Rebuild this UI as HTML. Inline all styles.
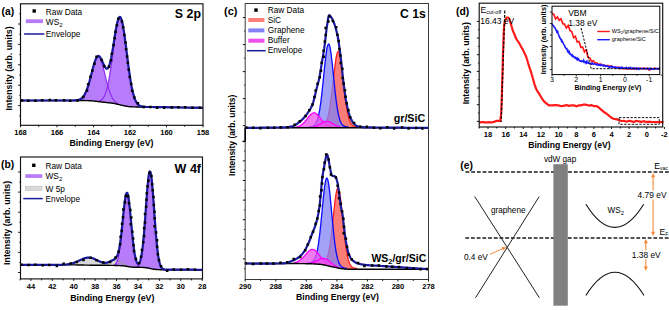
<!DOCTYPE html>
<html><head><meta charset="utf-8"><style>
html,body{margin:0;padding:0;background:#fff;}
svg{display:block;font-family:"Liberation Sans", sans-serif;}
</style></head><body>
<svg width="669" height="310" viewBox="0 0 669 310">
<rect x="0" y="0" width="669" height="310" fill="#fff"/>
<path d="M98.7,101.0 L99.2,100.9 L99.6,100.8 L100.1,100.6 L100.5,100.4 L101.0,100.2 L101.5,99.9 L101.9,99.5 L102.4,99.1 L102.8,98.6 L103.3,98.0 L103.7,97.2 L104.2,96.4 L104.7,95.5 L105.1,94.4 L105.6,93.3 L106.0,91.9 L106.5,90.4 L106.9,88.8 L107.4,86.9 L107.9,84.9 L108.3,82.7 L108.8,80.4 L109.2,77.9 L109.7,75.2 L110.1,72.3 L110.6,69.3 L111.1,66.2 L111.5,62.9 L112.0,59.5 L112.4,56.1 L112.9,52.6 L113.4,49.1 L113.8,45.7 L114.3,42.2 L114.7,38.9 L115.2,35.6 L115.6,32.6 L116.1,29.7 L116.6,27.0 L117.0,24.6 L117.5,22.5 L117.9,20.8 L118.4,19.3 L118.8,18.3 L119.3,17.6 L119.8,17.3 L120.2,17.4 L120.7,17.9 L121.1,18.8 L121.6,20.0 L122.0,21.7 L122.5,23.6 L123.0,25.9 L123.4,28.5 L123.9,31.3 L124.3,34.4 L124.8,37.6 L125.2,41.0 L125.7,44.6 L126.2,48.1 L126.6,51.8 L127.1,55.4 L127.5,59.0 L128.0,62.6 L128.4,66.1 L128.9,69.5 L129.4,72.7 L129.8,75.8 L130.3,78.8 L130.7,81.6 L131.2,84.2 L131.6,86.7 L132.1,88.9 L132.6,91.0 L133.0,92.9 L133.5,94.6 L133.9,96.2 L134.4,97.6 L134.8,98.9 L135.3,100.0 L135.8,101.0 L136.2,101.9 L136.7,102.7 L137.1,103.3 L137.6,103.9 L138.1,104.4 L138.5,104.8 L139.0,105.2 L139.4,105.5 L139.9,105.8 L140.3,106.0 L140.8,106.2 L141.3,106.3 L141.3,107.0 L138.5,107.0 L135.8,107.0 L133.0,106.9 L130.3,106.7 L127.5,106.4 L124.8,105.9 L122.0,105.3 L119.3,104.6 L116.6,104.0 L113.8,103.4 L111.1,103.0 L108.3,102.7 L105.6,102.4 L102.8,102.1 L100.1,101.8Z" fill="#b67cfa" stroke="none" fill-opacity="1"/>
<path d="M78.6,99.8 L79.0,99.7 L79.5,99.5 L80.0,99.3 L80.4,99.1 L80.9,98.8 L81.3,98.5 L81.8,98.2 L82.2,97.8 L82.7,97.3 L83.2,96.8 L83.6,96.2 L84.1,95.5 L84.5,94.8 L85.0,93.9 L85.4,93.0 L85.9,92.0 L86.4,91.0 L86.8,89.8 L87.3,88.5 L87.7,87.2 L88.2,85.8 L88.7,84.2 L89.1,82.7 L89.6,81.0 L90.0,79.3 L90.5,77.6 L90.9,75.8 L91.4,74.0 L91.9,72.2 L92.3,70.4 L92.8,68.6 L93.2,66.9 L93.7,65.3 L94.1,63.8 L94.6,62.3 L95.1,61.0 L95.5,59.9 L96.0,58.9 L96.4,58.0 L96.9,57.4 L97.3,56.9 L97.8,56.6 L98.3,56.6 L98.7,56.7 L99.2,57.1 L99.6,57.6 L100.1,58.3 L100.5,59.3 L101.0,60.3 L101.5,61.6 L101.9,63.0 L102.4,64.5 L102.8,66.1 L103.3,67.8 L103.7,69.6 L104.2,71.4 L104.7,73.3 L105.1,75.2 L105.6,77.1 L106.0,78.9 L106.5,80.8 L106.9,82.6 L107.4,84.3 L107.9,86.0 L108.3,87.5 L108.8,89.1 L109.2,90.5 L109.7,91.8 L110.1,93.1 L110.6,94.2 L111.1,95.3 L111.5,96.3 L112.0,97.2 L112.4,98.0 L112.9,98.8 L113.4,99.5 L113.8,100.1 L114.3,100.7 L114.7,101.2 L115.2,101.6 L115.6,102.0 L116.1,102.4 L116.6,102.7 L117.0,103.0 L117.5,103.3 L117.9,103.6 L117.9,104.3 L115.2,103.7 L112.4,103.2 L109.7,102.9 L106.9,102.6 L104.2,102.3 L101.5,102.0 L98.7,101.6 L96.0,101.3 L93.2,101.0 L90.5,100.8 L87.7,100.6 L85.0,100.6 L82.2,100.5 L79.5,100.5Z" fill="#b67cfa" stroke="none" fill-opacity="1"/>
<path d="M98.7,101.0 L99.2,100.9 L99.6,100.8 L100.1,100.6 L100.5,100.4 L101.0,100.2 L101.5,99.9 L101.9,99.5 L102.4,99.1 L102.8,98.6 L103.3,98.0 L103.7,97.2 L104.2,96.4 L104.7,95.5 L105.1,94.4 L105.6,93.3 L106.0,91.9 L106.5,90.4 L106.9,88.8 L107.4,86.9 L107.9,84.9 L108.3,82.7 L108.8,80.4 L109.2,77.9 L109.7,75.2 L110.1,72.3 L110.6,69.3 L111.1,66.2 L111.5,62.9 L112.0,59.5 L112.4,56.1 L112.9,52.6 L113.4,49.1 L113.8,45.7 L114.3,42.2 L114.7,38.9 L115.2,35.6 L115.6,32.6 L116.1,29.7 L116.6,27.0 L117.0,24.6 L117.5,22.5 L117.9,20.8 L118.4,19.3 L118.8,18.3 L119.3,17.6 L119.8,17.3 L120.2,17.4 L120.7,17.9 L121.1,18.8 L121.6,20.0 L122.0,21.7 L122.5,23.6 L123.0,25.9 L123.4,28.5 L123.9,31.3 L124.3,34.4 L124.8,37.6 L125.2,41.0 L125.7,44.6 L126.2,48.1 L126.6,51.8 L127.1,55.4 L127.5,59.0 L128.0,62.6 L128.4,66.1 L128.9,69.5 L129.4,72.7 L129.8,75.8 L130.3,78.8 L130.7,81.6 L131.2,84.2 L131.6,86.7 L132.1,88.9 L132.6,91.0 L133.0,92.9 L133.5,94.6 L133.9,96.2 L134.4,97.6 L134.8,98.9 L135.3,100.0 L135.8,101.0 L136.2,101.9 L136.7,102.7 L137.1,103.3 L137.6,103.9 L138.1,104.4 L138.5,104.8 L139.0,105.2 L139.4,105.5 L139.9,105.8 L140.3,106.0 L140.8,106.2 L141.3,106.3" stroke="#9028f0" stroke-width="1.2" fill="none" />
<path d="M78.6,99.8 L79.0,99.7 L79.5,99.5 L80.0,99.3 L80.4,99.1 L80.9,98.8 L81.3,98.5 L81.8,98.2 L82.2,97.8 L82.7,97.3 L83.2,96.8 L83.6,96.2 L84.1,95.5 L84.5,94.8 L85.0,93.9 L85.4,93.0 L85.9,92.0 L86.4,91.0 L86.8,89.8 L87.3,88.5 L87.7,87.2 L88.2,85.8 L88.7,84.2 L89.1,82.7 L89.6,81.0 L90.0,79.3 L90.5,77.6 L90.9,75.8 L91.4,74.0 L91.9,72.2 L92.3,70.4 L92.8,68.6 L93.2,66.9 L93.7,65.3 L94.1,63.8 L94.6,62.3 L95.1,61.0 L95.5,59.9 L96.0,58.9 L96.4,58.0 L96.9,57.4 L97.3,56.9 L97.8,56.6 L98.3,56.6 L98.7,56.7 L99.2,57.1 L99.6,57.6 L100.1,58.3 L100.5,59.3 L101.0,60.3 L101.5,61.6 L101.9,63.0 L102.4,64.5 L102.8,66.1 L103.3,67.8 L103.7,69.6 L104.2,71.4 L104.7,73.3 L105.1,75.2 L105.6,77.1 L106.0,78.9 L106.5,80.8 L106.9,82.6 L107.4,84.3 L107.9,86.0 L108.3,87.5 L108.8,89.1 L109.2,90.5 L109.7,91.8 L110.1,93.1 L110.6,94.2 L111.1,95.3 L111.5,96.3 L112.0,97.2 L112.4,98.0 L112.9,98.8 L113.4,99.5 L113.8,100.1 L114.3,100.7 L114.7,101.2 L115.2,101.6 L115.6,102.0 L116.1,102.4 L116.6,102.7 L117.0,103.0 L117.5,103.3 L117.9,103.6" stroke="#9028f0" stroke-width="1.2" fill="none" />
<path d="M20.5,100.5 L21.0,100.5 L21.4,100.5 L21.9,100.5 L22.3,100.5 L22.8,100.5 L23.2,100.5 L23.7,100.5 L24.2,100.5 L24.6,100.5 L25.1,100.5 L25.5,100.5 L26.0,100.5 L26.4,100.5 L26.9,100.5 L27.4,100.5 L27.8,100.5 L28.3,100.5 L28.7,100.5 L29.2,100.5 L29.6,100.5 L30.1,100.5 L30.6,100.5 L31.0,100.5 L31.5,100.5 L31.9,100.5 L32.4,100.5 L32.8,100.5 L33.3,100.5 L33.8,100.5 L34.2,100.5 L34.7,100.5 L35.1,100.5 L35.6,100.5 L36.1,100.5 L36.5,100.5 L37.0,100.5 L37.4,100.5 L37.9,100.5 L38.3,100.5 L38.8,100.5 L39.3,100.5 L39.7,100.5 L40.2,100.5 L40.6,100.5 L41.1,100.5 L41.5,100.5 L42.0,100.5 L42.5,100.5 L42.9,100.5 L43.4,100.5 L43.8,100.5 L44.3,100.5 L44.7,100.5 L45.2,100.5 L45.7,100.5 L46.1,100.5 L46.6,100.5 L47.0,100.5 L47.5,100.5 L47.9,100.5 L48.4,100.5 L48.9,100.5 L49.3,100.5 L49.8,100.5 L50.2,100.5 L50.7,100.5 L51.1,100.5 L51.6,100.5 L52.1,100.5 L52.5,100.5 L53.0,100.5 L53.4,100.5 L53.9,100.5 L54.3,100.5 L54.8,100.5 L55.3,100.5 L55.7,100.5 L56.2,100.5 L56.6,100.5 L57.1,100.5 L57.5,100.5 L58.0,100.5 L58.5,100.5 L58.9,100.5 L59.4,100.5 L59.8,100.5 L60.3,100.5 L60.8,100.5 L61.2,100.5 L61.7,100.5 L62.1,100.5 L62.6,100.5 L63.0,100.5 L63.5,100.5 L64.0,100.5 L64.4,100.5 L64.9,100.5 L65.3,100.5 L65.8,100.5 L66.2,100.5 L66.7,100.5 L67.2,100.5 L67.6,100.5 L68.1,100.5 L68.5,100.5 L69.0,100.5 L69.4,100.5 L69.9,100.5 L70.4,100.5 L70.8,100.5 L71.3,100.5 L71.7,100.5 L72.2,100.5 L72.6,100.5 L73.1,100.5 L73.6,100.5 L74.0,100.5 L74.5,100.5 L74.9,100.5 L75.4,100.5 L75.8,100.5 L76.3,100.5 L76.8,100.5 L77.2,100.5 L77.7,100.5 L78.1,100.5 L78.6,100.5 L79.0,100.5 L79.5,100.5 L80.0,100.5 L80.4,100.5 L80.9,100.5 L81.3,100.5 L81.8,100.5 L82.2,100.5 L82.7,100.5 L83.2,100.5 L83.6,100.5 L84.1,100.5 L84.5,100.5 L85.0,100.6 L85.4,100.6 L85.9,100.6 L86.4,100.6 L86.8,100.6 L87.3,100.6 L87.7,100.6 L88.2,100.6 L88.7,100.7 L89.1,100.7 L89.6,100.7 L90.0,100.7 L90.5,100.8 L90.9,100.8 L91.4,100.8 L91.9,100.9 L92.3,100.9 L92.8,100.9 L93.2,101.0 L93.7,101.0 L94.1,101.1 L94.6,101.1 L95.1,101.2 L95.5,101.2 L96.0,101.3 L96.4,101.3 L96.9,101.4 L97.3,101.5 L97.8,101.5 L98.3,101.6 L98.7,101.6 L99.2,101.7 L99.6,101.8 L100.1,101.8 L100.5,101.9 L101.0,101.9 L101.5,102.0 L101.9,102.0 L102.4,102.1 L102.8,102.1 L103.3,102.2 L103.7,102.3 L104.2,102.3 L104.7,102.3 L105.1,102.4 L105.6,102.4 L106.0,102.5 L106.5,102.5 L106.9,102.6 L107.4,102.6 L107.9,102.7 L108.3,102.7 L108.8,102.8 L109.2,102.8 L109.7,102.9 L110.1,102.9 L110.6,103.0 L111.1,103.0 L111.5,103.1 L112.0,103.1 L112.4,103.2 L112.9,103.3 L113.4,103.3 L113.8,103.4 L114.3,103.5 L114.7,103.6 L115.2,103.7 L115.6,103.8 L116.1,103.9 L116.6,104.0 L117.0,104.1 L117.5,104.2 L117.9,104.3 L118.4,104.4 L118.8,104.5 L119.3,104.6 L119.8,104.7 L120.2,104.8 L120.7,105.0 L121.1,105.1 L121.6,105.2 L122.0,105.3 L122.5,105.4 L123.0,105.5 L123.4,105.6 L123.9,105.7 L124.3,105.8 L124.8,105.9 L125.2,106.0 L125.7,106.1 L126.2,106.2 L126.6,106.3 L127.1,106.3 L127.5,106.4 L128.0,106.5 L128.4,106.5 L128.9,106.6 L129.4,106.6 L129.8,106.7 L130.3,106.7 L130.7,106.7 L131.2,106.8 L131.6,106.8 L132.1,106.8 L132.6,106.9 L133.0,106.9 L133.5,106.9 L133.9,106.9 L134.4,106.9 L134.8,106.9 L135.3,106.9 L135.8,107.0 L136.2,107.0 L136.7,107.0 L137.1,107.0 L137.6,107.0 L138.1,107.0 L138.5,107.0 L139.0,107.0 L139.4,107.0 L139.9,107.0 L140.3,107.0 L140.8,107.0 L141.3,107.0 L141.7,107.0 L142.2,107.0 L142.6,107.0 L143.1,107.0 L143.5,107.0 L144.0,107.0 L144.5,107.0 L144.9,107.0 L145.4,107.0 L145.8,107.0 L146.3,107.0 L146.7,107.0 L147.2,107.0 L147.7,107.0 L148.1,107.0 L148.6,107.0 L149.0,107.0 L149.5,107.0 L149.9,107.0 L150.4,107.0 L150.9,107.0 L151.3,107.0 L151.8,107.0 L152.2,107.0 L152.7,107.0 L153.1,107.0 L153.6,107.1 L154.1,107.1 L154.5,107.1 L155.0,107.1 L155.4,107.1 L155.9,107.1 L156.3,107.1 L156.8,107.1 L157.3,107.1 L157.7,107.1 L158.2,107.1 L158.6,107.1 L159.1,107.1 L159.5,107.1 L160.0,107.2 L160.5,107.2 L160.9,107.2 L161.4,107.2 L161.8,107.2 L162.3,107.2 L162.7,107.2 L163.2,107.2 L163.7,107.2 L164.1,107.2 L164.6,107.2 L165.0,107.2 L165.5,107.2 L166.0,107.2 L166.4,107.2 L166.9,107.3 L167.3,107.3 L167.8,107.3 L168.2,107.3 L168.7,107.3 L169.2,107.3 L169.6,107.3 L170.1,107.3 L170.5,107.3 L171.0,107.3 L171.4,107.3 L171.9,107.3 L172.4,107.3 L172.8,107.3 L173.3,107.3 L173.7,107.4 L174.2,107.4 L174.6,107.4 L175.1,107.4 L175.6,107.4 L176.0,107.4 L176.5,107.4 L176.9,107.4 L177.4,107.4 L177.8,107.4 L178.3,107.4 L178.8,107.4 L179.2,107.4 L179.7,107.4 L180.1,107.5 L180.6,107.5 L181.0,107.5 L181.5,107.5 L182.0,107.5 L182.4,107.5 L182.9,107.5 L183.3,107.5 L183.8,107.5 L184.2,107.5 L184.7,107.5 L185.2,107.5 L185.6,107.5 L186.1,107.5 L186.5,107.5 L187.0,107.6 L187.4,107.6 L187.9,107.6 L188.4,107.6 L188.8,107.6 L189.3,107.6 L189.7,107.6 L190.2,107.6 L190.7,107.6 L191.1,107.6 L191.6,107.6 L192.0,107.6 L192.5,107.6 L192.9,107.6 L193.4,107.7 L193.9,107.7 L194.3,107.7 L194.8,107.7 L195.2,107.7 L195.7,107.7 L196.1,107.7 L196.6,107.7 L197.1,107.7 L197.5,107.7 L198.0,107.7 L198.4,107.7 L198.9,107.7 L199.3,107.7 L199.8,107.7 L200.3,107.8 L200.7,107.8 L201.2,107.8 L201.6,107.8 L202.1,107.8 L202.5,107.8 L203.0,107.8" stroke="#000" stroke-width="1.4" fill="none" />
<path d="M20.5,100.5 L21.0,100.5 L21.4,100.5 L21.9,100.5 L22.3,100.5 L22.8,100.5 L23.2,100.5 L23.7,100.5 L24.2,100.5 L24.6,100.5 L25.1,100.5 L25.5,100.5 L26.0,100.5 L26.4,100.5 L26.9,100.5 L27.4,100.5 L27.8,100.5 L28.3,100.5 L28.7,100.5 L29.2,100.5 L29.6,100.5 L30.1,100.5 L30.6,100.5 L31.0,100.5 L31.5,100.5 L31.9,100.5 L32.4,100.5 L32.8,100.5 L33.3,100.5 L33.8,100.5 L34.2,100.5 L34.7,100.5 L35.1,100.5 L35.6,100.5 L36.1,100.5 L36.5,100.5 L37.0,100.5 L37.4,100.5 L37.9,100.5 L38.3,100.5 L38.8,100.5 L39.3,100.5 L39.7,100.5 L40.2,100.5 L40.6,100.5 L41.1,100.5 L41.5,100.5 L42.0,100.5 L42.5,100.5 L42.9,100.5 L43.4,100.5 L43.8,100.5 L44.3,100.5 L44.7,100.5 L45.2,100.5 L45.7,100.5 L46.1,100.5 L46.6,100.5 L47.0,100.5 L47.5,100.5 L47.9,100.5 L48.4,100.5 L48.9,100.5 L49.3,100.5 L49.8,100.5 L50.2,100.5 L50.7,100.5 L51.1,100.5 L51.6,100.5 L52.1,100.5 L52.5,100.5 L53.0,100.5 L53.4,100.5 L53.9,100.5 L54.3,100.5 L54.8,100.5 L55.3,100.5 L55.7,100.5 L56.2,100.5 L56.6,100.5 L57.1,100.5 L57.5,100.5 L58.0,100.5 L58.5,100.5 L58.9,100.5 L59.4,100.5 L59.8,100.5 L60.3,100.5 L60.8,100.5 L61.2,100.5 L61.7,100.5 L62.1,100.5 L62.6,100.5 L63.0,100.5 L63.5,100.5 L64.0,100.5 L64.4,100.5 L64.9,100.5 L65.3,100.5 L65.8,100.5 L66.2,100.5 L66.7,100.5 L67.2,100.5 L67.6,100.5 L68.1,100.5 L68.5,100.5 L69.0,100.5 L69.4,100.5 L69.9,100.5 L70.4,100.5 L70.8,100.5 L71.3,100.5 L71.7,100.5 L72.2,100.5 L72.6,100.5 L73.1,100.5 L73.6,100.4 L74.0,100.4 L74.5,100.4 L74.9,100.4 L75.4,100.3 L75.8,100.3 L76.3,100.3 L76.8,100.2 L77.2,100.1 L77.7,100.1 L78.1,100.0 L78.6,99.8 L79.0,99.7 L79.5,99.5 L80.0,99.3 L80.4,99.1 L80.9,98.8 L81.3,98.5 L81.8,98.2 L82.2,97.8 L82.7,97.3 L83.2,96.8 L83.6,96.2 L84.1,95.5 L84.5,94.8 L85.0,93.9 L85.4,93.0 L85.9,92.0 L86.4,91.0 L86.8,89.8 L87.3,88.5 L87.7,87.2 L88.2,85.8 L88.7,84.2 L89.1,82.7 L89.6,81.0 L90.0,79.3 L90.5,77.5 L90.9,75.8 L91.4,74.0 L91.9,72.2 L92.3,70.4 L92.8,68.6 L93.2,66.9 L93.7,65.3 L94.1,63.7 L94.6,62.2 L95.1,60.9 L95.5,59.7 L96.0,58.7 L96.4,57.8 L96.9,57.1 L97.3,56.6 L97.8,56.2 L98.3,56.0 L98.7,56.1 L99.2,56.3 L99.6,56.6 L100.1,57.1 L100.5,57.8 L101.0,58.6 L101.5,59.5 L101.9,60.4 L102.4,61.5 L102.8,62.5 L103.3,63.6 L103.7,64.6 L104.2,65.6 L104.7,66.5 L105.1,67.2 L105.6,67.9 L106.0,68.4 L106.5,68.7 L106.9,68.7 L107.4,68.6 L107.9,68.2 L108.3,67.6 L108.8,66.7 L109.2,65.5 L109.7,64.1 L110.1,62.5 L110.6,60.6 L111.1,58.5 L111.5,56.1 L112.0,53.6 L112.4,50.9 L112.9,48.2 L113.4,45.3 L113.8,42.3 L114.3,39.4 L114.7,36.4 L115.2,33.6 L115.6,30.8 L116.1,28.2 L116.6,25.8 L117.0,23.6 L117.5,21.7 L117.9,20.1 L118.4,18.8 L118.8,17.8 L119.3,17.2 L119.8,17.0 L120.2,17.1 L120.7,17.7 L121.1,18.6 L121.6,19.9 L122.0,21.6 L122.5,23.6 L123.0,25.9 L123.4,28.5 L123.9,31.3 L124.3,34.4 L124.8,37.6 L125.2,41.0 L125.7,44.5 L126.2,48.1 L126.6,51.8 L127.1,55.4 L127.5,59.0 L128.0,62.6 L128.4,66.1 L128.9,69.5 L129.4,72.7 L129.8,75.8 L130.3,78.8 L130.7,81.6 L131.2,84.2 L131.6,86.7 L132.1,88.9 L132.6,91.0 L133.0,92.9 L133.5,94.6 L133.9,96.2 L134.4,97.6 L134.8,98.9 L135.3,100.0 L135.8,101.0 L136.2,101.9 L136.7,102.7 L137.1,103.3 L137.6,103.9 L138.1,104.4 L138.5,104.8 L139.0,105.2 L139.4,105.5 L139.9,105.8 L140.3,106.0 L140.8,106.2 L141.3,106.3 L141.7,106.5 L142.2,106.6 L142.6,106.7 L143.1,106.7 L143.5,106.8 L144.0,106.8 L144.5,106.9 L144.9,106.9 L145.4,106.9 L145.8,106.9 L146.3,107.0 L146.7,107.0 L147.2,107.0 L147.7,107.0 L148.1,107.0 L148.6,107.0 L149.0,107.0 L149.5,107.0 L149.9,107.0 L150.4,107.0 L150.9,107.0 L151.3,107.0 L151.8,107.0 L152.2,107.0 L152.7,107.0 L153.1,107.0 L153.6,107.1 L154.1,107.1 L154.5,107.1 L155.0,107.1 L155.4,107.1 L155.9,107.1 L156.3,107.1 L156.8,107.1 L157.3,107.1 L157.7,107.1 L158.2,107.1 L158.6,107.1 L159.1,107.1 L159.5,107.1 L160.0,107.2 L160.5,107.2 L160.9,107.2 L161.4,107.2 L161.8,107.2 L162.3,107.2 L162.7,107.2 L163.2,107.2 L163.7,107.2 L164.1,107.2 L164.6,107.2 L165.0,107.2 L165.5,107.2 L166.0,107.2 L166.4,107.2 L166.9,107.3 L167.3,107.3 L167.8,107.3 L168.2,107.3 L168.7,107.3 L169.2,107.3 L169.6,107.3 L170.1,107.3 L170.5,107.3 L171.0,107.3 L171.4,107.3 L171.9,107.3 L172.4,107.3 L172.8,107.3 L173.3,107.3 L173.7,107.4 L174.2,107.4 L174.6,107.4 L175.1,107.4 L175.6,107.4 L176.0,107.4 L176.5,107.4 L176.9,107.4 L177.4,107.4 L177.8,107.4 L178.3,107.4 L178.8,107.4 L179.2,107.4 L179.7,107.4 L180.1,107.5 L180.6,107.5 L181.0,107.5 L181.5,107.5 L182.0,107.5 L182.4,107.5 L182.9,107.5 L183.3,107.5 L183.8,107.5 L184.2,107.5 L184.7,107.5 L185.2,107.5 L185.6,107.5 L186.1,107.5 L186.5,107.5 L187.0,107.6 L187.4,107.6 L187.9,107.6 L188.4,107.6 L188.8,107.6 L189.3,107.6 L189.7,107.6 L190.2,107.6 L190.7,107.6 L191.1,107.6 L191.6,107.6 L192.0,107.6 L192.5,107.6 L192.9,107.6 L193.4,107.7 L193.9,107.7 L194.3,107.7 L194.8,107.7 L195.2,107.7 L195.7,107.7 L196.1,107.7 L196.6,107.7 L197.1,107.7 L197.5,107.7 L198.0,107.7 L198.4,107.7 L198.9,107.7 L199.3,107.7 L199.8,107.7 L200.3,107.8 L200.7,107.8 L201.2,107.8 L201.6,107.8 L202.1,107.8 L202.5,107.8 L203.0,107.8" stroke="#1a1a9c" stroke-width="2.2" fill="none" />
<path d="M20.7,99.3h2.5v2.5h-2.5zM27.1,99.6h2.5v2.5h-2.5zM34.1,99.4h2.5v2.5h-2.5zM40.9,99.1h2.5v2.5h-2.5zM48.5,98.7h2.5v2.5h-2.5zM54.6,99.1h2.5v2.5h-2.5zM62.8,99.1h2.5v2.5h-2.5zM69.0,99.5h2.5v2.5h-2.5zM76.3,99.3h2.5v2.5h-2.5zM82.0,95.8h2.5v2.5h-2.5zM85.8,89.3h2.5v2.5h-2.5zM86.9,82.9h2.5v2.5h-2.5zM89.3,75.4h2.5v2.5h-2.5zM91.0,69.6h2.5v2.5h-2.5zM93.3,62.5h2.5v2.5h-2.5zM95.3,55.6h2.5v2.5h-2.5zM100.3,58.8h2.5v2.5h-2.5zM103.0,64.9h2.5v2.5h-2.5zM107.7,65.6h2.5v2.5h-2.5zM109.8,59.0h2.5v2.5h-2.5zM110.6,52.5h2.5v2.5h-2.5zM112.4,43.8h2.5v2.5h-2.5zM113.4,36.9h2.5v2.5h-2.5zM114.4,30.4h2.5v2.5h-2.5zM115.7,23.9h2.5v2.5h-2.5zM117.1,17.5h2.5v2.5h-2.5zM120.7,20.3h2.5v2.5h-2.5zM121.9,26.0h2.5v2.5h-2.5zM123.1,33.8h2.5v2.5h-2.5zM124.3,41.3h2.5v2.5h-2.5zM124.8,48.0h2.5v2.5h-2.5zM125.8,55.2h2.5v2.5h-2.5zM126.6,61.6h2.5v2.5h-2.5zM127.5,68.6h2.5v2.5h-2.5zM128.5,75.7h2.5v2.5h-2.5zM129.9,82.7h2.5v2.5h-2.5zM130.9,89.5h2.5v2.5h-2.5zM133.1,96.2h2.5v2.5h-2.5zM136.6,102.0h2.5v2.5h-2.5zM142.4,105.7h2.5v2.5h-2.5zM149.1,105.8h2.5v2.5h-2.5zM155.9,106.4h2.5v2.5h-2.5zM162.9,106.6h2.5v2.5h-2.5zM170.6,106.2h2.5v2.5h-2.5zM177.1,106.0h2.5v2.5h-2.5zM183.9,106.0h2.5v2.5h-2.5zM191.2,106.6h2.5v2.5h-2.5zM198.8,106.5h2.5v2.5h-2.5z" fill="#000"/>
<rect x="20.50" y="3.80" width="182.50" height="121.50" fill="none" stroke="#111" stroke-width="1.15" />
<line x1="19.20" y1="13.80" x2="20.50" y2="13.80" stroke="#000" stroke-width="0.7" />
<line x1="18.10" y1="24.00" x2="20.50" y2="24.00" stroke="#000" stroke-width="0.9" />
<line x1="19.20" y1="34.20" x2="20.50" y2="34.20" stroke="#000" stroke-width="0.7" />
<line x1="18.10" y1="44.40" x2="20.50" y2="44.40" stroke="#000" stroke-width="0.9" />
<line x1="19.20" y1="54.60" x2="20.50" y2="54.60" stroke="#000" stroke-width="0.7" />
<line x1="18.10" y1="64.80" x2="20.50" y2="64.80" stroke="#000" stroke-width="0.9" />
<line x1="19.20" y1="75.00" x2="20.50" y2="75.00" stroke="#000" stroke-width="0.7" />
<line x1="18.10" y1="85.20" x2="20.50" y2="85.20" stroke="#000" stroke-width="0.9" />
<line x1="19.20" y1="95.40" x2="20.50" y2="95.40" stroke="#000" stroke-width="0.7" />
<line x1="18.10" y1="105.60" x2="20.50" y2="105.60" stroke="#000" stroke-width="0.9" />
<line x1="19.20" y1="115.80" x2="20.50" y2="115.80" stroke="#000" stroke-width="0.7" />
<line x1="20.50" y1="125.30" x2="20.50" y2="127.30" stroke="#000" stroke-width="0.9" />
<line x1="38.75" y1="125.30" x2="38.75" y2="126.80" stroke="#000" stroke-width="0.9" />
<line x1="57.00" y1="125.30" x2="57.00" y2="127.30" stroke="#000" stroke-width="0.9" />
<line x1="75.25" y1="125.30" x2="75.25" y2="126.80" stroke="#000" stroke-width="0.9" />
<line x1="93.50" y1="125.30" x2="93.50" y2="127.30" stroke="#000" stroke-width="0.9" />
<line x1="111.75" y1="125.30" x2="111.75" y2="126.80" stroke="#000" stroke-width="0.9" />
<line x1="130.00" y1="125.30" x2="130.00" y2="127.30" stroke="#000" stroke-width="0.9" />
<line x1="148.25" y1="125.30" x2="148.25" y2="126.80" stroke="#000" stroke-width="0.9" />
<line x1="166.50" y1="125.30" x2="166.50" y2="127.30" stroke="#000" stroke-width="0.9" />
<line x1="184.75" y1="125.30" x2="184.75" y2="126.80" stroke="#000" stroke-width="0.9" />
<line x1="203.00" y1="125.30" x2="203.00" y2="127.30" stroke="#000" stroke-width="0.9" />
<text x="20.50" y="135.00" font-size="7.5" font-weight="bold" text-anchor="middle" fill="#000" >168</text>
<text x="57.00" y="135.00" font-size="7.5" font-weight="bold" text-anchor="middle" fill="#000" >166</text>
<text x="93.50" y="135.00" font-size="7.5" font-weight="bold" text-anchor="middle" fill="#000" >164</text>
<text x="130.00" y="135.00" font-size="7.5" font-weight="bold" text-anchor="middle" fill="#000" >162</text>
<text x="166.50" y="135.00" font-size="7.5" font-weight="bold" text-anchor="middle" fill="#000" >160</text>
<text x="203.00" y="135.00" font-size="7.5" font-weight="bold" text-anchor="middle" fill="#000" >158</text>
<text x="111.50" y="145.80" font-size="8.8" font-weight="bold" text-anchor="middle" fill="#000" >Binding Energy (eV)</text>
<text transform="translate(12.1,68.4) rotate(-90)" font-size="8.8" font-weight="bold" text-anchor="middle">Intensity (arb. units)</text>
<text x="1.50" y="15.30" font-size="10.3" font-weight="bold" text-anchor="start" fill="#000" >(a)</text>
<text x="201.00" y="18.00" font-size="12.4" font-weight="bold" text-anchor="end" fill="#000" >S 2p</text>
<rect x="32.50" y="9.30" width="3.40" height="3.40" fill="#000" stroke="none" stroke-width="1" />
<text x="45.80" y="14.50" font-size="8.3" text-anchor="start" fill="#000" >Raw Data</text>
<rect x="25.80" y="19.30" width="17.20" height="3.80" fill="#b67cfa" stroke="none" stroke-width="1" />
<text x="45.80" y="24.90" font-size="8.3" text-anchor="start" fill="#000" >WS<tspan font-size="6" dy="2.4">2</tspan></text>
<line x1="24.10" y1="34.00" x2="44.30" y2="34.00" stroke="#1a1a9c" stroke-width="1.5" />
<text x="45.80" y="36.80" font-size="8.3" text-anchor="start" fill="#000" >Envelope</text>
<path d="M68.3,264.2 L68.7,264.2 L69.1,264.1 L69.6,264.0 L70.0,263.9 L70.5,263.8 L70.9,263.7 L71.3,263.6 L71.8,263.5 L72.2,263.4 L72.6,263.2 L73.1,263.1 L73.5,263.0 L73.9,262.8 L74.4,262.7 L74.8,262.5 L75.2,262.3 L75.7,262.1 L76.1,262.0 L76.5,261.8 L77.0,261.6 L77.4,261.4 L77.8,261.2 L78.3,261.0 L78.7,260.8 L79.1,260.6 L79.6,260.4 L80.0,260.2 L80.4,260.0 L80.9,259.8 L81.3,259.6 L81.7,259.4 L82.2,259.2 L82.6,259.0 L83.0,258.8 L83.5,258.7 L83.9,258.5 L84.4,258.4 L84.8,258.2 L85.2,258.1 L85.7,258.0 L86.1,257.9 L86.5,257.8 L87.0,257.7 L87.4,257.7 L87.8,257.7 L88.3,257.6 L88.7,257.6 L89.1,257.6 L89.6,257.7 L90.0,257.7 L90.4,257.8 L90.9,257.9 L91.3,257.9 L91.7,258.0 L92.2,258.2 L92.6,258.3 L93.0,258.4 L93.5,258.6 L93.9,258.8 L94.3,258.9 L94.8,259.1 L95.2,259.3 L95.6,259.5 L96.1,259.7 L96.5,259.9 L96.9,260.1 L97.4,260.4 L97.8,260.6 L98.3,260.8 L98.7,261.0 L99.1,261.2 L99.6,261.4 L100.0,261.6 L100.4,261.9 L100.9,262.1 L101.3,262.3 L101.7,262.4 L102.2,262.6 L102.6,262.8 L103.0,263.0 L103.5,263.2 L103.9,263.3 L104.3,263.5 L104.8,263.6 L105.2,263.8 L105.6,263.9 L106.1,264.0 L106.5,264.1 L106.9,264.2 L107.4,264.3 L107.8,264.4 L108.2,264.5 L108.7,264.6 L109.1,264.7 L109.5,264.8 L109.5,265.4 L106.9,265.4 L104.3,265.3 L101.7,265.3 L99.1,265.3 L96.5,265.3 L93.9,265.2 L91.3,265.2 L88.7,265.1 L86.1,265.1 L83.5,265.0 L80.9,265.0 L78.3,265.0 L75.7,264.9 L73.1,264.9 L70.5,264.9Z" fill="#d9d9d9" stroke="none" fill-opacity="1"/>
<path d="M103.9,264.7 L104.3,264.6 L104.8,264.5 L105.2,264.4 L105.6,264.2 L106.1,264.1 L106.5,263.9 L106.9,263.7 L107.4,263.5 L107.8,263.3 L108.2,263.1 L108.7,262.8 L109.1,262.6 L109.5,262.3 L110.0,262.1 L110.4,261.8 L110.8,261.6 L111.3,261.3 L111.7,261.1 L112.2,260.8 L112.6,260.6 L113.0,260.5 L113.5,260.3 L113.9,260.2 L114.3,260.1 L114.8,260.0 L115.2,260.0 L115.6,260.0 L116.1,260.0 L116.5,260.1 L116.9,260.2 L117.4,260.3 L117.8,260.5 L118.2,260.7 L118.7,260.9 L119.1,261.1 L119.5,261.4 L120.0,261.6 L120.4,261.9 L120.8,262.2 L121.3,262.5 L121.7,262.8 L122.1,263.1 L122.6,263.4 L123.0,263.7 L123.4,263.9 L123.9,264.2 L124.3,264.5 L124.7,264.7 L125.2,264.9 L125.6,265.2 L126.1,265.4 L126.5,265.6 L126.9,265.7 L126.9,266.4 L124.3,266.0 L121.7,265.7 L119.1,265.6 L116.5,265.5 L113.9,265.4 L111.3,265.4 L108.7,265.4 L106.1,265.4Z" fill="#d9d9d9" stroke="none" fill-opacity="1"/>
<path d="M113.9,264.9 L114.3,264.8 L114.8,264.5 L115.2,264.2 L115.6,263.7 L116.1,263.2 L116.5,262.5 L116.9,261.6 L117.4,260.5 L117.8,259.2 L118.2,257.6 L118.7,255.7 L119.1,253.5 L119.5,251.0 L120.0,248.1 L120.4,244.8 L120.8,241.2 L121.3,237.4 L121.7,233.2 L122.1,228.8 L122.6,224.3 L123.0,219.7 L123.4,215.2 L123.9,210.8 L124.3,206.7 L124.7,203.0 L125.2,199.8 L125.6,197.1 L126.1,195.1 L126.5,193.9 L126.9,193.4 L127.4,193.7 L127.8,194.8 L128.2,196.7 L128.7,199.3 L129.1,202.4 L129.5,206.1 L130.0,210.2 L130.4,214.6 L130.8,219.2 L131.3,223.8 L131.7,228.5 L132.1,233.0 L132.6,237.3 L133.0,241.4 L133.4,245.1 L133.9,248.5 L134.3,251.6 L134.7,254.3 L135.2,256.7 L135.6,258.7 L136.0,260.4 L136.5,261.8 L136.9,263.0 L137.3,264.0 L137.8,264.8 L138.2,265.4 L138.6,265.9 L139.1,266.3 L139.5,266.6 L140.0,266.8 L140.0,267.4 L137.3,267.3 L134.7,267.3 L132.1,267.1 L129.5,266.8 L126.9,266.4 L124.3,266.0 L121.7,265.7 L119.1,265.6 L116.5,265.5 L113.9,265.4Z" fill="#b67cfa" stroke="none" fill-opacity="1"/>
<path d="M136.9,266.6 L137.3,266.4 L137.8,266.0 L138.2,265.6 L138.6,265.0 L139.1,264.2 L139.5,263.3 L140.0,262.1 L140.4,260.6 L140.8,258.9 L141.3,256.7 L141.7,254.2 L142.1,251.2 L142.6,247.8 L143.0,243.9 L143.4,239.6 L143.9,234.8 L144.3,229.6 L144.7,224.1 L145.2,218.2 L145.6,212.2 L146.0,206.1 L146.5,200.1 L146.9,194.3 L147.3,188.9 L147.8,184.0 L148.2,179.7 L148.6,176.2 L149.1,173.6 L149.5,172.0 L149.9,171.5 L150.4,171.9 L150.8,173.5 L151.2,176.0 L151.7,179.4 L152.1,183.7 L152.5,188.6 L153.0,194.0 L153.4,199.9 L153.9,206.0 L154.3,212.2 L154.7,218.4 L155.2,224.3 L155.6,230.1 L156.0,235.4 L156.5,240.4 L156.9,244.9 L157.3,249.0 L157.8,252.5 L158.2,255.7 L158.6,258.3 L159.1,260.6 L159.5,262.5 L159.9,264.0 L160.4,265.3 L160.8,266.3 L161.2,267.1 L161.7,267.8 L162.1,268.3 L162.5,268.6 L163.0,268.9 L163.4,269.1 L163.4,269.7 L160.8,269.7 L158.2,269.6 L155.6,269.4 L153.0,269.1 L150.4,268.5 L147.8,268.0 L145.2,267.6 L142.6,267.4 L140.0,267.4 L137.3,267.3Z" fill="#b67cfa" stroke="none" fill-opacity="1"/>
<path d="M68.3,264.2 L68.7,264.2 L69.1,264.1 L69.6,264.0 L70.0,263.9 L70.5,263.8 L70.9,263.7 L71.3,263.6 L71.8,263.5 L72.2,263.4 L72.6,263.2 L73.1,263.1 L73.5,263.0 L73.9,262.8 L74.4,262.7 L74.8,262.5 L75.2,262.3 L75.7,262.1 L76.1,262.0 L76.5,261.8 L77.0,261.6 L77.4,261.4 L77.8,261.2 L78.3,261.0 L78.7,260.8 L79.1,260.6 L79.6,260.4 L80.0,260.2 L80.4,260.0 L80.9,259.8 L81.3,259.6 L81.7,259.4 L82.2,259.2 L82.6,259.0 L83.0,258.8 L83.5,258.7 L83.9,258.5 L84.4,258.4 L84.8,258.2 L85.2,258.1 L85.7,258.0 L86.1,257.9 L86.5,257.8 L87.0,257.7 L87.4,257.7 L87.8,257.7 L88.3,257.6 L88.7,257.6 L89.1,257.6 L89.6,257.7 L90.0,257.7 L90.4,257.8 L90.9,257.9 L91.3,257.9 L91.7,258.0 L92.2,258.2 L92.6,258.3 L93.0,258.4 L93.5,258.6 L93.9,258.8 L94.3,258.9 L94.8,259.1 L95.2,259.3 L95.6,259.5 L96.1,259.7 L96.5,259.9 L96.9,260.1 L97.4,260.4 L97.8,260.6 L98.3,260.8 L98.7,261.0 L99.1,261.2 L99.6,261.4 L100.0,261.6 L100.4,261.9 L100.9,262.1 L101.3,262.3 L101.7,262.4 L102.2,262.6 L102.6,262.8 L103.0,263.0 L103.5,263.2 L103.9,263.3 L104.3,263.5 L104.8,263.6 L105.2,263.8 L105.6,263.9 L106.1,264.0 L106.5,264.1 L106.9,264.2 L107.4,264.3 L107.8,264.4 L108.2,264.5 L108.7,264.6 L109.1,264.7 L109.5,264.8" stroke="#999999" stroke-width="1.2" fill="none" />
<path d="M103.9,264.7 L104.3,264.6 L104.8,264.5 L105.2,264.4 L105.6,264.2 L106.1,264.1 L106.5,263.9 L106.9,263.7 L107.4,263.5 L107.8,263.3 L108.2,263.1 L108.7,262.8 L109.1,262.6 L109.5,262.3 L110.0,262.1 L110.4,261.8 L110.8,261.6 L111.3,261.3 L111.7,261.1 L112.2,260.8 L112.6,260.6 L113.0,260.5 L113.5,260.3 L113.9,260.2 L114.3,260.1 L114.8,260.0 L115.2,260.0 L115.6,260.0 L116.1,260.0 L116.5,260.1 L116.9,260.2 L117.4,260.3 L117.8,260.5 L118.2,260.7 L118.7,260.9 L119.1,261.1 L119.5,261.4 L120.0,261.6 L120.4,261.9 L120.8,262.2 L121.3,262.5 L121.7,262.8 L122.1,263.1 L122.6,263.4 L123.0,263.7 L123.4,263.9 L123.9,264.2 L124.3,264.5 L124.7,264.7 L125.2,264.9 L125.6,265.2 L126.1,265.4 L126.5,265.6 L126.9,265.7" stroke="#999999" stroke-width="1.2" fill="none" />
<path d="M113.9,264.9 L114.3,264.8 L114.8,264.5 L115.2,264.2 L115.6,263.7 L116.1,263.2 L116.5,262.5 L116.9,261.6 L117.4,260.5 L117.8,259.2 L118.2,257.6 L118.7,255.7 L119.1,253.5 L119.5,251.0 L120.0,248.1 L120.4,244.8 L120.8,241.2 L121.3,237.4 L121.7,233.2 L122.1,228.8 L122.6,224.3 L123.0,219.7 L123.4,215.2 L123.9,210.8 L124.3,206.7 L124.7,203.0 L125.2,199.8 L125.6,197.1 L126.1,195.1 L126.5,193.9 L126.9,193.4 L127.4,193.7 L127.8,194.8 L128.2,196.7 L128.7,199.3 L129.1,202.4 L129.5,206.1 L130.0,210.2 L130.4,214.6 L130.8,219.2 L131.3,223.8 L131.7,228.5 L132.1,233.0 L132.6,237.3 L133.0,241.4 L133.4,245.1 L133.9,248.5 L134.3,251.6 L134.7,254.3 L135.2,256.7 L135.6,258.7 L136.0,260.4 L136.5,261.8 L136.9,263.0 L137.3,264.0 L137.8,264.8 L138.2,265.4 L138.6,265.9 L139.1,266.3 L139.5,266.6 L140.0,266.8" stroke="#9028f0" stroke-width="1.2" fill="none" />
<path d="M136.9,266.6 L137.3,266.4 L137.8,266.0 L138.2,265.6 L138.6,265.0 L139.1,264.2 L139.5,263.3 L140.0,262.1 L140.4,260.6 L140.8,258.9 L141.3,256.7 L141.7,254.2 L142.1,251.2 L142.6,247.8 L143.0,243.9 L143.4,239.6 L143.9,234.8 L144.3,229.6 L144.7,224.1 L145.2,218.2 L145.6,212.2 L146.0,206.1 L146.5,200.1 L146.9,194.3 L147.3,188.9 L147.8,184.0 L148.2,179.7 L148.6,176.2 L149.1,173.6 L149.5,172.0 L149.9,171.5 L150.4,171.9 L150.8,173.5 L151.2,176.0 L151.7,179.4 L152.1,183.7 L152.5,188.6 L153.0,194.0 L153.4,199.9 L153.9,206.0 L154.3,212.2 L154.7,218.4 L155.2,224.3 L155.6,230.1 L156.0,235.4 L156.5,240.4 L156.9,244.9 L157.3,249.0 L157.8,252.5 L158.2,255.7 L158.6,258.3 L159.1,260.6 L159.5,262.5 L159.9,264.0 L160.4,265.3 L160.8,266.3 L161.2,267.1 L161.7,267.8 L162.1,268.3 L162.5,268.6 L163.0,268.9 L163.4,269.1" stroke="#9028f0" stroke-width="1.2" fill="none" />
<path d="M20.5,264.8 L20.9,264.8 L21.4,264.8 L21.8,264.8 L22.2,264.8 L22.7,264.8 L23.1,264.8 L23.5,264.8 L24.0,264.8 L24.4,264.8 L24.8,264.8 L25.3,264.8 L25.7,264.8 L26.1,264.8 L26.6,264.8 L27.0,264.8 L27.4,264.8 L27.9,264.8 L28.3,264.8 L28.8,264.8 L29.2,264.8 L29.6,264.8 L30.1,264.8 L30.5,264.8 L30.9,264.8 L31.4,264.8 L31.8,264.8 L32.2,264.8 L32.7,264.8 L33.1,264.8 L33.5,264.8 L34.0,264.8 L34.4,264.8 L34.8,264.8 L35.3,264.8 L35.7,264.8 L36.1,264.8 L36.6,264.8 L37.0,264.8 L37.4,264.8 L37.9,264.8 L38.3,264.8 L38.7,264.8 L39.2,264.8 L39.6,264.8 L40.0,264.8 L40.5,264.8 L40.9,264.8 L41.3,264.8 L41.8,264.8 L42.2,264.8 L42.7,264.8 L43.1,264.8 L43.5,264.8 L44.0,264.8 L44.4,264.8 L44.8,264.8 L45.3,264.8 L45.7,264.9 L46.1,264.9 L46.6,264.9 L47.0,264.9 L47.4,264.9 L47.9,264.9 L48.3,264.9 L48.7,264.9 L49.2,264.9 L49.6,264.9 L50.0,264.9 L50.5,264.9 L50.9,264.9 L51.3,264.9 L51.8,264.9 L52.2,264.9 L52.6,264.9 L53.1,264.9 L53.5,264.9 L53.9,264.9 L54.4,264.9 L54.8,264.9 L55.2,264.9 L55.7,264.9 L56.1,264.9 L56.6,264.9 L57.0,264.9 L57.4,264.9 L57.9,264.9 L58.3,264.9 L58.7,264.9 L59.2,264.9 L59.6,264.9 L60.0,264.9 L60.5,264.9 L60.9,264.9 L61.3,264.9 L61.8,264.9 L62.2,264.9 L62.6,264.9 L63.1,264.9 L63.5,264.9 L63.9,264.9 L64.4,264.9 L64.8,264.9 L65.2,264.9 L65.7,264.9 L66.1,264.9 L66.5,264.9 L67.0,264.9 L67.4,264.9 L67.8,264.9 L68.3,264.9 L68.7,264.9 L69.1,264.9 L69.6,264.9 L70.0,264.9 L70.5,264.9 L70.9,264.9 L71.3,264.9 L71.8,264.9 L72.2,264.9 L72.6,264.9 L73.1,264.9 L73.5,264.9 L73.9,264.9 L74.4,264.9 L74.8,264.9 L75.2,264.9 L75.7,264.9 L76.1,264.9 L76.5,264.9 L77.0,265.0 L77.4,265.0 L77.8,265.0 L78.3,265.0 L78.7,265.0 L79.1,265.0 L79.6,265.0 L80.0,265.0 L80.4,265.0 L80.9,265.0 L81.3,265.0 L81.7,265.0 L82.2,265.0 L82.6,265.0 L83.0,265.0 L83.5,265.0 L83.9,265.0 L84.4,265.1 L84.8,265.1 L85.2,265.1 L85.7,265.1 L86.1,265.1 L86.5,265.1 L87.0,265.1 L87.4,265.1 L87.8,265.1 L88.3,265.1 L88.7,265.1 L89.1,265.1 L89.6,265.1 L90.0,265.2 L90.4,265.2 L90.9,265.2 L91.3,265.2 L91.7,265.2 L92.2,265.2 L92.6,265.2 L93.0,265.2 L93.5,265.2 L93.9,265.2 L94.3,265.2 L94.8,265.2 L95.2,265.2 L95.6,265.3 L96.1,265.3 L96.5,265.3 L96.9,265.3 L97.4,265.3 L97.8,265.3 L98.3,265.3 L98.7,265.3 L99.1,265.3 L99.6,265.3 L100.0,265.3 L100.4,265.3 L100.9,265.3 L101.3,265.3 L101.7,265.3 L102.2,265.3 L102.6,265.3 L103.0,265.3 L103.5,265.3 L103.9,265.3 L104.3,265.3 L104.8,265.4 L105.2,265.4 L105.6,265.4 L106.1,265.4 L106.5,265.4 L106.9,265.4 L107.4,265.4 L107.8,265.4 L108.2,265.4 L108.7,265.4 L109.1,265.4 L109.5,265.4 L110.0,265.4 L110.4,265.4 L110.8,265.4 L111.3,265.4 L111.7,265.4 L112.2,265.4 L112.6,265.4 L113.0,265.4 L113.5,265.4 L113.9,265.4 L114.3,265.5 L114.8,265.5 L115.2,265.5 L115.6,265.5 L116.1,265.5 L116.5,265.5 L116.9,265.5 L117.4,265.5 L117.8,265.5 L118.2,265.5 L118.7,265.6 L119.1,265.6 L119.5,265.6 L120.0,265.6 L120.4,265.6 L120.8,265.7 L121.3,265.7 L121.7,265.7 L122.1,265.7 L122.6,265.8 L123.0,265.8 L123.4,265.9 L123.9,265.9 L124.3,266.0 L124.7,266.0 L125.2,266.1 L125.6,266.2 L126.1,266.3 L126.5,266.3 L126.9,266.4 L127.4,266.5 L127.8,266.5 L128.2,266.6 L128.7,266.7 L129.1,266.8 L129.5,266.8 L130.0,266.9 L130.4,266.9 L130.8,267.0 L131.3,267.0 L131.7,267.1 L132.1,267.1 L132.6,267.2 L133.0,267.2 L133.4,267.2 L133.9,267.2 L134.3,267.3 L134.7,267.3 L135.2,267.3 L135.6,267.3 L136.0,267.3 L136.5,267.3 L136.9,267.3 L137.3,267.3 L137.8,267.3 L138.2,267.3 L138.6,267.3 L139.1,267.3 L139.5,267.3 L140.0,267.4 L140.4,267.4 L140.8,267.4 L141.3,267.4 L141.7,267.4 L142.1,267.4 L142.6,267.4 L143.0,267.4 L143.4,267.5 L143.9,267.5 L144.3,267.5 L144.7,267.6 L145.2,267.6 L145.6,267.7 L146.0,267.7 L146.5,267.8 L146.9,267.8 L147.3,267.9 L147.8,268.0 L148.2,268.1 L148.6,268.2 L149.1,268.3 L149.5,268.4 L149.9,268.4 L150.4,268.5 L150.8,268.6 L151.2,268.7 L151.7,268.8 L152.1,268.9 L152.5,269.0 L153.0,269.1 L153.4,269.2 L153.9,269.2 L154.3,269.3 L154.7,269.3 L155.2,269.4 L155.6,269.4 L156.0,269.5 L156.5,269.5 L156.9,269.5 L157.3,269.6 L157.8,269.6 L158.2,269.6 L158.6,269.6 L159.1,269.6 L159.5,269.6 L159.9,269.7 L160.4,269.7 L160.8,269.7 L161.2,269.7 L161.7,269.7 L162.1,269.7 L162.5,269.7 L163.0,269.7 L163.4,269.7 L163.8,269.7 L164.3,269.7 L164.7,269.7 L165.1,269.7 L165.6,269.7 L166.0,269.7 L166.4,269.7 L166.9,269.7 L167.3,269.7 L167.8,269.7 L168.2,269.7 L168.6,269.7 L169.1,269.7 L169.5,269.7 L169.9,269.7 L170.4,269.7 L170.8,269.7 L171.2,269.7 L171.7,269.7 L172.1,269.7 L172.5,269.7 L173.0,269.7 L173.4,269.7 L173.8,269.7 L174.3,269.7 L174.7,269.7 L175.1,269.7 L175.6,269.7 L176.0,269.7 L176.4,269.7 L176.9,269.7 L177.3,269.7 L177.7,269.7 L178.2,269.7 L178.6,269.7 L179.0,269.7 L179.5,269.7 L179.9,269.7 L180.3,269.7 L180.8,269.7 L181.2,269.7 L181.7,269.7 L182.1,269.7 L182.5,269.7 L183.0,269.7 L183.4,269.7 L183.8,269.7 L184.3,269.7 L184.7,269.7 L185.1,269.7 L185.6,269.7 L186.0,269.7 L186.4,269.7 L186.9,269.7 L187.3,269.7 L187.7,269.7 L188.2,269.7 L188.6,269.7 L189.0,269.7 L189.5,269.7 L189.9,269.7 L190.3,269.7 L190.8,269.7 L191.2,269.7 L191.6,269.7 L192.1,269.7 L192.5,269.7 L192.9,269.7 L193.4,269.7 L193.8,269.7 L194.2,269.7 L194.7,269.7 L195.1,269.7 L195.6,269.8 L196.0,269.8 L196.4,269.8 L196.9,269.8 L197.3,269.8 L197.7,269.8 L198.2,269.8 L198.6,269.8 L199.0,269.8 L199.5,269.8 L199.9,269.8 L200.3,269.8 L200.8,269.8 L201.2,269.8 L201.6,269.8 L202.1,269.8 L202.5,269.8" stroke="#000" stroke-width="1.4" fill="none" />
<path d="M20.5,264.8 L20.9,264.8 L21.4,264.8 L21.8,264.8 L22.2,264.8 L22.7,264.8 L23.1,264.8 L23.5,264.8 L24.0,264.8 L24.4,264.8 L24.8,264.8 L25.3,264.8 L25.7,264.8 L26.1,264.8 L26.6,264.8 L27.0,264.8 L27.4,264.8 L27.9,264.8 L28.3,264.8 L28.8,264.8 L29.2,264.8 L29.6,264.8 L30.1,264.8 L30.5,264.8 L30.9,264.8 L31.4,264.8 L31.8,264.8 L32.2,264.8 L32.7,264.8 L33.1,264.8 L33.5,264.8 L34.0,264.8 L34.4,264.8 L34.8,264.8 L35.3,264.8 L35.7,264.8 L36.1,264.8 L36.6,264.8 L37.0,264.8 L37.4,264.8 L37.9,264.8 L38.3,264.8 L38.7,264.8 L39.2,264.8 L39.6,264.8 L40.0,264.8 L40.5,264.8 L40.9,264.8 L41.3,264.8 L41.8,264.8 L42.2,264.8 L42.7,264.8 L43.1,264.8 L43.5,264.8 L44.0,264.8 L44.4,264.8 L44.8,264.8 L45.3,264.8 L45.7,264.9 L46.1,264.9 L46.6,264.9 L47.0,264.9 L47.4,264.9 L47.9,264.9 L48.3,264.9 L48.7,264.9 L49.2,264.9 L49.6,264.9 L50.0,264.9 L50.5,264.9 L50.9,264.9 L51.3,264.9 L51.8,264.9 L52.2,264.9 L52.6,264.9 L53.1,264.9 L53.5,264.9 L53.9,264.9 L54.4,264.9 L54.8,264.9 L55.2,264.9 L55.7,264.9 L56.1,264.9 L56.6,264.9 L57.0,264.9 L57.4,264.8 L57.9,264.8 L58.3,264.8 L58.7,264.8 L59.2,264.8 L59.6,264.8 L60.0,264.8 L60.5,264.8 L60.9,264.8 L61.3,264.8 L61.8,264.8 L62.2,264.8 L62.6,264.7 L63.1,264.7 L63.5,264.7 L63.9,264.7 L64.4,264.6 L64.8,264.6 L65.2,264.6 L65.7,264.5 L66.1,264.5 L66.5,264.5 L67.0,264.4 L67.4,264.4 L67.8,264.3 L68.3,264.2 L68.7,264.2 L69.1,264.1 L69.6,264.0 L70.0,263.9 L70.5,263.8 L70.9,263.7 L71.3,263.6 L71.8,263.5 L72.2,263.4 L72.6,263.2 L73.1,263.1 L73.5,263.0 L73.9,262.8 L74.4,262.7 L74.8,262.5 L75.2,262.3 L75.7,262.1 L76.1,262.0 L76.5,261.8 L77.0,261.6 L77.4,261.4 L77.8,261.2 L78.3,261.0 L78.7,260.8 L79.1,260.6 L79.6,260.4 L80.0,260.2 L80.4,260.0 L80.9,259.8 L81.3,259.6 L81.7,259.4 L82.2,259.2 L82.6,259.0 L83.0,258.8 L83.5,258.7 L83.9,258.5 L84.4,258.4 L84.8,258.2 L85.2,258.1 L85.7,258.0 L86.1,257.9 L86.5,257.8 L87.0,257.7 L87.4,257.7 L87.8,257.7 L88.3,257.6 L88.7,257.6 L89.1,257.6 L89.6,257.7 L90.0,257.7 L90.4,257.8 L90.9,257.9 L91.3,257.9 L91.7,258.0 L92.2,258.2 L92.6,258.3 L93.0,258.4 L93.5,258.6 L93.9,258.8 L94.3,258.9 L94.8,259.1 L95.2,259.3 L95.6,259.5 L96.1,259.7 L96.5,259.9 L96.9,260.1 L97.4,260.3 L97.8,260.5 L98.3,260.8 L98.7,261.0 L99.1,261.2 L99.6,261.4 L100.0,261.5 L100.4,261.7 L100.9,261.9 L101.3,262.1 L101.7,262.2 L102.2,262.3 L102.6,262.5 L103.0,262.6 L103.5,262.6 L103.9,262.7 L104.3,262.8 L104.8,262.8 L105.2,262.8 L105.6,262.8 L106.1,262.7 L106.5,262.7 L106.9,262.6 L107.4,262.5 L107.8,262.3 L108.2,262.2 L108.7,262.0 L109.1,261.9 L109.5,261.7 L110.0,261.5 L110.4,261.3 L110.8,261.0 L111.3,260.8 L111.7,260.6 L112.2,260.4 L112.6,260.2 L113.0,259.9 L113.5,259.7 L113.9,259.5 L114.3,259.2 L114.8,258.9 L115.2,258.5 L115.6,258.1 L116.1,257.6 L116.5,257.0 L116.9,256.2 L117.4,255.2 L117.8,254.1 L118.2,252.7 L118.7,251.0 L119.1,249.0 L119.5,246.7 L120.0,244.1 L120.4,241.1 L120.8,237.8 L121.3,234.2 L121.7,230.3 L122.1,226.1 L122.6,221.9 L123.0,217.5 L123.4,213.2 L123.9,209.1 L124.3,205.2 L124.7,201.6 L125.2,198.6 L125.6,196.1 L126.1,194.2 L126.5,193.1 L126.9,192.8 L127.4,193.2 L127.8,194.4 L128.2,196.3 L128.7,198.9 L129.1,202.2 L129.5,205.9 L130.0,210.0 L130.4,214.5 L130.8,219.1 L131.3,223.7 L131.7,228.4 L132.1,232.9 L132.6,237.3 L133.0,241.3 L133.4,245.1 L133.9,248.5 L134.3,251.5 L134.7,254.2 L135.2,256.5 L135.6,258.4 L136.0,260.1 L136.5,261.4 L136.9,262.3 L137.3,263.0 L137.8,263.5 L138.2,263.6 L138.6,263.5 L139.1,263.2 L139.5,262.5 L140.0,261.5 L140.4,260.2 L140.8,258.6 L141.3,256.5 L141.7,254.0 L142.1,251.1 L142.6,247.8 L143.0,243.9 L143.4,239.6 L143.9,234.8 L144.3,229.6 L144.7,224.1 L145.2,218.2 L145.6,212.2 L146.0,206.1 L146.5,200.1 L146.9,194.3 L147.3,188.9 L147.8,184.0 L148.2,179.7 L148.6,176.2 L149.1,173.6 L149.5,172.0 L149.9,171.5 L150.4,171.9 L150.8,173.5 L151.2,176.0 L151.7,179.4 L152.1,183.7 L152.5,188.6 L153.0,194.0 L153.4,199.9 L153.9,206.0 L154.3,212.2 L154.7,218.4 L155.2,224.3 L155.6,230.1 L156.0,235.4 L156.5,240.4 L156.9,244.9 L157.3,249.0 L157.8,252.5 L158.2,255.7 L158.6,258.3 L159.1,260.6 L159.5,262.5 L159.9,264.0 L160.4,265.3 L160.8,266.3 L161.2,267.1 L161.7,267.8 L162.1,268.3 L162.5,268.6 L163.0,268.9 L163.4,269.1 L163.8,269.3 L164.3,269.4 L164.7,269.5 L165.1,269.6 L165.6,269.6 L166.0,269.6 L166.4,269.7 L166.9,269.7 L167.3,269.7 L167.8,269.7 L168.2,269.7 L168.6,269.7 L169.1,269.7 L169.5,269.7 L169.9,269.7 L170.4,269.7 L170.8,269.7 L171.2,269.7 L171.7,269.7 L172.1,269.7 L172.5,269.7 L173.0,269.7 L173.4,269.7 L173.8,269.7 L174.3,269.7 L174.7,269.7 L175.1,269.7 L175.6,269.7 L176.0,269.7 L176.4,269.7 L176.9,269.7 L177.3,269.7 L177.7,269.7 L178.2,269.7 L178.6,269.7 L179.0,269.7 L179.5,269.7 L179.9,269.7 L180.3,269.7 L180.8,269.7 L181.2,269.7 L181.7,269.7 L182.1,269.7 L182.5,269.7 L183.0,269.7 L183.4,269.7 L183.8,269.7 L184.3,269.7 L184.7,269.7 L185.1,269.7 L185.6,269.7 L186.0,269.7 L186.4,269.7 L186.9,269.7 L187.3,269.7 L187.7,269.7 L188.2,269.7 L188.6,269.7 L189.0,269.7 L189.5,269.7 L189.9,269.7 L190.3,269.7 L190.8,269.7 L191.2,269.7 L191.6,269.7 L192.1,269.7 L192.5,269.7 L192.9,269.7 L193.4,269.7 L193.8,269.7 L194.2,269.7 L194.7,269.7 L195.1,269.7 L195.6,269.8 L196.0,269.8 L196.4,269.8 L196.9,269.8 L197.3,269.8 L197.7,269.8 L198.2,269.8 L198.6,269.8 L199.0,269.8 L199.5,269.8 L199.9,269.8 L200.3,269.8 L200.8,269.8 L201.2,269.8 L201.6,269.8 L202.1,269.8 L202.5,269.8" stroke="#1a1a9c" stroke-width="2.2" fill="none" />
<path d="M20.1,263.4h2.5v2.5h-2.5zM27.3,263.8h2.5v2.5h-2.5zM34.1,263.5h2.5v2.5h-2.5zM41.5,264.1h2.5v2.5h-2.5zM48.1,263.7h2.5v2.5h-2.5zM55.6,264.7h2.5v2.5h-2.5zM62.4,262.5h2.5v2.5h-2.5zM69.4,262.2h2.5v2.5h-2.5zM75.5,260.8h2.5v2.5h-2.5zM82.2,258.7h2.5v2.5h-2.5zM89.3,256.4h2.5v2.5h-2.5zM95.3,258.9h2.5v2.5h-2.5zM102.0,261.3h2.5v2.5h-2.5zM108.9,260.8h2.5v2.5h-2.5zM114.3,256.3h2.5v2.5h-2.5zM117.4,250.4h2.5v2.5h-2.5zM118.9,243.0h2.5v2.5h-2.5zM119.4,235.6h2.5v2.5h-2.5zM120.5,229.4h2.5v2.5h-2.5zM120.8,222.5h2.5v2.5h-2.5zM121.8,216.0h2.5v2.5h-2.5zM122.1,208.3h2.5v2.5h-2.5zM123.7,201.1h2.5v2.5h-2.5zM124.6,194.8h2.5v2.5h-2.5zM126.9,195.0h2.5v2.5h-2.5zM127.7,202.0h2.5v2.5h-2.5zM129.1,208.7h2.5v2.5h-2.5zM130.0,216.3h2.5v2.5h-2.5zM129.5,222.9h2.5v2.5h-2.5zM131.1,230.6h2.5v2.5h-2.5zM131.9,237.2h2.5v2.5h-2.5zM132.3,243.9h2.5v2.5h-2.5zM132.7,249.7h2.5v2.5h-2.5zM134.7,257.7h2.5v2.5h-2.5zM137.9,262.0h2.5v2.5h-2.5zM139.8,255.5h2.5v2.5h-2.5zM140.7,248.7h2.5v2.5h-2.5zM142.0,241.0h2.5v2.5h-2.5zM142.8,234.7h2.5v2.5h-2.5zM142.9,227.0h2.5v2.5h-2.5zM143.8,221.3h2.5v2.5h-2.5zM143.8,212.7h2.5v2.5h-2.5zM144.9,205.5h2.5v2.5h-2.5zM145.2,198.5h2.5v2.5h-2.5zM145.6,191.9h2.5v2.5h-2.5zM146.3,184.9h2.5v2.5h-2.5zM147.2,179.4h2.5v2.5h-2.5zM148.3,171.4h2.5v2.5h-2.5zM150.2,174.8h2.5v2.5h-2.5zM150.9,182.9h2.5v2.5h-2.5zM151.5,189.1h2.5v2.5h-2.5zM152.2,195.7h2.5v2.5h-2.5zM152.6,203.8h2.5v2.5h-2.5zM153.2,210.6h2.5v2.5h-2.5zM153.4,217.1h2.5v2.5h-2.5zM153.3,225.0h2.5v2.5h-2.5zM154.8,231.3h2.5v2.5h-2.5zM155.8,239.0h2.5v2.5h-2.5zM155.9,245.4h2.5v2.5h-2.5zM156.6,252.9h2.5v2.5h-2.5zM157.7,259.1h2.5v2.5h-2.5zM159.8,265.1h2.5v2.5h-2.5zM165.9,269.6h2.5v2.5h-2.5zM172.5,268.2h2.5v2.5h-2.5zM179.7,268.4h2.5v2.5h-2.5zM186.6,268.1h2.5v2.5h-2.5zM193.9,268.4h2.5v2.5h-2.5z" fill="#000"/>
<rect x="20.50" y="157.00" width="182.00" height="121.90" fill="none" stroke="#111" stroke-width="1.15" />
<line x1="18.10" y1="172.00" x2="20.50" y2="172.00" stroke="#000" stroke-width="0.9" />
<line x1="19.20" y1="182.05" x2="20.50" y2="182.05" stroke="#000" stroke-width="0.7" />
<line x1="18.10" y1="192.10" x2="20.50" y2="192.10" stroke="#000" stroke-width="0.9" />
<line x1="19.20" y1="202.15" x2="20.50" y2="202.15" stroke="#000" stroke-width="0.7" />
<line x1="18.10" y1="212.20" x2="20.50" y2="212.20" stroke="#000" stroke-width="0.9" />
<line x1="19.20" y1="222.25" x2="20.50" y2="222.25" stroke="#000" stroke-width="0.7" />
<line x1="18.10" y1="232.30" x2="20.50" y2="232.30" stroke="#000" stroke-width="0.9" />
<line x1="19.20" y1="242.35" x2="20.50" y2="242.35" stroke="#000" stroke-width="0.7" />
<line x1="18.10" y1="252.40" x2="20.50" y2="252.40" stroke="#000" stroke-width="0.9" />
<line x1="19.20" y1="262.45" x2="20.50" y2="262.45" stroke="#000" stroke-width="0.7" />
<line x1="18.10" y1="272.50" x2="20.50" y2="272.50" stroke="#000" stroke-width="0.9" />
<line x1="20.20" y1="278.90" x2="20.20" y2="280.40" stroke="#000" stroke-width="0.9" />
<line x1="30.91" y1="278.90" x2="30.91" y2="280.90" stroke="#000" stroke-width="0.9" />
<line x1="41.61" y1="278.90" x2="41.61" y2="280.40" stroke="#000" stroke-width="0.9" />
<line x1="52.32" y1="278.90" x2="52.32" y2="280.90" stroke="#000" stroke-width="0.9" />
<line x1="63.02" y1="278.90" x2="63.02" y2="280.40" stroke="#000" stroke-width="0.9" />
<line x1="73.73" y1="278.90" x2="73.73" y2="280.90" stroke="#000" stroke-width="0.9" />
<line x1="84.44" y1="278.90" x2="84.44" y2="280.40" stroke="#000" stroke-width="0.9" />
<line x1="95.14" y1="278.90" x2="95.14" y2="280.90" stroke="#000" stroke-width="0.9" />
<line x1="105.85" y1="278.90" x2="105.85" y2="280.40" stroke="#000" stroke-width="0.9" />
<line x1="116.55" y1="278.90" x2="116.55" y2="280.90" stroke="#000" stroke-width="0.9" />
<line x1="127.26" y1="278.90" x2="127.26" y2="280.40" stroke="#000" stroke-width="0.9" />
<line x1="137.97" y1="278.90" x2="137.97" y2="280.90" stroke="#000" stroke-width="0.9" />
<line x1="148.67" y1="278.90" x2="148.67" y2="280.40" stroke="#000" stroke-width="0.9" />
<line x1="159.38" y1="278.90" x2="159.38" y2="280.90" stroke="#000" stroke-width="0.9" />
<line x1="170.08" y1="278.90" x2="170.08" y2="280.40" stroke="#000" stroke-width="0.9" />
<line x1="180.79" y1="278.90" x2="180.79" y2="280.90" stroke="#000" stroke-width="0.9" />
<line x1="191.50" y1="278.90" x2="191.50" y2="280.40" stroke="#000" stroke-width="0.9" />
<line x1="202.20" y1="278.90" x2="202.20" y2="280.90" stroke="#000" stroke-width="0.9" />
<text x="30.91" y="289.30" font-size="7.5" font-weight="bold" text-anchor="middle" fill="#000" >44</text>
<text x="52.32" y="289.30" font-size="7.5" font-weight="bold" text-anchor="middle" fill="#000" >42</text>
<text x="73.73" y="289.30" font-size="7.5" font-weight="bold" text-anchor="middle" fill="#000" >40</text>
<text x="95.14" y="289.30" font-size="7.5" font-weight="bold" text-anchor="middle" fill="#000" >38</text>
<text x="116.55" y="289.30" font-size="7.5" font-weight="bold" text-anchor="middle" fill="#000" >36</text>
<text x="137.97" y="289.30" font-size="7.5" font-weight="bold" text-anchor="middle" fill="#000" >34</text>
<text x="159.38" y="289.30" font-size="7.5" font-weight="bold" text-anchor="middle" fill="#000" >32</text>
<text x="180.79" y="289.30" font-size="7.5" font-weight="bold" text-anchor="middle" fill="#000" >30</text>
<text x="202.20" y="289.30" font-size="7.5" font-weight="bold" text-anchor="middle" fill="#000" >28</text>
<text x="112.30" y="301.00" font-size="8.8" font-weight="bold" text-anchor="middle" fill="#000" >Binding Energy (eV)</text>
<text transform="translate(9.8,222.9) rotate(-90)" font-size="8.8" font-weight="bold" text-anchor="middle">Intensity (arb. units)</text>
<text x="1.00" y="168.20" font-size="10.3" font-weight="bold" text-anchor="start" fill="#000" >(b)</text>
<text x="201.00" y="172.60" font-size="12.5" font-weight="bold" text-anchor="end" fill="#000" >W 4f</text>
<rect x="32.10" y="163.60" width="3.40" height="3.40" fill="#000" stroke="none" stroke-width="1" />
<text x="45.50" y="168.60" font-size="8.3" text-anchor="start" fill="#000" >Raw Data</text>
<rect x="25.30" y="174.20" width="17.00" height="3.70" fill="#b67cfa" stroke="none" stroke-width="1" />
<text x="45.50" y="178.80" font-size="8.3" text-anchor="start" fill="#000" >WS<tspan font-size="6" dy="2.4">2</tspan></text>
<rect x="25.60" y="186.20" width="16.40" height="4.20" fill="#d9d9d9" stroke="#bbb" stroke-width="0.6" />
<text x="45.50" y="191.90" font-size="8.3" text-anchor="start" fill="#000" >W 5p</text>
<line x1="23.30" y1="198.60" x2="42.70" y2="198.60" stroke="#1a1a9c" stroke-width="1.5" />
<text x="45.50" y="201.80" font-size="8.3" text-anchor="start" fill="#000" >Envelope</text>
<path d="M318.3,127.1 L318.7,127.1 L319.0,127.1 L319.4,127.0 L319.8,127.0 L320.1,126.9 L320.5,126.8 L320.9,126.8 L321.2,126.7 L321.6,126.6 L322.0,126.5 L322.3,126.3 L322.7,126.1 L323.1,125.9 L323.4,125.7 L323.8,125.4 L324.2,125.1 L324.5,124.7 L324.9,124.2 L325.3,123.7 L325.6,123.1 L326.0,122.4 L326.4,121.6 L326.7,120.7 L327.1,119.6 L327.5,118.5 L327.9,117.1 L328.2,115.7 L328.6,114.1 L329.0,112.3 L329.3,110.4 L329.7,108.3 L330.1,106.0 L330.4,103.5 L330.8,100.9 L331.2,98.2 L331.5,95.3 L331.9,92.3 L332.3,89.1 L332.6,86.0 L333.0,82.7 L333.4,79.4 L333.7,76.2 L334.1,73.0 L334.5,69.8 L334.8,66.8 L335.2,64.0 L335.6,61.3 L335.9,58.9 L336.3,56.8 L336.7,55.0 L337.0,53.6 L337.4,52.5 L337.8,51.8 L338.1,51.5 L338.5,51.6 L338.9,52.2 L339.2,53.1 L339.6,54.5 L340.0,56.1 L340.3,58.2 L340.7,60.5 L341.1,63.0 L341.4,65.8 L341.8,68.8 L342.2,71.9 L342.5,75.0 L342.9,78.3 L343.3,81.6 L343.6,84.8 L344.0,88.0 L344.4,91.2 L344.7,94.2 L345.1,97.2 L345.5,100.0 L345.8,102.6 L346.2,105.1 L346.6,107.5 L347.0,109.6 L347.3,111.6 L347.7,113.5 L348.1,115.1 L348.4,116.7 L348.8,118.0 L349.2,119.2 L349.5,120.3 L349.9,121.3 L350.3,122.1 L350.6,122.8 L351.0,123.5 L351.4,124.0 L351.7,124.5 L352.1,124.9 L352.5,125.3 L352.8,125.6 L353.2,125.8 L353.6,126.1 L353.9,126.2 L354.3,126.4 L354.7,126.5 L355.0,126.6 L355.4,126.7 L355.8,126.8 L356.1,126.9 L356.5,127.0 L356.9,127.0 L357.2,127.0 L357.6,127.1 L358.0,127.1 L358.0,127.8 L355.8,127.8 L353.6,127.8 L351.4,127.8 L349.2,127.8 L347.0,127.8 L344.7,127.8 L342.5,127.8 L340.3,127.8 L338.1,127.8 L335.9,127.8 L333.7,127.8 L331.5,127.8 L329.3,127.8 L327.1,127.8 L324.9,127.8 L322.7,127.8 L320.5,127.8 L318.3,127.8Z" fill="#fa7d78" stroke="none" fill-opacity="1.0"/>
<path d="M318.3,127.1 L318.7,127.1 L319.0,127.1 L319.4,127.0 L319.8,127.0 L320.1,126.9 L320.5,126.8 L320.9,126.8 L321.2,126.7 L321.6,126.6 L322.0,126.5 L322.3,126.3 L322.7,126.1 L323.1,125.9 L323.4,125.7 L323.8,125.4 L324.2,125.1 L324.5,124.7 L324.9,124.2 L325.3,123.7 L325.6,123.1 L326.0,122.4 L326.4,121.6 L326.7,120.7 L327.1,119.6 L327.5,118.5 L327.9,117.1 L328.2,115.7 L328.6,114.1 L329.0,112.3 L329.3,110.4 L329.7,108.3 L330.1,106.0 L330.4,103.5 L330.8,100.9 L331.2,98.2 L331.5,95.3 L331.9,92.3 L332.3,89.1 L332.6,86.0 L333.0,82.7 L333.4,79.4 L333.7,76.2 L334.1,73.0 L334.5,69.8 L334.8,66.8 L335.2,64.0 L335.6,61.3 L335.9,58.9 L336.3,56.8 L336.7,55.0 L337.0,53.6 L337.4,52.5 L337.8,51.8 L338.1,51.5 L338.5,51.6 L338.9,52.2 L339.2,53.1 L339.6,54.5 L340.0,56.1 L340.3,58.2 L340.7,60.5 L341.1,63.0 L341.4,65.8 L341.8,68.8 L342.2,71.9 L342.5,75.0 L342.9,78.3 L343.3,81.6 L343.6,84.8 L344.0,88.0 L344.4,91.2 L344.7,94.2 L345.1,97.2 L345.5,100.0 L345.8,102.6 L346.2,105.1 L346.6,107.5 L347.0,109.6 L347.3,111.6 L347.7,113.5 L348.1,115.1 L348.4,116.7 L348.8,118.0 L349.2,119.2 L349.5,120.3 L349.9,121.3 L350.3,122.1 L350.6,122.8 L351.0,123.5 L351.4,124.0 L351.7,124.5 L352.1,124.9 L352.5,125.3 L352.8,125.6 L353.2,125.8 L353.6,126.1 L353.9,126.2 L354.3,126.4 L354.7,126.5 L355.0,126.6 L355.4,126.7 L355.8,126.8 L356.1,126.9 L356.5,127.0 L356.9,127.0 L357.2,127.0 L357.6,127.1 L358.0,127.1" stroke="#ff2020" stroke-width="1.3" fill="none" />
<path d="M308.4,127.1 L308.7,127.1 L309.1,127.1 L309.5,127.0 L309.9,127.0 L310.2,126.9 L310.6,126.9 L311.0,126.8 L311.3,126.7 L311.7,126.6 L312.1,126.5 L312.4,126.4 L312.8,126.3 L313.2,126.1 L313.5,125.9 L313.9,125.6 L314.3,125.3 L314.6,125.0 L315.0,124.6 L315.4,124.1 L315.7,123.6 L316.1,122.9 L316.5,122.2 L316.8,121.3 L317.2,120.4 L317.6,119.3 L317.9,118.0 L318.3,116.6 L318.7,115.0 L319.0,113.3 L319.4,111.4 L319.8,109.3 L320.1,106.9 L320.5,104.4 L320.9,101.8 L321.2,98.9 L321.6,95.8 L322.0,92.6 L322.3,89.3 L322.7,85.8 L323.1,82.3 L323.4,78.6 L323.8,75.0 L324.2,71.3 L324.5,67.8 L324.9,64.3 L325.3,60.9 L325.6,57.7 L326.0,54.8 L326.4,52.1 L326.7,49.7 L327.1,47.7 L327.5,46.1 L327.9,45.0 L328.2,44.3 L328.6,44.0 L329.0,44.2 L329.3,44.9 L329.7,46.0 L330.1,47.6 L330.4,49.6 L330.8,51.9 L331.2,54.5 L331.5,57.5 L331.9,60.6 L332.3,64.0 L332.6,67.5 L333.0,71.1 L333.4,74.7 L333.7,78.3 L334.1,82.0 L334.5,85.5 L334.8,89.0 L335.2,92.4 L335.6,95.6 L335.9,98.6 L336.3,101.5 L336.7,104.2 L337.0,106.7 L337.4,109.1 L337.8,111.2 L338.1,113.1 L338.5,114.9 L338.9,116.5 L339.2,117.9 L339.6,119.2 L340.0,120.3 L340.3,121.3 L340.7,122.1 L341.1,122.9 L341.4,123.5 L341.8,124.1 L342.2,124.5 L342.5,125.0 L342.9,125.3 L343.3,125.6 L343.6,125.9 L344.0,126.1 L344.4,126.2 L344.7,126.4 L345.1,126.5 L345.5,126.6 L345.8,126.7 L346.2,126.8 L346.6,126.9 L347.0,126.9 L347.3,127.0 L347.7,127.0 L348.1,127.1 L348.4,127.1 L348.8,127.1 L348.8,127.8 L346.6,127.8 L344.4,127.8 L342.2,127.8 L340.0,127.8 L337.8,127.8 L335.6,127.8 L333.4,127.8 L331.2,127.8 L329.0,127.8 L326.7,127.8 L324.5,127.8 L322.3,127.8 L320.1,127.8 L317.9,127.8 L315.7,127.8 L313.5,127.8 L311.3,127.8 L309.1,127.8Z" fill="#8282f5" stroke="none" fill-opacity="0.75"/>
<path d="M308.4,127.1 L308.7,127.1 L309.1,127.1 L309.5,127.0 L309.9,127.0 L310.2,126.9 L310.6,126.9 L311.0,126.8 L311.3,126.7 L311.7,126.6 L312.1,126.5 L312.4,126.4 L312.8,126.3 L313.2,126.1 L313.5,125.9 L313.9,125.6 L314.3,125.3 L314.6,125.0 L315.0,124.6 L315.4,124.1 L315.7,123.6 L316.1,122.9 L316.5,122.2 L316.8,121.3 L317.2,120.4 L317.6,119.3 L317.9,118.0 L318.3,116.6 L318.7,115.0 L319.0,113.3 L319.4,111.4 L319.8,109.3 L320.1,106.9 L320.5,104.4 L320.9,101.8 L321.2,98.9 L321.6,95.8 L322.0,92.6 L322.3,89.3 L322.7,85.8 L323.1,82.3 L323.4,78.6 L323.8,75.0 L324.2,71.3 L324.5,67.8 L324.9,64.3 L325.3,60.9 L325.6,57.7 L326.0,54.8 L326.4,52.1 L326.7,49.7 L327.1,47.7 L327.5,46.1 L327.9,45.0 L328.2,44.3 L328.6,44.0 L329.0,44.2 L329.3,44.9 L329.7,46.0 L330.1,47.6 L330.4,49.6 L330.8,51.9 L331.2,54.5 L331.5,57.5 L331.9,60.6 L332.3,64.0 L332.6,67.5 L333.0,71.1 L333.4,74.7 L333.7,78.3 L334.1,82.0 L334.5,85.5 L334.8,89.0 L335.2,92.4 L335.6,95.6 L335.9,98.6 L336.3,101.5 L336.7,104.2 L337.0,106.7 L337.4,109.1 L337.8,111.2 L338.1,113.1 L338.5,114.9 L338.9,116.5 L339.2,117.9 L339.6,119.2 L340.0,120.3 L340.3,121.3 L340.7,122.1 L341.1,122.9 L341.4,123.5 L341.8,124.1 L342.2,124.5 L342.5,125.0 L342.9,125.3 L343.3,125.6 L343.6,125.9 L344.0,126.1 L344.4,126.2 L344.7,126.4 L345.1,126.5 L345.5,126.6 L345.8,126.7 L346.2,126.8 L346.6,126.9 L347.0,126.9 L347.3,127.0 L347.7,127.0 L348.1,127.1 L348.4,127.1 L348.8,127.1" stroke="#0a0aff" stroke-width="1.3" fill="none" />
<path d="M295.9,127.2 L296.3,127.1 L296.6,127.0 L297.0,126.9 L297.4,126.8 L297.7,126.7 L298.1,126.6 L298.5,126.5 L298.8,126.4 L299.2,126.2 L299.6,126.0 L299.9,125.9 L300.3,125.7 L300.7,125.4 L301.0,125.2 L301.4,124.9 L301.8,124.7 L302.1,124.4 L302.5,124.1 L302.9,123.8 L303.2,123.4 L303.6,123.1 L304.0,122.7 L304.3,122.3 L304.7,121.9 L305.1,121.4 L305.4,121.0 L305.8,120.5 L306.2,120.1 L306.5,119.6 L306.9,119.1 L307.3,118.6 L307.6,118.2 L308.0,117.7 L308.4,117.2 L308.7,116.7 L309.1,116.3 L309.5,115.8 L309.9,115.4 L310.2,115.0 L310.6,114.6 L311.0,114.3 L311.3,114.0 L311.7,113.7 L312.1,113.4 L312.4,113.2 L312.8,113.0 L313.2,112.9 L313.5,112.8 L313.9,112.8 L314.3,112.8 L314.6,112.9 L315.0,113.0 L315.4,113.1 L315.7,113.3 L316.1,113.5 L316.5,113.8 L316.8,114.1 L317.2,114.4 L317.6,114.8 L317.9,115.2 L318.3,115.6 L318.7,116.0 L319.0,116.5 L319.4,116.9 L319.8,117.4 L320.1,117.9 L320.5,118.4 L320.9,118.8 L321.2,119.3 L321.6,119.8 L322.0,120.3 L322.3,120.7 L322.7,121.2 L323.1,121.6 L323.4,122.0 L323.8,122.4 L324.2,122.8 L324.5,123.2 L324.9,123.6 L325.3,123.9 L325.6,124.2 L326.0,124.5 L326.4,124.8 L326.7,125.1 L327.1,125.3 L327.5,125.5 L327.9,125.7 L328.2,125.9 L328.6,126.1 L329.0,126.3 L329.3,126.4 L329.7,126.6 L330.1,126.7 L330.4,126.8 L330.8,126.9 L331.2,127.0 L331.5,127.1 L331.9,127.1 L331.9,127.8 L329.7,127.8 L327.5,127.8 L325.3,127.8 L323.1,127.8 L320.9,127.8 L318.7,127.8 L316.5,127.8 L314.3,127.8 L312.1,127.8 L309.9,127.8 L307.6,127.8 L305.4,127.8 L303.2,127.8 L301.0,127.8 L298.8,127.8 L296.6,127.8Z" fill="#ec50ec" stroke="none" fill-opacity="0.75"/>
<path d="M295.9,127.2 L296.3,127.1 L296.6,127.0 L297.0,126.9 L297.4,126.8 L297.7,126.7 L298.1,126.6 L298.5,126.5 L298.8,126.4 L299.2,126.2 L299.6,126.0 L299.9,125.9 L300.3,125.7 L300.7,125.4 L301.0,125.2 L301.4,124.9 L301.8,124.7 L302.1,124.4 L302.5,124.1 L302.9,123.8 L303.2,123.4 L303.6,123.1 L304.0,122.7 L304.3,122.3 L304.7,121.9 L305.1,121.4 L305.4,121.0 L305.8,120.5 L306.2,120.1 L306.5,119.6 L306.9,119.1 L307.3,118.6 L307.6,118.2 L308.0,117.7 L308.4,117.2 L308.7,116.7 L309.1,116.3 L309.5,115.8 L309.9,115.4 L310.2,115.0 L310.6,114.6 L311.0,114.3 L311.3,114.0 L311.7,113.7 L312.1,113.4 L312.4,113.2 L312.8,113.0 L313.2,112.9 L313.5,112.8 L313.9,112.8 L314.3,112.8 L314.6,112.9 L315.0,113.0 L315.4,113.1 L315.7,113.3 L316.1,113.5 L316.5,113.8 L316.8,114.1 L317.2,114.4 L317.6,114.8 L317.9,115.2 L318.3,115.6 L318.7,116.0 L319.0,116.5 L319.4,116.9 L319.8,117.4 L320.1,117.9 L320.5,118.4 L320.9,118.8 L321.2,119.3 L321.6,119.8 L322.0,120.3 L322.3,120.7 L322.7,121.2 L323.1,121.6 L323.4,122.0 L323.8,122.4 L324.2,122.8 L324.5,123.2 L324.9,123.6 L325.3,123.9 L325.6,124.2 L326.0,124.5 L326.4,124.8 L326.7,125.1 L327.1,125.3 L327.5,125.5 L327.9,125.7 L328.2,125.9 L328.6,126.1 L329.0,126.3 L329.3,126.4 L329.7,126.6 L330.1,126.7 L330.4,126.8 L330.8,126.9 L331.2,127.0 L331.5,127.1 L331.9,127.1" stroke="#ff00ff" stroke-width="1.3" fill="none" />
<path d="M312.8,127.1 L313.2,127.1 L313.5,127.0 L313.9,126.9 L314.3,126.8 L314.6,126.7 L315.0,126.6 L315.4,126.4 L315.7,126.3 L316.1,126.2 L316.5,126.0 L316.8,125.8 L317.2,125.7 L317.6,125.5 L317.9,125.3 L318.3,125.1 L318.7,124.9 L319.0,124.7 L319.4,124.5 L319.8,124.3 L320.1,124.1 L320.5,123.8 L320.9,123.6 L321.2,123.4 L321.6,123.2 L322.0,123.0 L322.3,122.7 L322.7,122.5 L323.1,122.3 L323.4,122.2 L323.8,122.0 L324.2,121.8 L324.5,121.7 L324.9,121.6 L325.3,121.5 L325.6,121.4 L326.0,121.4 L326.4,121.3 L326.7,121.3 L327.1,121.3 L327.5,121.3 L327.9,121.4 L328.2,121.5 L328.6,121.6 L329.0,121.7 L329.3,121.8 L329.7,122.0 L330.1,122.1 L330.4,122.3 L330.8,122.5 L331.2,122.7 L331.5,122.9 L331.9,123.1 L332.3,123.3 L332.6,123.5 L333.0,123.8 L333.4,124.0 L333.7,124.2 L334.1,124.4 L334.5,124.6 L334.8,124.9 L335.2,125.1 L335.6,125.3 L335.9,125.4 L336.3,125.6 L336.7,125.8 L337.0,126.0 L337.4,126.1 L337.8,126.3 L338.1,126.4 L338.5,126.5 L338.9,126.6 L339.2,126.8 L339.6,126.9 L340.0,127.0 L340.3,127.0 L340.7,127.1 L340.7,127.8 L338.5,127.8 L336.3,127.8 L334.1,127.8 L331.9,127.8 L329.7,127.8 L327.5,127.8 L325.3,127.8 L323.1,127.8 L320.9,127.8 L318.7,127.8 L316.5,127.8 L314.3,127.8Z" fill="#ec50ec" stroke="none" fill-opacity="0.75"/>
<path d="M312.8,127.1 L313.2,127.1 L313.5,127.0 L313.9,126.9 L314.3,126.8 L314.6,126.7 L315.0,126.6 L315.4,126.4 L315.7,126.3 L316.1,126.2 L316.5,126.0 L316.8,125.8 L317.2,125.7 L317.6,125.5 L317.9,125.3 L318.3,125.1 L318.7,124.9 L319.0,124.7 L319.4,124.5 L319.8,124.3 L320.1,124.1 L320.5,123.8 L320.9,123.6 L321.2,123.4 L321.6,123.2 L322.0,123.0 L322.3,122.7 L322.7,122.5 L323.1,122.3 L323.4,122.2 L323.8,122.0 L324.2,121.8 L324.5,121.7 L324.9,121.6 L325.3,121.5 L325.6,121.4 L326.0,121.4 L326.4,121.3 L326.7,121.3 L327.1,121.3 L327.5,121.3 L327.9,121.4 L328.2,121.5 L328.6,121.6 L329.0,121.7 L329.3,121.8 L329.7,122.0 L330.1,122.1 L330.4,122.3 L330.8,122.5 L331.2,122.7 L331.5,122.9 L331.9,123.1 L332.3,123.3 L332.6,123.5 L333.0,123.8 L333.4,124.0 L333.7,124.2 L334.1,124.4 L334.5,124.6 L334.8,124.9 L335.2,125.1 L335.6,125.3 L335.9,125.4 L336.3,125.6 L336.7,125.8 L337.0,126.0 L337.4,126.1 L337.8,126.3 L338.1,126.4 L338.5,126.5 L338.9,126.6 L339.2,126.8 L339.6,126.9 L340.0,127.0 L340.3,127.0 L340.7,127.1" stroke="#ff00ff" stroke-width="1.3" fill="none" />
<path d="M245.2,127.8 L245.6,127.8 L245.9,127.8 L246.3,127.8 L246.7,127.8 L247.0,127.8 L247.4,127.8 L247.8,127.8 L248.1,127.8 L248.5,127.8 L248.9,127.8 L249.2,127.8 L249.6,127.8 L250.0,127.8 L250.3,127.8 L250.7,127.8 L251.1,127.8 L251.4,127.8 L251.8,127.8 L252.2,127.8 L252.5,127.8 L252.9,127.8 L253.3,127.8 L253.6,127.8 L254.0,127.8 L254.4,127.8 L254.8,127.8 L255.1,127.8 L255.5,127.8 L255.9,127.8 L256.2,127.8 L256.6,127.8 L257.0,127.8 L257.3,127.8 L257.7,127.8 L258.1,127.8 L258.4,127.8 L258.8,127.8 L259.2,127.8 L259.5,127.8 L259.9,127.8 L260.3,127.8 L260.6,127.8 L261.0,127.8 L261.4,127.8 L261.7,127.8 L262.1,127.8 L262.5,127.8 L262.8,127.8 L263.2,127.8 L263.6,127.8 L263.9,127.8 L264.3,127.8 L264.7,127.8 L265.0,127.8 L265.4,127.8 L265.8,127.8 L266.1,127.8 L266.5,127.8 L266.9,127.8 L267.2,127.8 L267.6,127.8 L268.0,127.8 L268.3,127.8 L268.7,127.8 L269.1,127.8 L269.4,127.8 L269.8,127.8 L270.2,127.8 L270.5,127.8 L270.9,127.8 L271.3,127.8 L271.6,127.8 L272.0,127.8 L272.4,127.8 L272.8,127.8 L273.1,127.8 L273.5,127.8 L273.9,127.8 L274.2,127.8 L274.6,127.8 L275.0,127.8 L275.3,127.8 L275.7,127.8 L276.1,127.8 L276.4,127.8 L276.8,127.8 L277.2,127.8 L277.5,127.8 L277.9,127.8 L278.3,127.8 L278.6,127.8 L279.0,127.8 L279.4,127.8 L279.7,127.8 L280.1,127.8 L280.5,127.8 L280.8,127.8 L281.2,127.8 L281.6,127.8 L281.9,127.8 L282.3,127.8 L282.7,127.8 L283.0,127.8 L283.4,127.8 L283.8,127.8 L284.1,127.8 L284.5,127.8 L284.9,127.8 L285.2,127.8 L285.6,127.8 L286.0,127.8 L286.3,127.8 L286.7,127.8 L287.1,127.8 L287.4,127.8 L287.8,127.8 L288.2,127.8 L288.5,127.8 L288.9,127.8 L289.3,127.8 L289.6,127.8 L290.0,127.8 L290.4,127.8 L290.7,127.8 L291.1,127.8 L291.5,127.8 L291.9,127.8 L292.2,127.8 L292.6,127.8 L293.0,127.8 L293.3,127.8 L293.7,127.8 L294.1,127.8 L294.4,127.8 L294.8,127.8 L295.2,127.8 L295.5,127.8 L295.9,127.8 L296.3,127.8 L296.6,127.8 L297.0,127.8 L297.4,127.8 L297.7,127.8 L298.1,127.8 L298.5,127.8 L298.8,127.8 L299.2,127.8 L299.6,127.8 L299.9,127.8 L300.3,127.8 L300.7,127.8 L301.0,127.8 L301.4,127.8 L301.8,127.8 L302.1,127.8 L302.5,127.8 L302.9,127.8 L303.2,127.8 L303.6,127.8 L304.0,127.8 L304.3,127.8 L304.7,127.8 L305.1,127.8 L305.4,127.8 L305.8,127.8 L306.2,127.8 L306.5,127.8 L306.9,127.8 L307.3,127.8 L307.6,127.8 L308.0,127.8 L308.4,127.8 L308.7,127.8 L309.1,127.8 L309.5,127.8 L309.9,127.8 L310.2,127.8 L310.6,127.8 L311.0,127.8 L311.3,127.8 L311.7,127.8 L312.1,127.8 L312.4,127.8 L312.8,127.8 L313.2,127.8 L313.5,127.8 L313.9,127.8 L314.3,127.8 L314.6,127.8 L315.0,127.8 L315.4,127.8 L315.7,127.8 L316.1,127.8 L316.5,127.8 L316.8,127.8 L317.2,127.8 L317.6,127.8 L317.9,127.8 L318.3,127.8 L318.7,127.8 L319.0,127.8 L319.4,127.8 L319.8,127.8 L320.1,127.8 L320.5,127.8 L320.9,127.8 L321.2,127.8 L321.6,127.8 L322.0,127.8 L322.3,127.8 L322.7,127.8 L323.1,127.8 L323.4,127.8 L323.8,127.8 L324.2,127.8 L324.5,127.8 L324.9,127.8 L325.3,127.8 L325.6,127.8 L326.0,127.8 L326.4,127.8 L326.7,127.8 L327.1,127.8 L327.5,127.8 L327.9,127.8 L328.2,127.8 L328.6,127.8 L329.0,127.8 L329.3,127.8 L329.7,127.8 L330.1,127.8 L330.4,127.8 L330.8,127.8 L331.2,127.8 L331.5,127.8 L331.9,127.8 L332.3,127.8 L332.6,127.8 L333.0,127.8 L333.4,127.8 L333.7,127.8 L334.1,127.8 L334.5,127.8 L334.8,127.8 L335.2,127.8 L335.6,127.8 L335.9,127.8 L336.3,127.8 L336.7,127.8 L337.0,127.8 L337.4,127.8 L337.8,127.8 L338.1,127.8 L338.5,127.8 L338.9,127.8 L339.2,127.8 L339.6,127.8 L340.0,127.8 L340.3,127.8 L340.7,127.8 L341.1,127.8 L341.4,127.8 L341.8,127.8 L342.2,127.8 L342.5,127.8 L342.9,127.8 L343.3,127.8 L343.6,127.8 L344.0,127.8 L344.4,127.8 L344.7,127.8 L345.1,127.8 L345.5,127.8 L345.8,127.8 L346.2,127.8 L346.6,127.8 L347.0,127.8 L347.3,127.8 L347.7,127.8 L348.1,127.8 L348.4,127.8 L348.8,127.8 L349.2,127.8 L349.5,127.8 L349.9,127.8 L350.3,127.8 L350.6,127.8 L351.0,127.8 L351.4,127.8 L351.7,127.8 L352.1,127.8 L352.5,127.8 L352.8,127.8 L353.2,127.8 L353.6,127.8 L353.9,127.8 L354.3,127.8 L354.7,127.8 L355.0,127.8 L355.4,127.8 L355.8,127.8 L356.1,127.8 L356.5,127.8 L356.9,127.8 L357.2,127.8 L357.6,127.8 L358.0,127.8 L358.3,127.8 L358.7,127.8 L359.1,127.8 L359.4,127.8 L359.8,127.8 L360.2,127.8 L360.5,127.8 L360.9,127.8 L361.3,127.8 L361.6,127.8 L362.0,127.8 L362.4,127.8 L362.7,127.8 L363.1,127.8 L363.5,127.8 L363.8,127.8 L364.2,127.8 L364.6,127.8 L365.0,127.8 L365.3,127.8 L365.7,127.8 L366.1,127.8 L366.4,127.8 L366.8,127.8 L367.2,127.8 L367.5,127.8 L367.9,127.8 L368.3,127.8 L368.6,127.8 L369.0,127.8 L369.4,127.8 L369.7,127.8 L370.1,127.8 L370.5,127.8 L370.8,127.8 L371.2,127.8 L371.6,127.8 L371.9,127.8 L372.3,127.8 L372.7,127.8 L373.0,127.8 L373.4,127.8 L373.8,127.8 L374.1,127.8 L374.5,127.8 L374.9,127.8 L375.2,127.8 L375.6,127.8 L376.0,127.8 L376.3,127.8 L376.7,127.8 L377.1,127.8 L377.4,127.8 L377.8,127.8 L378.2,127.8 L378.5,127.8 L378.9,127.8 L379.3,127.8 L379.6,127.8 L380.0,127.8 L380.4,127.8 L380.7,127.8 L381.1,127.8 L381.5,127.8 L381.8,127.8 L382.2,127.8 L382.6,127.8 L383.0,127.8 L383.3,127.8 L383.7,127.8 L384.1,127.8 L384.4,127.8 L384.8,127.8 L385.2,127.8 L385.5,127.8 L385.9,127.8 L386.3,127.8 L386.6,127.8 L387.0,127.8 L387.4,127.8 L387.7,127.8 L388.1,127.8 L388.5,127.8 L388.8,127.8 L389.2,127.8 L389.6,127.8 L389.9,127.8 L390.3,127.8 L390.7,127.8 L391.0,127.8 L391.4,127.8 L391.8,127.8 L392.1,127.8 L392.5,127.8 L392.9,127.8 L393.2,127.8 L393.6,127.8 L394.0,127.8 L394.3,127.8 L394.7,127.8 L395.1,127.8 L395.4,127.8 L395.8,127.8 L396.2,127.8 L396.5,127.8 L396.9,127.8 L397.3,127.8 L397.6,127.8 L398.0,127.8 L398.4,127.8 L398.7,127.8 L399.1,127.8 L399.5,127.8 L399.8,127.8 L400.2,127.8 L400.6,127.8 L400.9,127.8 L401.3,127.8 L401.7,127.8 L402.1,127.8 L402.4,127.8 L402.8,127.8 L403.2,127.8 L403.5,127.8 L403.9,127.8 L404.3,127.8 L404.6,127.8 L405.0,127.8 L405.4,127.8 L405.7,127.8 L406.1,127.8 L406.5,127.8 L406.8,127.8 L407.2,127.8 L407.6,127.8 L407.9,127.8 L408.3,127.8 L408.7,127.8 L409.0,127.8 L409.4,127.8 L409.8,127.8 L410.1,127.8 L410.5,127.8 L410.9,127.8 L411.2,127.8 L411.6,127.8 L412.0,127.8 L412.3,127.8 L412.7,127.8 L413.1,127.8 L413.4,127.8 L413.8,127.8 L414.2,127.8 L414.5,127.8 L414.9,127.8 L415.3,127.8 L415.6,127.8 L416.0,127.8 L416.4,127.8 L416.7,127.8 L417.1,127.8 L417.5,127.8 L417.8,127.8 L418.2,127.8 L418.6,127.8 L418.9,127.8 L419.3,127.8 L419.7,127.8 L420.1,127.8 L420.4,127.8 L420.8,127.8 L421.2,127.8 L421.5,127.8 L421.9,127.8 L422.3,127.8 L422.6,127.8 L423.0,127.8 L423.4,127.8 L423.7,127.8 L424.1,127.8 L424.5,127.8 L424.8,127.8 L425.2,127.8 L425.6,127.8 L425.9,127.8 L426.3,127.8 L426.7,127.8 L427.0,127.8 L427.4,127.8 L427.8,127.8 L428.1,127.8 L428.5,127.8" stroke="#000" stroke-width="1.4" fill="none" />
<path d="M245.2,127.8 L245.6,127.8 L245.9,127.8 L246.3,127.8 L246.7,127.8 L247.0,127.8 L247.4,127.8 L247.8,127.8 L248.1,127.8 L248.5,127.8 L248.9,127.8 L249.2,127.8 L249.6,127.8 L250.0,127.8 L250.3,127.8 L250.7,127.8 L251.1,127.8 L251.4,127.8 L251.8,127.8 L252.2,127.8 L252.5,127.8 L252.9,127.8 L253.3,127.8 L253.6,127.8 L254.0,127.8 L254.4,127.8 L254.8,127.8 L255.1,127.8 L255.5,127.8 L255.9,127.8 L256.2,127.8 L256.6,127.8 L257.0,127.8 L257.3,127.8 L257.7,127.8 L258.1,127.8 L258.4,127.8 L258.8,127.8 L259.2,127.7 L259.5,127.7 L259.9,127.7 L260.3,127.7 L260.6,127.7 L261.0,127.7 L261.4,127.7 L261.7,127.7 L262.1,127.7 L262.5,127.7 L262.8,127.7 L263.2,127.7 L263.6,127.7 L263.9,127.7 L264.3,127.7 L264.7,127.7 L265.0,127.7 L265.4,127.7 L265.8,127.7 L266.1,127.7 L266.5,127.7 L266.9,127.7 L267.2,127.7 L267.6,127.7 L268.0,127.7 L268.3,127.6 L268.7,127.6 L269.1,127.6 L269.4,127.6 L269.8,127.6 L270.2,127.6 L270.5,127.6 L270.9,127.6 L271.3,127.6 L271.6,127.6 L272.0,127.6 L272.4,127.6 L272.8,127.6 L273.1,127.6 L273.5,127.6 L273.9,127.6 L274.2,127.6 L274.6,127.5 L275.0,127.5 L275.3,127.5 L275.7,127.5 L276.1,127.5 L276.4,127.5 L276.8,127.5 L277.2,127.5 L277.5,127.5 L277.9,127.5 L278.3,127.5 L278.6,127.5 L279.0,127.5 L279.4,127.4 L279.7,127.4 L280.1,127.4 L280.5,127.4 L280.8,127.4 L281.2,127.4 L281.6,127.4 L281.9,127.4 L282.3,127.4 L282.7,127.4 L283.0,127.4 L283.4,127.3 L283.8,127.3 L284.1,127.3 L284.5,127.3 L284.9,127.3 L285.2,127.3 L285.6,127.3 L286.0,127.3 L286.3,127.2 L286.7,127.2 L287.1,127.2 L287.4,127.1 L287.8,127.1 L288.2,127.1 L288.5,127.0 L288.9,127.0 L289.3,126.9 L289.6,126.8 L290.0,126.8 L290.4,126.7 L290.7,126.7 L291.1,126.6 L291.5,126.5 L291.9,126.4 L292.2,126.4 L292.6,126.3 L293.0,126.2 L293.3,126.1 L293.7,125.9 L294.1,125.8 L294.4,125.6 L294.8,125.4 L295.2,125.2 L295.5,124.9 L295.9,124.7 L296.3,124.4 L296.6,124.2 L297.0,123.9 L297.4,123.6 L297.7,123.3 L298.1,123.0 L298.5,122.7 L298.8,122.4 L299.2,122.1 L299.6,121.8 L299.9,121.6 L300.3,121.3 L300.7,120.9 L301.0,120.6 L301.4,120.3 L301.8,120.0 L302.1,119.6 L302.5,119.2 L302.9,118.9 L303.2,118.5 L303.6,118.1 L304.0,117.7 L304.3,117.3 L304.7,116.8 L305.1,116.4 L305.4,116.0 L305.8,115.5 L306.2,115.1 L306.5,114.6 L306.9,114.1 L307.3,113.6 L307.6,113.0 L308.0,112.5 L308.4,112.0 L308.7,111.4 L309.1,110.8 L309.5,110.2 L309.9,109.7 L310.2,109.1 L310.6,108.5 L311.0,107.8 L311.3,107.1 L311.7,106.4 L312.1,105.6 L312.4,104.7 L312.8,103.7 L313.2,102.5 L313.5,101.2 L313.9,99.8 L314.3,98.4 L314.6,96.9 L315.0,95.3 L315.4,93.8 L315.7,92.2 L316.1,90.7 L316.5,89.3 L316.8,87.8 L317.2,86.5 L317.6,85.1 L317.9,83.7 L318.3,82.2 L318.7,80.7 L319.0,79.1 L319.4,77.4 L319.8,75.5 L320.1,73.5 L320.5,71.3 L320.9,69.0 L321.2,66.7 L321.6,64.4 L322.0,62.2 L322.3,60.0 L322.7,57.8 L323.1,55.6 L323.4,53.4 L323.8,51.1 L324.2,48.7 L324.5,46.2 L324.9,43.3 L325.3,40.1 L325.6,36.8 L326.0,33.5 L326.4,30.3 L326.7,27.5 L327.1,25.1 L327.5,22.6 L327.9,20.1 L328.2,17.9 L328.6,16.2 L329.0,15.3 L329.3,15.2 L329.7,15.5 L330.1,15.8 L330.4,16.3 L330.8,16.7 L331.2,17.2 L331.5,17.7 L331.9,18.3 L332.3,19.0 L332.6,19.7 L333.0,20.5 L333.4,21.4 L333.7,22.3 L334.1,23.2 L334.5,24.2 L334.8,25.3 L335.2,26.5 L335.6,27.7 L335.9,29.0 L336.3,30.4 L336.7,31.9 L337.0,33.4 L337.4,35.0 L337.8,36.8 L338.1,38.8 L338.5,41.1 L338.9,43.5 L339.2,46.1 L339.6,48.8 L340.0,51.6 L340.3,54.4 L340.7,57.3 L341.1,60.2 L341.4,63.4 L341.8,66.8 L342.2,70.3 L342.5,73.8 L342.9,77.3 L343.3,80.5 L343.6,83.6 L344.0,86.4 L344.4,89.2 L344.7,91.9 L345.1,94.5 L345.5,97.0 L345.8,99.4 L346.2,101.5 L346.6,103.4 L347.0,105.2 L347.3,106.9 L347.7,108.5 L348.1,110.1 L348.4,111.5 L348.8,112.8 L349.2,114.0 L349.5,115.1 L349.9,116.1 L350.3,117.0 L350.6,118.0 L351.0,118.9 L351.4,119.7 L351.7,120.4 L352.1,121.1 L352.5,121.7 L352.8,122.3 L353.2,122.7 L353.6,123.2 L353.9,123.6 L354.3,124.0 L354.7,124.4 L355.0,124.8 L355.4,125.1 L355.8,125.4 L356.1,125.6 L356.5,125.8 L356.9,126.0 L357.2,126.1 L357.6,126.2 L358.0,126.3 L358.3,126.4 L358.7,126.5 L359.1,126.5 L359.4,126.6 L359.8,126.7 L360.2,126.8 L360.5,126.8 L360.9,126.9 L361.3,127.0 L361.6,127.0 L362.0,127.1 L362.4,127.1 L362.7,127.2 L363.1,127.2 L363.5,127.2 L363.8,127.3 L364.2,127.3 L364.6,127.3 L365.0,127.3 L365.3,127.3 L365.7,127.3 L366.1,127.3 L366.4,127.3 L366.8,127.3 L367.2,127.3 L367.5,127.3 L367.9,127.4 L368.3,127.4 L368.6,127.4 L369.0,127.4 L369.4,127.4 L369.7,127.4 L370.1,127.4 L370.5,127.4 L370.8,127.4 L371.2,127.4 L371.6,127.4 L371.9,127.4 L372.3,127.4 L372.7,127.4 L373.0,127.4 L373.4,127.4 L373.8,127.5 L374.1,127.5 L374.5,127.5 L374.9,127.5 L375.2,127.5 L375.6,127.5 L376.0,127.5 L376.3,127.5 L376.7,127.5 L377.1,127.5 L377.4,127.5 L377.8,127.5 L378.2,127.5 L378.5,127.5 L378.9,127.5 L379.3,127.5 L379.6,127.5 L380.0,127.5 L380.4,127.5 L380.7,127.6 L381.1,127.6 L381.5,127.6 L381.8,127.6 L382.2,127.6 L382.6,127.6 L383.0,127.6 L383.3,127.6 L383.7,127.6 L384.1,127.6 L384.4,127.6 L384.8,127.6 L385.2,127.6 L385.5,127.6 L385.9,127.6 L386.3,127.6 L386.6,127.6 L387.0,127.6 L387.4,127.6 L387.7,127.6 L388.1,127.6 L388.5,127.6 L388.8,127.6 L389.2,127.6 L389.6,127.6 L389.9,127.7 L390.3,127.7 L390.7,127.7 L391.0,127.7 L391.4,127.7 L391.8,127.7 L392.1,127.7 L392.5,127.7 L392.9,127.7 L393.2,127.7 L393.6,127.7 L394.0,127.7 L394.3,127.7 L394.7,127.7 L395.1,127.7 L395.4,127.7 L395.8,127.7 L396.2,127.7 L396.5,127.7 L396.9,127.7 L397.3,127.7 L397.6,127.7 L398.0,127.7 L398.4,127.7 L398.7,127.7 L399.1,127.7 L399.5,127.7 L399.8,127.7 L400.2,127.7 L400.6,127.7 L400.9,127.7 L401.3,127.7 L401.7,127.7 L402.1,127.7 L402.4,127.7 L402.8,127.7 L403.2,127.7 L403.5,127.7 L403.9,127.7 L404.3,127.7 L404.6,127.8 L405.0,127.8 L405.4,127.8 L405.7,127.8 L406.1,127.8 L406.5,127.8 L406.8,127.8 L407.2,127.8 L407.6,127.8 L407.9,127.8 L408.3,127.8 L408.7,127.8 L409.0,127.8 L409.4,127.8 L409.8,127.8 L410.1,127.8 L410.5,127.8 L410.9,127.8 L411.2,127.8 L411.6,127.8 L412.0,127.8 L412.3,127.8 L412.7,127.8 L413.1,127.8 L413.4,127.8 L413.8,127.8 L414.2,127.8 L414.5,127.8 L414.9,127.8 L415.3,127.8 L415.6,127.8 L416.0,127.8 L416.4,127.8 L416.7,127.8 L417.1,127.8 L417.5,127.8 L417.8,127.8 L418.2,127.8 L418.6,127.8 L418.9,127.8 L419.3,127.8 L419.7,127.8 L420.1,127.8 L420.4,127.8 L420.8,127.8 L421.2,127.8 L421.5,127.8 L421.9,127.8 L422.3,127.8 L422.6,127.8 L423.0,127.8 L423.4,127.8 L423.7,127.8 L424.1,127.8 L424.5,127.8 L424.8,127.8 L425.2,127.8 L425.6,127.8 L425.9,127.8 L426.3,127.8 L426.7,127.8 L427.0,127.8 L427.4,127.8 L427.8,127.8 L428.1,127.8 L428.5,127.8" stroke="#1a1a9c" stroke-width="2.2" fill="none" />
<path d="M245.0,126.3h2.5v2.5h-2.5zM252.0,126.6h2.5v2.5h-2.5zM259.2,127.0h2.5v2.5h-2.5zM266.6,126.5h2.5v2.5h-2.5zM272.9,126.4h2.5v2.5h-2.5zM279.5,126.2h2.5v2.5h-2.5zM286.5,125.9h2.5v2.5h-2.5zM293.4,123.4h2.5v2.5h-2.5zM298.6,119.9h2.5v2.5h-2.5zM304.4,114.7h2.5v2.5h-2.5zM308.0,109.1h2.5v2.5h-2.5zM311.3,103.2h2.5v2.5h-2.5zM313.2,95.8h2.5v2.5h-2.5zM314.4,89.3h2.5v2.5h-2.5zM316.3,82.4h2.5v2.5h-2.5zM318.5,76.0h2.5v2.5h-2.5zM319.7,69.4h2.5v2.5h-2.5zM320.4,61.4h2.5v2.5h-2.5zM322.4,55.4h2.5v2.5h-2.5zM322.4,49.4h2.5v2.5h-2.5zM323.6,40.3h2.5v2.5h-2.5zM324.5,33.8h2.5v2.5h-2.5zM324.4,26.8h2.5v2.5h-2.5zM327.1,20.2h2.5v2.5h-2.5zM328.3,15.0h2.5v2.5h-2.5zM331.6,19.8h2.5v2.5h-2.5zM335.0,26.0h2.5v2.5h-2.5zM336.2,33.6h2.5v2.5h-2.5zM337.4,39.7h2.5v2.5h-2.5zM338.1,47.7h2.5v2.5h-2.5zM339.2,54.2h2.5v2.5h-2.5zM339.5,61.8h2.5v2.5h-2.5zM341.1,67.5h2.5v2.5h-2.5zM341.4,76.7h2.5v2.5h-2.5zM342.4,82.3h2.5v2.5h-2.5zM343.7,89.1h2.5v2.5h-2.5zM344.3,95.6h2.5v2.5h-2.5zM345.5,102.1h2.5v2.5h-2.5zM347.1,108.9h2.5v2.5h-2.5zM348.8,116.0h2.5v2.5h-2.5zM352.8,121.7h2.5v2.5h-2.5zM359.0,125.6h2.5v2.5h-2.5zM365.6,125.6h2.5v2.5h-2.5zM372.7,126.6h2.5v2.5h-2.5zM379.1,126.9h2.5v2.5h-2.5zM386.1,126.0h2.5v2.5h-2.5zM392.9,127.2h2.5v2.5h-2.5zM400.8,126.3h2.5v2.5h-2.5zM407.3,127.2h2.5v2.5h-2.5zM414.9,126.8h2.5v2.5h-2.5zM421.1,127.2h2.5v2.5h-2.5z" fill="#000"/>
<path d="M318.7,263.5 L319.0,263.5 L319.4,263.5 L319.8,263.5 L320.1,263.5 L320.5,263.5 L320.9,263.5 L321.2,263.4 L321.6,263.4 L322.0,263.3 L322.3,263.3 L322.7,263.2 L323.1,263.1 L323.4,262.9 L323.8,262.7 L324.2,262.5 L324.5,262.2 L324.9,261.8 L325.3,261.4 L325.6,260.9 L326.0,260.3 L326.4,259.6 L326.7,258.8 L327.1,257.9 L327.5,256.8 L327.9,255.5 L328.2,254.1 L328.6,252.6 L329.0,250.8 L329.3,248.9 L329.7,246.7 L330.1,244.4 L330.4,241.9 L330.8,239.2 L331.2,236.3 L331.5,233.2 L331.9,230.0 L332.3,226.7 L332.6,223.3 L333.0,219.8 L333.4,216.3 L333.7,212.8 L334.1,209.4 L334.5,206.1 L334.8,202.9 L335.2,199.9 L335.6,197.1 L335.9,194.7 L336.3,192.5 L336.7,190.8 L337.0,189.4 L337.4,188.5 L337.8,188.0 L338.1,188.1 L338.5,188.5 L338.9,189.5 L339.2,190.9 L339.6,192.7 L340.0,194.9 L340.3,197.4 L340.7,200.2 L341.1,203.3 L341.4,206.6 L341.8,210.0 L342.2,213.5 L342.5,217.2 L342.9,220.8 L343.3,224.4 L343.6,227.9 L344.0,231.4 L344.4,234.7 L344.7,237.9 L345.1,241.0 L345.5,243.8 L345.8,246.5 L346.2,249.0 L346.6,251.3 L347.0,253.4 L347.3,255.3 L347.7,257.0 L348.1,258.6 L348.4,259.9 L348.8,261.1 L349.2,262.2 L349.5,263.2 L349.9,264.0 L350.3,264.7 L350.6,265.3 L351.0,265.8 L351.4,266.3 L351.7,266.7 L352.1,267.0 L352.5,267.2 L352.8,267.5 L353.2,267.7 L353.6,267.8 L353.9,268.0 L354.3,268.1 L354.7,268.2 L355.0,268.3 L355.4,268.3 L355.8,268.4 L356.1,268.4 L356.5,268.5 L356.9,268.5 L357.2,268.6 L357.2,269.3 L355.0,269.2 L352.8,269.2 L350.6,269.2 L348.4,269.2 L346.2,269.1 L344.0,268.9 L341.8,268.7 L339.6,268.3 L337.4,267.9 L335.2,267.4 L333.0,267.0 L330.8,266.5 L328.6,266.0 L326.4,265.4 L324.2,265.0 L322.0,264.6 L319.8,264.3Z" fill="#fa7d78" stroke="none" fill-opacity="1.0"/>
<path d="M318.7,263.5 L319.0,263.5 L319.4,263.5 L319.8,263.5 L320.1,263.5 L320.5,263.5 L320.9,263.5 L321.2,263.4 L321.6,263.4 L322.0,263.3 L322.3,263.3 L322.7,263.2 L323.1,263.1 L323.4,262.9 L323.8,262.7 L324.2,262.5 L324.5,262.2 L324.9,261.8 L325.3,261.4 L325.6,260.9 L326.0,260.3 L326.4,259.6 L326.7,258.8 L327.1,257.9 L327.5,256.8 L327.9,255.5 L328.2,254.1 L328.6,252.6 L329.0,250.8 L329.3,248.9 L329.7,246.7 L330.1,244.4 L330.4,241.9 L330.8,239.2 L331.2,236.3 L331.5,233.2 L331.9,230.0 L332.3,226.7 L332.6,223.3 L333.0,219.8 L333.4,216.3 L333.7,212.8 L334.1,209.4 L334.5,206.1 L334.8,202.9 L335.2,199.9 L335.6,197.1 L335.9,194.7 L336.3,192.5 L336.7,190.8 L337.0,189.4 L337.4,188.5 L337.8,188.0 L338.1,188.1 L338.5,188.5 L338.9,189.5 L339.2,190.9 L339.6,192.7 L340.0,194.9 L340.3,197.4 L340.7,200.2 L341.1,203.3 L341.4,206.6 L341.8,210.0 L342.2,213.5 L342.5,217.2 L342.9,220.8 L343.3,224.4 L343.6,227.9 L344.0,231.4 L344.4,234.7 L344.7,237.9 L345.1,241.0 L345.5,243.8 L345.8,246.5 L346.2,249.0 L346.6,251.3 L347.0,253.4 L347.3,255.3 L347.7,257.0 L348.1,258.6 L348.4,259.9 L348.8,261.1 L349.2,262.2 L349.5,263.2 L349.9,264.0 L350.3,264.7 L350.6,265.3 L351.0,265.8 L351.4,266.3 L351.7,266.7 L352.1,267.0 L352.5,267.2 L352.8,267.5 L353.2,267.7 L353.6,267.8 L353.9,268.0 L354.3,268.1 L354.7,268.2 L355.0,268.3 L355.4,268.3 L355.8,268.4 L356.1,268.4 L356.5,268.5 L356.9,268.5 L357.2,268.6" stroke="#ff2020" stroke-width="1.3" fill="none" />
<path d="M306.9,263.0 L307.3,263.0 L307.6,263.0 L308.0,262.9 L308.4,262.9 L308.7,262.9 L309.1,262.8 L309.5,262.8 L309.9,262.7 L310.2,262.6 L310.6,262.5 L311.0,262.4 L311.3,262.3 L311.7,262.1 L312.1,261.9 L312.4,261.7 L312.8,261.4 L313.2,261.1 L313.5,260.7 L313.9,260.2 L314.3,259.7 L314.6,259.0 L315.0,258.3 L315.4,257.4 L315.7,256.4 L316.1,255.3 L316.5,254.0 L316.8,252.5 L317.2,250.9 L317.6,249.1 L317.9,247.0 L318.3,244.8 L318.7,242.3 L319.0,239.7 L319.4,236.8 L319.8,233.8 L320.1,230.5 L320.5,227.1 L320.9,223.5 L321.2,219.8 L321.6,216.0 L322.0,212.2 L322.3,208.3 L322.7,204.5 L323.1,200.8 L323.4,197.1 L323.8,193.6 L324.2,190.4 L324.5,187.5 L324.9,184.8 L325.3,182.6 L325.6,180.7 L326.0,179.4 L326.4,178.5 L326.7,178.1 L327.1,178.2 L327.5,178.9 L327.9,180.0 L328.2,181.6 L328.6,183.7 L329.0,186.2 L329.3,189.1 L329.7,192.2 L330.1,195.7 L330.4,199.3 L330.8,203.1 L331.2,207.0 L331.5,211.0 L331.9,215.0 L332.3,219.0 L332.6,222.9 L333.0,226.7 L333.4,230.3 L333.7,233.8 L334.1,237.2 L334.5,240.3 L334.8,243.2 L335.2,246.0 L335.6,248.5 L335.9,250.8 L336.3,252.9 L336.7,254.8 L337.0,256.5 L337.4,258.1 L337.8,259.4 L338.1,260.6 L338.5,261.7 L338.9,262.6 L339.2,263.4 L339.6,264.2 L340.0,264.8 L340.3,265.3 L340.7,265.8 L341.1,266.2 L341.4,266.5 L341.8,266.8 L342.2,267.1 L342.5,267.3 L342.9,267.5 L343.3,267.6 L343.6,267.8 L344.0,267.9 L344.4,268.0 L344.7,268.1 L345.1,268.2 L345.5,268.2 L345.8,268.3 L346.2,268.4 L346.6,268.4 L347.0,268.5 L347.0,269.1 L344.7,269.0 L342.5,268.8 L340.3,268.4 L338.1,268.0 L335.9,267.6 L333.7,267.1 L331.5,266.6 L329.3,266.1 L327.1,265.6 L324.9,265.1 L322.7,264.7 L320.5,264.4 L318.3,264.2 L316.1,264.0 L313.9,263.9 L311.7,263.8 L309.5,263.8 L307.3,263.7Z" fill="#8282f5" stroke="none" fill-opacity="0.75"/>
<path d="M306.9,263.0 L307.3,263.0 L307.6,263.0 L308.0,262.9 L308.4,262.9 L308.7,262.9 L309.1,262.8 L309.5,262.8 L309.9,262.7 L310.2,262.6 L310.6,262.5 L311.0,262.4 L311.3,262.3 L311.7,262.1 L312.1,261.9 L312.4,261.7 L312.8,261.4 L313.2,261.1 L313.5,260.7 L313.9,260.2 L314.3,259.7 L314.6,259.0 L315.0,258.3 L315.4,257.4 L315.7,256.4 L316.1,255.3 L316.5,254.0 L316.8,252.5 L317.2,250.9 L317.6,249.1 L317.9,247.0 L318.3,244.8 L318.7,242.3 L319.0,239.7 L319.4,236.8 L319.8,233.8 L320.1,230.5 L320.5,227.1 L320.9,223.5 L321.2,219.8 L321.6,216.0 L322.0,212.2 L322.3,208.3 L322.7,204.5 L323.1,200.8 L323.4,197.1 L323.8,193.6 L324.2,190.4 L324.5,187.5 L324.9,184.8 L325.3,182.6 L325.6,180.7 L326.0,179.4 L326.4,178.5 L326.7,178.1 L327.1,178.2 L327.5,178.9 L327.9,180.0 L328.2,181.6 L328.6,183.7 L329.0,186.2 L329.3,189.1 L329.7,192.2 L330.1,195.7 L330.4,199.3 L330.8,203.1 L331.2,207.0 L331.5,211.0 L331.9,215.0 L332.3,219.0 L332.6,222.9 L333.0,226.7 L333.4,230.3 L333.7,233.8 L334.1,237.2 L334.5,240.3 L334.8,243.2 L335.2,246.0 L335.6,248.5 L335.9,250.8 L336.3,252.9 L336.7,254.8 L337.0,256.5 L337.4,258.1 L337.8,259.4 L338.1,260.6 L338.5,261.7 L338.9,262.6 L339.2,263.4 L339.6,264.2 L340.0,264.8 L340.3,265.3 L340.7,265.8 L341.1,266.2 L341.4,266.5 L341.8,266.8 L342.2,267.1 L342.5,267.3 L342.9,267.5 L343.3,267.6 L343.6,267.8 L344.0,267.9 L344.4,268.0 L344.7,268.1 L345.1,268.2 L345.5,268.2 L345.8,268.3 L346.2,268.4 L346.6,268.4 L347.0,268.5" stroke="#0a0aff" stroke-width="1.3" fill="none" />
<path d="M293.7,262.8 L294.1,262.8 L294.4,262.7 L294.8,262.6 L295.2,262.5 L295.5,262.4 L295.9,262.3 L296.3,262.2 L296.6,262.1 L297.0,261.9 L297.4,261.7 L297.7,261.6 L298.1,261.4 L298.5,261.2 L298.8,261.0 L299.2,260.7 L299.6,260.5 L299.9,260.2 L300.3,260.0 L300.7,259.7 L301.0,259.4 L301.4,259.0 L301.8,258.7 L302.1,258.3 L302.5,258.0 L302.9,257.6 L303.2,257.2 L303.6,256.8 L304.0,256.4 L304.3,256.0 L304.7,255.6 L305.1,255.1 L305.4,254.7 L305.8,254.3 L306.2,253.8 L306.5,253.4 L306.9,253.0 L307.3,252.6 L307.6,252.2 L308.0,251.8 L308.4,251.5 L308.7,251.1 L309.1,250.8 L309.5,250.5 L309.9,250.2 L310.2,250.0 L310.6,249.8 L311.0,249.7 L311.3,249.5 L311.7,249.4 L312.1,249.4 L312.4,249.4 L312.8,249.4 L313.2,249.5 L313.5,249.6 L313.9,249.7 L314.3,249.9 L314.6,250.1 L315.0,250.4 L315.4,250.6 L315.7,250.9 L316.1,251.3 L316.5,251.6 L316.8,252.0 L317.2,252.4 L317.6,252.9 L317.9,253.3 L318.3,253.7 L318.7,254.2 L319.0,254.7 L319.4,255.1 L319.8,255.6 L320.1,256.1 L320.5,256.6 L320.9,257.0 L321.2,257.5 L321.6,258.0 L322.0,258.4 L322.3,258.9 L322.7,259.3 L323.1,259.7 L323.4,260.1 L323.8,260.5 L324.2,260.9 L324.5,261.3 L324.9,261.7 L325.3,262.0 L325.6,262.4 L326.0,262.7 L326.4,263.0 L326.7,263.3 L327.1,263.6 L327.5,263.8 L327.9,264.1 L328.2,264.3 L328.6,264.6 L329.0,264.8 L329.3,265.0 L329.7,265.2 L330.1,265.4 L330.4,265.5 L330.8,265.7 L331.2,265.8 L331.5,266.0 L331.5,266.6 L329.3,266.1 L327.1,265.6 L324.9,265.1 L322.7,264.7 L320.5,264.4 L318.3,264.2 L316.1,264.0 L313.9,263.9 L311.7,263.8 L309.5,263.8 L307.3,263.7 L305.1,263.6 L302.9,263.6 L300.7,263.6 L298.5,263.6 L296.3,263.5 L294.1,263.5Z" fill="#ec50ec" stroke="none" fill-opacity="0.75"/>
<path d="M293.7,262.8 L294.1,262.8 L294.4,262.7 L294.8,262.6 L295.2,262.5 L295.5,262.4 L295.9,262.3 L296.3,262.2 L296.6,262.1 L297.0,261.9 L297.4,261.7 L297.7,261.6 L298.1,261.4 L298.5,261.2 L298.8,261.0 L299.2,260.7 L299.6,260.5 L299.9,260.2 L300.3,260.0 L300.7,259.7 L301.0,259.4 L301.4,259.0 L301.8,258.7 L302.1,258.3 L302.5,258.0 L302.9,257.6 L303.2,257.2 L303.6,256.8 L304.0,256.4 L304.3,256.0 L304.7,255.6 L305.1,255.1 L305.4,254.7 L305.8,254.3 L306.2,253.8 L306.5,253.4 L306.9,253.0 L307.3,252.6 L307.6,252.2 L308.0,251.8 L308.4,251.5 L308.7,251.1 L309.1,250.8 L309.5,250.5 L309.9,250.2 L310.2,250.0 L310.6,249.8 L311.0,249.7 L311.3,249.5 L311.7,249.4 L312.1,249.4 L312.4,249.4 L312.8,249.4 L313.2,249.5 L313.5,249.6 L313.9,249.7 L314.3,249.9 L314.6,250.1 L315.0,250.4 L315.4,250.6 L315.7,250.9 L316.1,251.3 L316.5,251.6 L316.8,252.0 L317.2,252.4 L317.6,252.9 L317.9,253.3 L318.3,253.7 L318.7,254.2 L319.0,254.7 L319.4,255.1 L319.8,255.6 L320.1,256.1 L320.5,256.6 L320.9,257.0 L321.2,257.5 L321.6,258.0 L322.0,258.4 L322.3,258.9 L322.7,259.3 L323.1,259.7 L323.4,260.1 L323.8,260.5 L324.2,260.9 L324.5,261.3 L324.9,261.7 L325.3,262.0 L325.6,262.4 L326.0,262.7 L326.4,263.0 L326.7,263.3 L327.1,263.6 L327.5,263.8 L327.9,264.1 L328.2,264.3 L328.6,264.6 L329.0,264.8 L329.3,265.0 L329.7,265.2 L330.1,265.4 L330.4,265.5 L330.8,265.7 L331.2,265.8 L331.5,266.0" stroke="#ff00ff" stroke-width="1.3" fill="none" />
<path d="M310.6,263.1 L311.0,263.0 L311.3,263.0 L311.7,262.9 L312.1,262.8 L312.4,262.7 L312.8,262.6 L313.2,262.5 L313.5,262.4 L313.9,262.3 L314.3,262.1 L314.6,262.0 L315.0,261.8 L315.4,261.7 L315.7,261.5 L316.1,261.3 L316.5,261.1 L316.8,260.9 L317.2,260.7 L317.6,260.6 L317.9,260.4 L318.3,260.2 L318.7,260.0 L319.0,259.8 L319.4,259.6 L319.8,259.4 L320.1,259.2 L320.5,259.1 L320.9,258.9 L321.2,258.8 L321.6,258.7 L322.0,258.6 L322.3,258.5 L322.7,258.5 L323.1,258.4 L323.4,258.4 L323.8,258.4 L324.2,258.5 L324.5,258.5 L324.9,258.6 L325.3,258.8 L325.6,258.9 L326.0,259.1 L326.4,259.2 L326.7,259.4 L327.1,259.7 L327.5,259.9 L327.9,260.2 L328.2,260.4 L328.6,260.7 L329.0,261.0 L329.3,261.3 L329.7,261.6 L330.1,261.9 L330.4,262.2 L330.8,262.5 L331.2,262.8 L331.5,263.1 L331.9,263.4 L332.3,263.7 L332.6,264.0 L333.0,264.3 L333.4,264.5 L333.7,264.8 L334.1,265.1 L334.5,265.3 L334.8,265.5 L335.2,265.8 L335.6,266.0 L335.9,266.2 L336.3,266.4 L336.7,266.6 L337.0,266.8 L337.4,267.0 L337.8,267.1 L338.1,267.3 L338.5,267.4 L338.5,268.1 L336.3,267.6 L334.1,267.2 L331.9,266.7 L329.7,266.2 L327.5,265.7 L325.3,265.2 L323.1,264.8 L320.9,264.4 L318.7,264.2 L316.5,264.1 L314.3,264.0 L312.1,263.9Z" fill="#ec50ec" stroke="none" fill-opacity="0.75"/>
<path d="M310.6,263.1 L311.0,263.0 L311.3,263.0 L311.7,262.9 L312.1,262.8 L312.4,262.7 L312.8,262.6 L313.2,262.5 L313.5,262.4 L313.9,262.3 L314.3,262.1 L314.6,262.0 L315.0,261.8 L315.4,261.7 L315.7,261.5 L316.1,261.3 L316.5,261.1 L316.8,260.9 L317.2,260.7 L317.6,260.6 L317.9,260.4 L318.3,260.2 L318.7,260.0 L319.0,259.8 L319.4,259.6 L319.8,259.4 L320.1,259.2 L320.5,259.1 L320.9,258.9 L321.2,258.8 L321.6,258.7 L322.0,258.6 L322.3,258.5 L322.7,258.5 L323.1,258.4 L323.4,258.4 L323.8,258.4 L324.2,258.5 L324.5,258.5 L324.9,258.6 L325.3,258.8 L325.6,258.9 L326.0,259.1 L326.4,259.2 L326.7,259.4 L327.1,259.7 L327.5,259.9 L327.9,260.2 L328.2,260.4 L328.6,260.7 L329.0,261.0 L329.3,261.3 L329.7,261.6 L330.1,261.9 L330.4,262.2 L330.8,262.5 L331.2,262.8 L331.5,263.1 L331.9,263.4 L332.3,263.7 L332.6,264.0 L333.0,264.3 L333.4,264.5 L333.7,264.8 L334.1,265.1 L334.5,265.3 L334.8,265.5 L335.2,265.8 L335.6,266.0 L335.9,266.2 L336.3,266.4 L336.7,266.6 L337.0,266.8 L337.4,267.0 L337.8,267.1 L338.1,267.3 L338.5,267.4" stroke="#ff00ff" stroke-width="1.3" fill="none" />
<path d="M245.2,263.5 L245.6,263.5 L245.9,263.5 L246.3,263.5 L246.7,263.5 L247.0,263.5 L247.4,263.5 L247.8,263.5 L248.1,263.5 L248.5,263.5 L248.9,263.5 L249.2,263.5 L249.6,263.5 L250.0,263.5 L250.3,263.5 L250.7,263.5 L251.1,263.5 L251.4,263.5 L251.8,263.5 L252.2,263.5 L252.5,263.5 L252.9,263.5 L253.3,263.5 L253.6,263.5 L254.0,263.5 L254.4,263.5 L254.8,263.5 L255.1,263.5 L255.5,263.5 L255.9,263.5 L256.2,263.5 L256.6,263.5 L257.0,263.5 L257.3,263.5 L257.7,263.5 L258.1,263.5 L258.4,263.5 L258.8,263.5 L259.2,263.5 L259.5,263.5 L259.9,263.5 L260.3,263.5 L260.6,263.5 L261.0,263.5 L261.4,263.5 L261.7,263.5 L262.1,263.5 L262.5,263.5 L262.8,263.5 L263.2,263.5 L263.6,263.5 L263.9,263.5 L264.3,263.5 L264.7,263.5 L265.0,263.5 L265.4,263.5 L265.8,263.5 L266.1,263.5 L266.5,263.5 L266.9,263.5 L267.2,263.5 L267.6,263.5 L268.0,263.5 L268.3,263.5 L268.7,263.5 L269.1,263.5 L269.4,263.5 L269.8,263.5 L270.2,263.5 L270.5,263.5 L270.9,263.5 L271.3,263.5 L271.6,263.5 L272.0,263.5 L272.4,263.5 L272.8,263.5 L273.1,263.5 L273.5,263.5 L273.9,263.5 L274.2,263.5 L274.6,263.5 L275.0,263.5 L275.3,263.5 L275.7,263.5 L276.1,263.5 L276.4,263.5 L276.8,263.5 L277.2,263.5 L277.5,263.5 L277.9,263.5 L278.3,263.5 L278.6,263.5 L279.0,263.5 L279.4,263.5 L279.7,263.5 L280.1,263.5 L280.5,263.5 L280.8,263.5 L281.2,263.5 L281.6,263.5 L281.9,263.5 L282.3,263.5 L282.7,263.5 L283.0,263.5 L283.4,263.5 L283.8,263.5 L284.1,263.5 L284.5,263.5 L284.9,263.5 L285.2,263.5 L285.6,263.5 L286.0,263.5 L286.3,263.5 L286.7,263.5 L287.1,263.5 L287.4,263.5 L287.8,263.5 L288.2,263.5 L288.5,263.5 L288.9,263.5 L289.3,263.5 L289.6,263.5 L290.0,263.5 L290.4,263.5 L290.7,263.5 L291.1,263.5 L291.5,263.5 L291.9,263.5 L292.2,263.5 L292.6,263.5 L293.0,263.5 L293.3,263.5 L293.7,263.5 L294.1,263.5 L294.4,263.5 L294.8,263.5 L295.2,263.5 L295.5,263.5 L295.9,263.5 L296.3,263.5 L296.6,263.5 L297.0,263.5 L297.4,263.5 L297.7,263.5 L298.1,263.5 L298.5,263.6 L298.8,263.6 L299.2,263.6 L299.6,263.6 L299.9,263.6 L300.3,263.6 L300.7,263.6 L301.0,263.6 L301.4,263.6 L301.8,263.6 L302.1,263.6 L302.5,263.6 L302.9,263.6 L303.2,263.6 L303.6,263.6 L304.0,263.6 L304.3,263.6 L304.7,263.6 L305.1,263.6 L305.4,263.6 L305.8,263.7 L306.2,263.7 L306.5,263.7 L306.9,263.7 L307.3,263.7 L307.6,263.7 L308.0,263.7 L308.4,263.7 L308.7,263.7 L309.1,263.7 L309.5,263.8 L309.9,263.8 L310.2,263.8 L310.6,263.8 L311.0,263.8 L311.3,263.8 L311.7,263.8 L312.1,263.9 L312.4,263.9 L312.8,263.9 L313.2,263.9 L313.5,263.9 L313.9,263.9 L314.3,264.0 L314.6,264.0 L315.0,264.0 L315.4,264.0 L315.7,264.0 L316.1,264.0 L316.5,264.1 L316.8,264.1 L317.2,264.1 L317.6,264.1 L317.9,264.2 L318.3,264.2 L318.7,264.2 L319.0,264.2 L319.4,264.3 L319.8,264.3 L320.1,264.4 L320.5,264.4 L320.9,264.4 L321.2,264.5 L321.6,264.5 L322.0,264.6 L322.3,264.6 L322.7,264.7 L323.1,264.8 L323.4,264.8 L323.8,264.9 L324.2,265.0 L324.5,265.0 L324.9,265.1 L325.3,265.2 L325.6,265.3 L326.0,265.4 L326.4,265.4 L326.7,265.5 L327.1,265.6 L327.5,265.7 L327.9,265.8 L328.2,265.9 L328.6,266.0 L329.0,266.1 L329.3,266.1 L329.7,266.2 L330.1,266.3 L330.4,266.4 L330.8,266.5 L331.2,266.6 L331.5,266.6 L331.9,266.7 L332.3,266.8 L332.6,266.9 L333.0,267.0 L333.4,267.0 L333.7,267.1 L334.1,267.2 L334.5,267.3 L334.8,267.3 L335.2,267.4 L335.6,267.5 L335.9,267.6 L336.3,267.6 L336.7,267.7 L337.0,267.8 L337.4,267.9 L337.8,267.9 L338.1,268.0 L338.5,268.1 L338.9,268.2 L339.2,268.2 L339.6,268.3 L340.0,268.4 L340.3,268.4 L340.7,268.5 L341.1,268.6 L341.4,268.6 L341.8,268.7 L342.2,268.7 L342.5,268.8 L342.9,268.8 L343.3,268.9 L343.6,268.9 L344.0,268.9 L344.4,269.0 L344.7,269.0 L345.1,269.0 L345.5,269.1 L345.8,269.1 L346.2,269.1 L346.6,269.1 L347.0,269.1 L347.3,269.2 L347.7,269.2 L348.1,269.2 L348.4,269.2 L348.8,269.2 L349.2,269.2 L349.5,269.2 L349.9,269.2 L350.3,269.2 L350.6,269.2 L351.0,269.2 L351.4,269.2 L351.7,269.2 L352.1,269.2 L352.5,269.2 L352.8,269.2 L353.2,269.2 L353.6,269.2 L353.9,269.2 L354.3,269.2 L354.7,269.2 L355.0,269.2 L355.4,269.3 L355.8,269.3 L356.1,269.3 L356.5,269.3 L356.9,269.3 L357.2,269.3 L357.6,269.3 L358.0,269.3 L358.3,269.3 L358.7,269.3 L359.1,269.3 L359.4,269.3 L359.8,269.3 L360.2,269.3 L360.5,269.3 L360.9,269.3 L361.3,269.3 L361.6,269.3 L362.0,269.3 L362.4,269.3 L362.7,269.3 L363.1,269.3 L363.5,269.3 L363.8,269.3 L364.2,269.3 L364.6,269.3 L365.0,269.3 L365.3,269.3 L365.7,269.3 L366.1,269.3 L366.4,269.3 L366.8,269.3 L367.2,269.3 L367.5,269.3 L367.9,269.3 L368.3,269.3 L368.6,269.3 L369.0,269.3 L369.4,269.3 L369.7,269.3 L370.1,269.3 L370.5,269.3 L370.8,269.3 L371.2,269.3 L371.6,269.3 L371.9,269.3 L372.3,269.3 L372.7,269.3 L373.0,269.3 L373.4,269.3 L373.8,269.3 L374.1,269.3 L374.5,269.3 L374.9,269.3 L375.2,269.3 L375.6,269.3 L376.0,269.3 L376.3,269.3 L376.7,269.3 L377.1,269.3 L377.4,269.3 L377.8,269.3 L378.2,269.3 L378.5,269.3 L378.9,269.3 L379.3,269.3 L379.6,269.3 L380.0,269.3 L380.4,269.3 L380.7,269.3 L381.1,269.3 L381.5,269.3 L381.8,269.3 L382.2,269.3 L382.6,269.3 L383.0,269.3 L383.3,269.3 L383.7,269.3 L384.1,269.3 L384.4,269.3 L384.8,269.3 L385.2,269.3 L385.5,269.3 L385.9,269.3 L386.3,269.3 L386.6,269.3 L387.0,269.3 L387.4,269.3 L387.7,269.3 L388.1,269.3 L388.5,269.3 L388.8,269.3 L389.2,269.3 L389.6,269.3 L389.9,269.3 L390.3,269.3 L390.7,269.3 L391.0,269.3 L391.4,269.3 L391.8,269.3 L392.1,269.3 L392.5,269.3 L392.9,269.3 L393.2,269.3 L393.6,269.3 L394.0,269.3 L394.3,269.3 L394.7,269.3 L395.1,269.3 L395.4,269.3 L395.8,269.3 L396.2,269.3 L396.5,269.3 L396.9,269.3 L397.3,269.3 L397.6,269.3 L398.0,269.3 L398.4,269.3 L398.7,269.3 L399.1,269.3 L399.5,269.3 L399.8,269.3 L400.2,269.3 L400.6,269.3 L400.9,269.3 L401.3,269.3 L401.7,269.3 L402.1,269.3 L402.4,269.3 L402.8,269.3 L403.2,269.3 L403.5,269.3 L403.9,269.3 L404.3,269.3 L404.6,269.3 L405.0,269.3 L405.4,269.3 L405.7,269.3 L406.1,269.3 L406.5,269.3 L406.8,269.3 L407.2,269.3 L407.6,269.3 L407.9,269.3 L408.3,269.3 L408.7,269.3 L409.0,269.3 L409.4,269.3 L409.8,269.3 L410.1,269.3 L410.5,269.3 L410.9,269.3 L411.2,269.3 L411.6,269.3 L412.0,269.3 L412.3,269.3 L412.7,269.3 L413.1,269.3 L413.4,269.3 L413.8,269.3 L414.2,269.3 L414.5,269.3 L414.9,269.3 L415.3,269.3 L415.6,269.3 L416.0,269.3 L416.4,269.3 L416.7,269.3 L417.1,269.3 L417.5,269.3 L417.8,269.3 L418.2,269.3 L418.6,269.3 L418.9,269.3 L419.3,269.3 L419.7,269.3 L420.1,269.3 L420.4,269.3 L420.8,269.3 L421.2,269.3 L421.5,269.3 L421.9,269.3 L422.3,269.3 L422.6,269.3 L423.0,269.3 L423.4,269.3 L423.7,269.3 L424.1,269.3 L424.5,269.3 L424.8,269.3 L425.2,269.3 L425.6,269.3 L425.9,269.3 L426.3,269.3 L426.7,269.3 L427.0,269.3 L427.4,269.3 L427.8,269.3 L428.1,269.3 L428.5,269.3" stroke="#000" stroke-width="1.4" fill="none" />
<path d="M245.2,263.5 L245.6,263.5 L245.9,263.5 L246.3,263.5 L246.7,263.5 L247.0,263.5 L247.4,263.5 L247.8,263.5 L248.1,263.5 L248.5,263.5 L248.9,263.5 L249.2,263.5 L249.6,263.5 L250.0,263.5 L250.3,263.6 L250.7,263.6 L251.1,263.6 L251.4,263.6 L251.8,263.6 L252.2,263.6 L252.5,263.6 L252.9,263.6 L253.3,263.6 L253.6,263.6 L254.0,263.6 L254.4,263.6 L254.8,263.6 L255.1,263.6 L255.5,263.6 L255.9,263.6 L256.2,263.6 L256.6,263.6 L257.0,263.6 L257.3,263.6 L257.7,263.6 L258.1,263.6 L258.4,263.6 L258.8,263.6 L259.2,263.6 L259.5,263.6 L259.9,263.6 L260.3,263.6 L260.6,263.6 L261.0,263.6 L261.4,263.6 L261.7,263.6 L262.1,263.6 L262.5,263.6 L262.8,263.6 L263.2,263.6 L263.6,263.6 L263.9,263.6 L264.3,263.6 L264.7,263.6 L265.0,263.6 L265.4,263.6 L265.8,263.6 L266.1,263.6 L266.5,263.6 L266.9,263.6 L267.2,263.6 L267.6,263.6 L268.0,263.6 L268.3,263.6 L268.7,263.6 L269.1,263.6 L269.4,263.6 L269.8,263.6 L270.2,263.6 L270.5,263.6 L270.9,263.6 L271.3,263.6 L271.6,263.6 L272.0,263.6 L272.4,263.6 L272.8,263.6 L273.1,263.6 L273.5,263.6 L273.9,263.6 L274.2,263.6 L274.6,263.6 L275.0,263.6 L275.3,263.6 L275.7,263.5 L276.1,263.5 L276.4,263.5 L276.8,263.5 L277.2,263.5 L277.5,263.5 L277.9,263.5 L278.3,263.5 L278.6,263.5 L279.0,263.5 L279.4,263.4 L279.7,263.4 L280.1,263.4 L280.5,263.4 L280.8,263.4 L281.2,263.4 L281.6,263.4 L281.9,263.4 L282.3,263.3 L282.7,263.3 L283.0,263.3 L283.4,263.3 L283.8,263.3 L284.1,263.2 L284.5,263.2 L284.9,263.2 L285.2,263.2 L285.6,263.1 L286.0,263.1 L286.3,263.0 L286.7,262.9 L287.1,262.8 L287.4,262.7 L287.8,262.6 L288.2,262.5 L288.5,262.3 L288.9,262.2 L289.3,262.0 L289.6,261.9 L290.0,261.7 L290.4,261.6 L290.7,261.4 L291.1,261.3 L291.5,261.1 L291.9,261.0 L292.2,260.8 L292.6,260.7 L293.0,260.5 L293.3,260.4 L293.7,260.2 L294.1,260.0 L294.4,259.9 L294.8,259.7 L295.2,259.5 L295.5,259.3 L295.9,259.1 L296.3,258.9 L296.6,258.7 L297.0,258.5 L297.4,258.2 L297.7,258.0 L298.1,257.7 L298.5,257.5 L298.8,257.2 L299.2,256.9 L299.6,256.6 L299.9,256.3 L300.3,256.0 L300.7,255.6 L301.0,255.3 L301.4,254.9 L301.8,254.5 L302.1,254.1 L302.5,253.7 L302.9,253.3 L303.2,252.8 L303.6,252.3 L304.0,251.8 L304.3,251.2 L304.7,250.6 L305.1,250.0 L305.4,249.4 L305.8,248.7 L306.2,248.0 L306.5,247.2 L306.9,246.5 L307.3,245.8 L307.6,245.0 L308.0,244.2 L308.4,243.4 L308.7,242.5 L309.1,241.7 L309.5,240.7 L309.9,239.8 L310.2,238.9 L310.6,237.9 L311.0,236.9 L311.3,236.0 L311.7,235.0 L312.1,234.0 L312.4,233.1 L312.8,232.1 L313.2,231.2 L313.5,230.3 L313.9,229.4 L314.3,228.5 L314.6,227.5 L315.0,226.5 L315.4,225.5 L315.7,224.3 L316.1,223.2 L316.5,221.9 L316.8,220.5 L317.2,219.1 L317.6,217.5 L317.9,215.7 L318.3,213.9 L318.7,211.8 L319.0,209.6 L319.4,207.2 L319.8,204.3 L320.1,200.9 L320.5,197.3 L320.9,193.5 L321.2,189.1 L321.6,184.6 L322.0,180.5 L322.3,177.4 L322.7,174.8 L323.1,172.5 L323.4,170.4 L323.8,168.5 L324.2,166.6 L324.5,164.7 L324.9,162.7 L325.3,160.6 L325.6,158.6 L326.0,156.9 L326.4,155.6 L326.7,154.8 L327.1,154.6 L327.5,155.3 L327.9,156.5 L328.2,158.1 L328.6,160.1 L329.0,162.2 L329.3,164.2 L329.7,165.9 L330.1,167.8 L330.4,169.9 L330.8,171.9 L331.2,173.8 L331.5,175.1 L331.9,175.6 L332.3,175.7 L332.6,175.9 L333.0,176.0 L333.4,176.0 L333.7,176.1 L334.1,176.1 L334.5,176.2 L334.8,176.3 L335.2,176.5 L335.6,176.7 L335.9,177.3 L336.3,178.3 L336.7,179.5 L337.0,180.8 L337.4,182.3 L337.8,184.0 L338.1,186.3 L338.5,188.9 L338.9,191.8 L339.2,194.7 L339.6,197.4 L340.0,200.1 L340.3,202.9 L340.7,205.5 L341.1,207.8 L341.4,209.5 L341.8,210.9 L342.2,212.4 L342.5,214.4 L342.9,217.2 L343.3,220.6 L343.6,224.0 L344.0,227.2 L344.4,230.2 L344.7,233.1 L345.1,235.9 L345.5,238.6 L345.8,240.9 L346.2,243.1 L346.6,245.1 L347.0,247.1 L347.3,248.9 L347.7,250.4 L348.1,251.8 L348.4,252.9 L348.8,253.9 L349.2,254.9 L349.5,255.8 L349.9,256.6 L350.3,257.4 L350.6,258.0 L351.0,258.6 L351.4,259.1 L351.7,259.5 L352.1,259.8 L352.5,260.2 L352.8,260.6 L353.2,260.9 L353.6,261.2 L353.9,261.5 L354.3,261.8 L354.7,262.0 L355.0,262.2 L355.4,262.5 L355.8,262.6 L356.1,262.8 L356.5,263.0 L356.9,263.1 L357.2,263.2 L357.6,263.4 L358.0,263.5 L358.3,263.6 L358.7,263.7 L359.1,263.8 L359.4,263.9 L359.8,264.0 L360.2,264.1 L360.5,264.1 L360.9,264.2 L361.3,264.3 L361.6,264.4 L362.0,264.4 L362.4,264.5 L362.7,264.6 L363.1,264.6 L363.5,264.7 L363.8,264.7 L364.2,264.8 L364.6,264.8 L365.0,264.9 L365.3,264.9 L365.7,265.0 L366.1,265.0 L366.4,265.0 L366.8,265.1 L367.2,265.1 L367.5,265.1 L367.9,265.2 L368.3,265.2 L368.6,265.2 L369.0,265.3 L369.4,265.3 L369.7,265.3 L370.1,265.3 L370.5,265.4 L370.8,265.4 L371.2,265.4 L371.6,265.4 L371.9,265.4 L372.3,265.5 L372.7,265.5 L373.0,265.5 L373.4,265.5 L373.8,265.6 L374.1,265.6 L374.5,265.6 L374.9,265.6 L375.2,265.6 L375.6,265.6 L376.0,265.7 L376.3,265.7 L376.7,265.7 L377.1,265.7 L377.4,265.7 L377.8,265.8 L378.2,265.8 L378.5,265.8 L378.9,265.8 L379.3,265.9 L379.6,265.9 L380.0,265.9 L380.4,265.9 L380.7,265.9 L381.1,266.0 L381.5,266.0 L381.8,266.0 L382.2,266.0 L382.6,266.1 L383.0,266.1 L383.3,266.1 L383.7,266.1 L384.1,266.2 L384.4,266.2 L384.8,266.2 L385.2,266.2 L385.5,266.3 L385.9,266.3 L386.3,266.3 L386.6,266.3 L387.0,266.4 L387.4,266.4 L387.7,266.4 L388.1,266.4 L388.5,266.5 L388.8,266.5 L389.2,266.5 L389.6,266.5 L389.9,266.6 L390.3,266.6 L390.7,266.6 L391.0,266.6 L391.4,266.7 L391.8,266.7 L392.1,266.7 L392.5,266.7 L392.9,266.8 L393.2,266.8 L393.6,266.8 L394.0,266.8 L394.3,266.9 L394.7,266.9 L395.1,266.9 L395.4,266.9 L395.8,267.0 L396.2,267.0 L396.5,267.0 L396.9,267.0 L397.3,267.1 L397.6,267.1 L398.0,267.1 L398.4,267.1 L398.7,267.2 L399.1,267.2 L399.5,267.2 L399.8,267.2 L400.2,267.2 L400.6,267.3 L400.9,267.3 L401.3,267.3 L401.7,267.3 L402.1,267.4 L402.4,267.4 L402.8,267.4 L403.2,267.4 L403.5,267.5 L403.9,267.5 L404.3,267.5 L404.6,267.5 L405.0,267.6 L405.4,267.6 L405.7,267.6 L406.1,267.6 L406.5,267.7 L406.8,267.7 L407.2,267.7 L407.6,267.7 L407.9,267.8 L408.3,267.8 L408.7,267.8 L409.0,267.8 L409.4,267.9 L409.8,267.9 L410.1,267.9 L410.5,267.9 L410.9,268.0 L411.2,268.0 L411.6,268.0 L412.0,268.0 L412.3,268.1 L412.7,268.1 L413.1,268.1 L413.4,268.2 L413.8,268.2 L414.2,268.2 L414.5,268.2 L414.9,268.3 L415.3,268.3 L415.6,268.3 L416.0,268.3 L416.4,268.4 L416.7,268.4 L417.1,268.4 L417.5,268.4 L417.8,268.5 L418.2,268.5 L418.6,268.5 L418.9,268.5 L419.3,268.6 L419.7,268.6 L420.1,268.6 L420.4,268.6 L420.8,268.7 L421.2,268.7 L421.5,268.7 L421.9,268.7 L422.3,268.8 L422.6,268.8 L423.0,268.8 L423.4,268.8 L423.7,268.9 L424.1,268.9 L424.5,268.9 L424.8,268.9 L425.2,269.0 L425.6,269.0 L425.9,269.0 L426.3,269.0 L426.7,269.1 L427.0,269.1 L427.4,269.1 L427.8,269.1 L428.1,269.2 L428.5,269.2" stroke="#1a1a9c" stroke-width="2.2" fill="none" />
<path d="M244.6,262.0h2.5v2.5h-2.5zM251.9,262.7h2.5v2.5h-2.5zM259.5,262.2h2.5v2.5h-2.5zM265.7,262.3h2.5v2.5h-2.5zM272.2,262.2h2.5v2.5h-2.5zM279.2,261.6h2.5v2.5h-2.5zM286.0,260.9h2.5v2.5h-2.5zM292.5,257.7h2.5v2.5h-2.5zM299.0,255.7h2.5v2.5h-2.5zM304.0,249.0h2.5v2.5h-2.5zM306.6,243.3h2.5v2.5h-2.5zM309.5,236.0h2.5v2.5h-2.5zM311.8,230.5h2.5v2.5h-2.5zM314.4,222.4h2.5v2.5h-2.5zM316.1,217.3h2.5v2.5h-2.5zM317.5,209.8h2.5v2.5h-2.5zM318.7,204.2h2.5v2.5h-2.5zM318.8,195.2h2.5v2.5h-2.5zM320.3,189.1h2.5v2.5h-2.5zM320.8,182.3h2.5v2.5h-2.5zM321.2,175.8h2.5v2.5h-2.5zM322.7,167.9h2.5v2.5h-2.5zM323.4,161.3h2.5v2.5h-2.5zM324.9,153.2h2.5v2.5h-2.5zM327.4,158.3h2.5v2.5h-2.5zM328.6,165.9h2.5v2.5h-2.5zM329.7,173.2h2.5v2.5h-2.5zM334.6,176.3h2.5v2.5h-2.5zM336.4,184.5h2.5v2.5h-2.5zM337.9,191.3h2.5v2.5h-2.5zM337.8,197.1h2.5v2.5h-2.5zM339.6,202.6h2.5v2.5h-2.5zM340.8,209.9h2.5v2.5h-2.5zM342.1,217.4h2.5v2.5h-2.5zM342.8,225.5h2.5v2.5h-2.5zM342.5,231.9h2.5v2.5h-2.5zM344.7,237.4h2.5v2.5h-2.5zM345.8,245.4h2.5v2.5h-2.5zM347.4,253.3h2.5v2.5h-2.5zM350.5,258.2h2.5v2.5h-2.5zM356.8,261.7h2.5v2.5h-2.5zM363.2,264.8h2.5v2.5h-2.5zM371.0,264.2h2.5v2.5h-2.5zM377.6,264.3h2.5v2.5h-2.5zM385.1,265.2h2.5v2.5h-2.5zM391.0,265.5h2.5v2.5h-2.5zM397.7,265.7h2.5v2.5h-2.5zM405.5,267.2h2.5v2.5h-2.5zM412.6,267.6h2.5v2.5h-2.5zM419.3,267.9h2.5v2.5h-2.5zM425.7,267.8h2.5v2.5h-2.5z" fill="#000"/>
<rect x="245.20" y="3.50" width="183.30" height="276.00" fill="none" stroke="#3a3a3a" stroke-width="1.0" />
<line x1="245.20" y1="127.40" x2="245.20" y2="141.50" stroke="#000" stroke-width="1.6" />
<line x1="242.60" y1="141.50" x2="245.20" y2="141.50" stroke="#000" stroke-width="1.2" />
<line x1="242.80" y1="17.60" x2="245.20" y2="17.60" stroke="#000" stroke-width="0.9" />
<line x1="243.90" y1="31.10" x2="245.20" y2="31.10" stroke="#000" stroke-width="0.7" />
<line x1="242.80" y1="44.60" x2="245.20" y2="44.60" stroke="#000" stroke-width="0.9" />
<line x1="243.90" y1="58.10" x2="245.20" y2="58.10" stroke="#000" stroke-width="0.7" />
<line x1="242.80" y1="71.60" x2="245.20" y2="71.60" stroke="#000" stroke-width="0.9" />
<line x1="243.90" y1="85.10" x2="245.20" y2="85.10" stroke="#000" stroke-width="0.7" />
<line x1="242.80" y1="98.60" x2="245.20" y2="98.60" stroke="#000" stroke-width="0.9" />
<line x1="243.90" y1="112.10" x2="245.20" y2="112.10" stroke="#000" stroke-width="0.7" />
<line x1="242.80" y1="125.60" x2="245.20" y2="125.60" stroke="#000" stroke-width="0.9" />
<line x1="242.80" y1="141.30" x2="245.20" y2="141.30" stroke="#000" stroke-width="0.9" />
<line x1="243.90" y1="151.10" x2="245.20" y2="151.10" stroke="#000" stroke-width="0.7" />
<line x1="242.80" y1="160.90" x2="245.20" y2="160.90" stroke="#000" stroke-width="0.9" />
<line x1="243.90" y1="170.70" x2="245.20" y2="170.70" stroke="#000" stroke-width="0.7" />
<line x1="242.80" y1="180.50" x2="245.20" y2="180.50" stroke="#000" stroke-width="0.9" />
<line x1="243.90" y1="190.30" x2="245.20" y2="190.30" stroke="#000" stroke-width="0.7" />
<line x1="242.80" y1="200.10" x2="245.20" y2="200.10" stroke="#000" stroke-width="0.9" />
<line x1="243.90" y1="209.90" x2="245.20" y2="209.90" stroke="#000" stroke-width="0.7" />
<line x1="242.80" y1="219.70" x2="245.20" y2="219.70" stroke="#000" stroke-width="0.9" />
<line x1="243.90" y1="229.50" x2="245.20" y2="229.50" stroke="#000" stroke-width="0.7" />
<line x1="242.80" y1="239.30" x2="245.20" y2="239.30" stroke="#000" stroke-width="0.9" />
<line x1="243.90" y1="249.10" x2="245.20" y2="249.10" stroke="#000" stroke-width="0.7" />
<line x1="242.80" y1="258.90" x2="245.20" y2="258.90" stroke="#000" stroke-width="0.9" />
<line x1="243.90" y1="268.70" x2="245.20" y2="268.70" stroke="#000" stroke-width="0.7" />
<line x1="245.20" y1="279.50" x2="245.20" y2="281.50" stroke="#000" stroke-width="0.9" />
<line x1="260.47" y1="279.50" x2="260.47" y2="281.00" stroke="#000" stroke-width="0.9" />
<line x1="275.75" y1="279.50" x2="275.75" y2="281.50" stroke="#000" stroke-width="0.9" />
<line x1="291.02" y1="279.50" x2="291.02" y2="281.00" stroke="#000" stroke-width="0.9" />
<line x1="306.30" y1="279.50" x2="306.30" y2="281.50" stroke="#000" stroke-width="0.9" />
<line x1="321.57" y1="279.50" x2="321.57" y2="281.00" stroke="#000" stroke-width="0.9" />
<line x1="336.85" y1="279.50" x2="336.85" y2="281.50" stroke="#000" stroke-width="0.9" />
<line x1="352.12" y1="279.50" x2="352.12" y2="281.00" stroke="#000" stroke-width="0.9" />
<line x1="367.40" y1="279.50" x2="367.40" y2="281.50" stroke="#000" stroke-width="0.9" />
<line x1="382.67" y1="279.50" x2="382.67" y2="281.00" stroke="#000" stroke-width="0.9" />
<line x1="397.95" y1="279.50" x2="397.95" y2="281.50" stroke="#000" stroke-width="0.9" />
<line x1="413.23" y1="279.50" x2="413.23" y2="281.00" stroke="#000" stroke-width="0.9" />
<line x1="428.50" y1="279.50" x2="428.50" y2="281.50" stroke="#000" stroke-width="0.9" />
<text x="245.20" y="289.30" font-size="7.5" font-weight="bold" text-anchor="middle" fill="#000" >290</text>
<text x="275.75" y="289.30" font-size="7.5" font-weight="bold" text-anchor="middle" fill="#000" >288</text>
<text x="306.30" y="289.30" font-size="7.5" font-weight="bold" text-anchor="middle" fill="#000" >286</text>
<text x="336.85" y="289.30" font-size="7.5" font-weight="bold" text-anchor="middle" fill="#000" >284</text>
<text x="367.40" y="289.30" font-size="7.5" font-weight="bold" text-anchor="middle" fill="#000" >282</text>
<text x="397.95" y="289.30" font-size="7.5" font-weight="bold" text-anchor="middle" fill="#000" >280</text>
<text x="428.50" y="289.30" font-size="7.5" font-weight="bold" text-anchor="middle" fill="#000" >278</text>
<text x="337.50" y="300.40" font-size="8.7" font-weight="bold" text-anchor="middle" fill="#000" >Binding Energy (eV)</text>
<text transform="translate(235.3,135.3) rotate(-90)" font-size="8.5" font-weight="bold" text-anchor="middle">Intensity (arb. units)</text>
<text x="224.00" y="14.50" font-size="11.0" font-weight="bold" text-anchor="start" fill="#000" >(c)</text>
<text x="425.70" y="18.00" font-size="12.2" font-weight="bold" text-anchor="end" fill="#000" >C 1s</text>
<text x="425.20" y="122.00" font-size="10.7" font-weight="bold" text-anchor="end" fill="#000" >gr/SiC</text>
<text x="426.30" y="261.90" font-size="10.5" font-weight="bold" text-anchor="end" fill="#000" >WS<tspan font-size="7.4" dy="2.5">2</tspan><tspan dy="-2.5">/gr/SiC</tspan></text>
<rect x="254.30" y="8.40" width="3.40" height="3.40" fill="#000" stroke="none" stroke-width="1" />
<text x="267.70" y="12.80" font-size="8.3" text-anchor="start" fill="#000" >Raw Data</text>
<rect x="248.30" y="18.00" width="16.10" height="4.00" fill="#fa7d78" stroke="none" stroke-width="1" />
<text x="267.70" y="22.90" font-size="8.3" text-anchor="start" fill="#000" >SiC</text>
<rect x="248.30" y="28.40" width="16.10" height="4.00" fill="#8282f5" stroke="none" stroke-width="1" />
<text x="267.70" y="33.00" font-size="8.3" text-anchor="start" fill="#000" >Graphene</text>
<rect x="248.30" y="38.70" width="16.10" height="4.00" fill="#ec50ec" stroke="none" stroke-width="1" />
<text x="267.70" y="43.10" font-size="8.3" text-anchor="start" fill="#000" >Buffer</text>
<line x1="247.00" y1="50.70" x2="265.70" y2="50.70" stroke="#1a1a9c" stroke-width="1.5" />
<text x="267.70" y="53.00" font-size="8.3" text-anchor="start" fill="#000" >Envelope</text>
<path d="M479.2,122.7 L479.5,122.6 L479.7,122.5 L480.0,122.5 L480.3,122.4 L480.5,122.4 L480.8,122.3 L481.0,122.2 L481.3,122.2 L481.6,122.1 L481.8,122.1 L482.1,122.1 L482.4,122.2 L482.6,122.2 L482.9,122.2 L483.2,122.2 L483.4,122.2 L483.7,122.2 L483.9,122.3 L484.2,122.3 L484.5,122.3 L484.7,122.3 L485.0,122.3 L485.3,122.3 L485.5,122.4 L485.8,122.4 L486.1,122.4 L486.3,122.4 L486.6,122.4 L486.8,122.4 L487.1,122.4 L487.4,122.3 L487.6,122.3 L487.9,122.3 L488.2,122.3 L488.4,122.3 L488.7,122.2 L489.0,122.2 L489.2,122.2 L489.5,122.3 L489.7,122.3 L490.0,122.3 L490.3,122.4 L490.5,122.4 L490.8,122.4 L491.1,122.5 L491.3,122.5 L491.6,122.5 L491.9,122.5 L492.1,122.4 L492.4,122.3 L492.6,122.2 L492.9,122.2 L493.2,122.1 L493.4,122.0 L493.7,122.0 L494.0,121.9 L494.2,121.8 L494.5,121.7 L494.8,121.6 L495.0,121.5 L495.3,121.3 L495.5,121.2 L495.8,121.1 L496.1,121.0 L496.3,120.9 L496.6,120.8 L496.9,120.8 L497.1,120.8 L497.4,120.8 L497.7,120.8 L497.9,120.8 L498.2,120.8 L498.4,120.8 L498.7,120.8 L499.0,120.8 L499.2,120.9 L499.5,121.0 L499.8,121.1 L500.0,121.1 L500.3,120.5 L500.6,119.0 L500.8,116.6 L501.1,113.8 L501.3,110.1 L501.6,103.3 L501.9,94.3 L502.1,84.5 L502.4,75.3 L502.7,66.3 L502.9,57.0 L503.2,48.2 L503.5,40.4 L503.7,32.7 L504.0,27.6 L504.2,25.3 L504.5,23.4 L504.8,21.9 L505.0,20.8 L505.3,20.0 L505.6,19.4 L505.8,18.8 L506.1,18.3 L506.4,17.9 L506.6,17.7 L506.9,17.5 L507.1,17.5 L507.4,17.5 L507.7,17.5 L507.9,17.6 L508.2,17.7 L508.5,17.8 L508.7,18.0 L509.0,18.4 L509.3,19.0 L509.5,19.7 L509.8,20.4 L510.0,21.1 L510.3,21.9 L510.6,22.8 L510.8,23.7 L511.1,24.6 L511.4,25.6 L511.6,26.5 L511.9,27.5 L512.2,28.5 L512.4,29.4 L512.7,30.2 L512.9,30.9 L513.2,31.5 L513.5,32.2 L513.7,32.8 L514.0,33.3 L514.3,34.0 L514.5,34.7 L514.8,35.3 L515.1,36.0 L515.3,36.6 L515.6,37.2 L515.8,37.8 L516.1,38.4 L516.4,39.0 L516.6,39.5 L516.9,39.9 L517.2,40.3 L517.4,40.6 L517.7,41.0 L518.0,41.3 L518.2,41.7 L518.5,42.0 L518.7,42.3 L519.0,42.7 L519.3,43.2 L519.5,43.7 L519.8,44.2 L520.1,44.7 L520.3,45.2 L520.6,45.7 L520.9,46.2 L521.1,46.7 L521.4,47.2 L521.6,47.6 L521.9,48.0 L522.2,48.5 L522.4,48.9 L522.7,49.4 L523.0,49.9 L523.2,50.4 L523.5,51.0 L523.8,51.5 L524.0,52.1 L524.3,52.6 L524.5,53.2 L524.8,53.7 L525.1,54.3 L525.3,54.9 L525.6,55.5 L525.9,56.1 L526.1,56.8 L526.4,57.4 L526.7,58.2 L526.9,59.0 L527.2,59.9 L527.5,60.7 L527.7,61.6 L528.0,62.5 L528.2,63.5 L528.5,64.4 L528.8,65.3 L529.0,66.2 L529.3,67.0 L529.6,67.7 L529.8,68.5 L530.1,69.3 L530.4,70.1 L530.6,70.9 L530.9,71.7 L531.1,72.5 L531.4,73.3 L531.7,74.2 L531.9,75.0 L532.2,75.9 L532.5,76.9 L532.7,77.8 L533.0,78.7 L533.3,79.7 L533.5,80.6 L533.8,81.5 L534.0,82.4 L534.3,83.4 L534.6,84.3 L534.8,85.1 L535.1,86.0 L535.4,86.7 L535.6,87.4 L535.9,88.1 L536.2,88.8 L536.4,89.4 L536.7,89.9 L536.9,90.4 L537.2,90.8 L537.5,91.3 L537.7,91.7 L538.0,92.1 L538.3,92.5 L538.5,92.9 L538.8,93.2 L539.1,93.6 L539.3,94.1 L539.6,94.5 L539.8,95.0 L540.1,95.4 L540.4,95.8 L540.6,96.3 L540.9,96.7 L541.2,97.2 L541.4,97.6 L541.7,98.1 L542.0,98.5 L542.2,98.9 L542.5,99.3 L542.7,99.7 L543.0,100.1 L543.3,100.5 L543.5,100.8 L543.8,101.1 L544.1,101.4 L544.3,101.6 L544.6,101.9 L544.9,102.1 L545.1,102.3 L545.4,102.6 L545.6,102.8 L545.9,103.0 L546.2,103.2 L546.4,103.3 L546.7,103.6 L547.0,103.9 L547.2,104.1 L547.5,104.3 L547.8,104.5 L548.0,104.7 L548.3,104.9 L548.5,105.0 L548.8,105.2 L549.1,105.3 L549.3,105.3 L549.6,105.4 L549.9,105.4 L550.1,105.4 L550.4,105.4 L550.7,105.4 L550.9,105.5 L551.2,105.5 L551.4,105.5 L551.7,105.4 L552.0,105.4 L552.2,105.4 L552.5,105.4 L552.8,105.3 L553.0,105.3 L553.3,105.3 L553.6,105.3 L553.8,105.2 L554.1,105.2 L554.3,105.2 L554.6,105.2 L554.9,105.2 L555.1,105.2 L555.4,105.2 L555.7,105.2 L555.9,105.2 L556.2,105.2 L556.5,105.2 L556.7,105.2 L557.0,105.3 L557.2,105.3 L557.5,105.3 L557.8,105.4 L558.0,105.4 L558.3,105.4 L558.6,105.4 L558.8,105.5 L559.1,105.5 L559.4,105.6 L559.6,105.6 L559.9,105.7 L560.1,105.8 L560.4,105.8 L560.7,105.9 L560.9,106.0 L561.2,106.0 L561.5,106.1 L561.7,106.1 L562.0,106.0 L562.3,106.0 L562.5,106.0 L562.8,105.9 L563.0,105.9 L563.3,105.9 L563.6,105.8 L563.8,105.8 L564.1,105.7 L564.4,105.7 L564.6,105.6 L564.9,105.5 L565.2,105.5 L565.4,105.4 L565.7,105.4 L565.9,105.3 L566.2,105.2 L566.5,105.2 L566.7,105.2 L567.0,105.3 L567.3,105.4 L567.5,105.4 L567.8,105.5 L568.1,105.6 L568.3,105.6 L568.6,105.7 L568.8,105.8 L569.1,105.8 L569.4,105.7 L569.6,105.7 L569.9,105.7 L570.2,105.6 L570.4,105.6 L570.7,105.5 L571.0,105.5 L571.2,105.5 L571.5,105.4 L571.7,105.4 L572.0,105.4 L572.3,105.4 L572.5,105.4 L572.8,105.4 L573.1,105.4 L573.3,105.4 L573.6,105.4 L573.9,105.4 L574.1,105.5 L574.4,105.6 L574.6,105.7 L574.9,105.7 L575.2,105.8 L575.4,105.9 L575.7,106.0 L576.0,106.1 L576.2,106.2 L576.5,106.3 L576.8,106.2 L577.0,106.1 L577.3,106.0 L577.5,105.9 L577.8,105.8 L578.1,105.7 L578.3,105.6 L578.6,105.5 L578.9,105.4 L579.1,105.3 L579.4,105.3 L579.7,105.3 L579.9,105.3 L580.2,105.3 L580.4,105.3 L580.7,105.3 L581.0,105.3 L581.2,105.2 L581.5,105.2 L581.8,105.2 L582.0,105.1 L582.3,105.0 L582.6,105.0 L582.8,104.9 L583.1,104.8 L583.3,104.7 L583.6,104.7 L583.9,104.6 L584.1,104.6 L584.4,104.6 L584.7,104.6 L584.9,104.6 L585.2,104.7 L585.5,104.7 L585.7,104.7 L586.0,104.7 L586.2,104.8 L586.5,104.8 L586.8,104.9 L587.0,105.0 L587.3,105.0 L587.6,105.1 L587.8,105.2 L588.1,105.3 L588.4,105.4 L588.6,105.5 L588.9,105.6 L589.1,105.6 L589.4,105.5 L589.7,105.5 L589.9,105.4 L590.2,105.4 L590.5,105.3 L590.7,105.3 L591.0,105.2 L591.3,105.2 L591.5,105.2 L591.8,105.3 L592.0,105.4 L592.3,105.5 L592.6,105.6 L592.8,105.7 L593.1,105.8 L593.4,105.9 L593.6,106.0 L593.9,106.1 L594.2,106.2 L594.4,106.2 L594.7,106.2 L594.9,106.2 L595.2,106.2 L595.5,106.2 L595.7,106.1 L596.0,106.1 L596.3,106.1 L596.5,106.2 L596.8,106.3 L597.1,106.4 L597.3,106.6 L597.6,106.7 L597.8,106.9 L598.1,107.0 L598.4,107.2 L598.6,107.4 L598.9,107.6 L599.2,107.8 L599.4,108.0 L599.7,108.3 L600.0,108.5 L600.2,108.8 L600.5,109.0 L600.7,109.3 L601.0,109.5 L601.3,109.8 L601.5,110.0 L601.8,110.2 L602.1,110.4 L602.3,110.6 L602.6,110.9 L602.9,111.1 L603.1,111.3 L603.4,111.5 L603.6,111.8 L603.9,112.0 L604.2,112.2 L604.4,112.3 L604.7,112.5 L605.0,112.7 L605.2,112.8 L605.5,113.0 L605.8,113.1 L606.0,113.3 L606.3,113.5 L606.5,113.6 L606.8,113.9 L607.1,114.1 L607.3,114.3 L607.6,114.6 L607.9,114.8 L608.1,115.0 L608.4,115.2 L608.7,115.5 L608.9,115.7 L609.2,115.9 L609.4,116.1 L609.7,116.3 L610.0,116.5 L610.2,116.7 L610.5,117.0 L610.8,117.2 L611.0,117.4 L611.3,117.6 L611.6,117.8 L611.8,117.9 L612.1,118.1 L612.3,118.2 L612.6,118.4 L612.9,118.5 L613.1,118.6 L613.4,118.7 L613.7,118.8 L613.9,118.9 L614.2,119.0 L614.5,119.0 L614.7,119.0 L615.0,119.1 L615.2,119.1 L615.5,119.1 L615.8,119.1 L616.0,119.1 L616.3,119.2 L616.6,119.2 L616.8,119.3 L617.1,119.5 L617.4,119.6 L617.6,119.7 L617.9,119.8 L618.2,119.9 L618.4,120.0 L618.7,120.1 L618.9,120.2 L619.2,120.3 L619.5,120.4 L619.7,120.5 L620.0,120.6 L620.3,120.6 L620.5,120.7 L620.8,120.8 L621.1,120.9 L621.3,121.0 L621.6,121.0 L621.8,121.0 L622.1,121.0 L622.4,121.0 L622.6,121.0 L622.9,121.0 L623.2,121.0 L623.4,120.9 L623.7,120.9 L624.0,120.9 L624.2,121.0 L624.5,121.0 L624.7,121.1 L625.0,121.2 L625.3,121.3 L625.5,121.3 L625.8,121.4 L626.1,121.5 L626.3,121.5 L626.6,121.6 L626.9,121.5 L627.1,121.4 L627.4,121.3 L627.6,121.3 L627.9,121.2 L628.2,121.1 L628.4,121.0 L628.7,120.9 L629.0,120.9 L629.2,120.9 L629.5,120.9 L629.8,121.0 L630.0,121.0 L630.3,121.1 L630.5,121.1 L630.8,121.2 L631.1,121.2 L631.3,121.3 L631.6,121.3 L631.9,121.4 L632.1,121.5 L632.4,121.5 L632.7,121.6 L632.9,121.7 L633.2,121.7 L633.4,121.8 L633.7,121.9 L634.0,122.0 L634.2,121.9 L634.5,121.7 L634.8,121.6 L635.0,121.5 L635.3,121.4 L635.6,121.2 L635.8,121.1 L636.1,121.0 L636.3,120.9 L636.6,120.8 L636.9,120.9 L637.1,120.9 L637.4,121.0 L637.7,121.1 L637.9,121.1 L638.2,121.2 L638.5,121.3 L638.7,121.3 L639.0,121.4 L639.2,121.4 L639.5,121.5 L639.8,121.6 L640.0,121.6 L640.3,121.7 L640.6,121.7 L640.8,121.8 L641.1,121.8 L641.4,121.9 L641.6,121.9 L641.9,121.8 L642.1,121.7 L642.4,121.7 L642.7,121.6 L642.9,121.5 L643.2,121.5 L643.5,121.4 L643.7,121.3 L644.0,121.2 L644.3,121.3 L644.5,121.4 L644.8,121.5 L645.0,121.6 L645.3,121.7 L645.6,121.8 L645.8,121.8 L646.1,121.9 L646.4,122.0 L646.6,122.1 L646.9,122.0 L647.2,122.0 L647.4,121.9 L647.7,121.9 L647.9,121.9 L648.2,121.8 L648.5,121.8 L648.7,121.8 L649.0,121.7 L649.3,121.8 L649.5,121.8 L649.8,121.8 L650.1,121.8 L650.3,121.9 L650.6,121.9 L650.8,121.9 L651.1,121.9 L651.4,122.0 L651.6,122.0 L651.9,122.0 L652.2,122.0 L652.4,122.0 L652.7,122.0 L653.0,122.0 L653.2,122.0 L653.5,122.0 L653.7,122.0 L654.0,122.0 L654.3,122.1 L654.5,122.1 L654.8,122.1 L655.1,122.1 L655.3,122.2 L655.6,122.2 L655.9,122.2 L656.1,122.2 L656.4,122.2 L656.6,122.2 L656.9,122.2 L657.2,122.2 L657.4,122.1 L657.7,122.1 L658.0,122.1 L658.2,122.0 L658.5,122.0 L658.8,122.0 L659.0,121.9 L659.3,122.0 L659.5,122.0 L659.8,122.0 L660.1,122.1 L660.3,122.1 L660.6,122.1 L660.9,122.2 L661.1,122.2 L661.4,122.2 L661.7,122.2 L661.9,122.2 L662.2,122.2 L662.4,122.1 L662.7,122.1 L663.0,122.1 L663.2,122.0 L663.5,122.0" stroke="#ff1a1a" stroke-width="2.2" fill="none" />
<line x1="504.80" y1="10.60" x2="501.20" y2="122.00" stroke="#000" stroke-width="1.2" stroke-dasharray="2.8,1.6"/>
<rect x="619.00" y="117.60" width="40.30" height="6.70" fill="none" stroke="#000" stroke-width="0.9" stroke-dasharray="2.4,1.4"/>
<rect x="479.20" y="3.20" width="183.50" height="123.80" fill="none" stroke="#111" stroke-width="1.15" />
<line x1="476.80" y1="21.40" x2="479.20" y2="21.40" stroke="#000" stroke-width="0.9" />
<line x1="477.80" y1="29.73" x2="479.20" y2="29.73" stroke="#000" stroke-width="0.7" />
<line x1="476.80" y1="38.06" x2="479.20" y2="38.06" stroke="#000" stroke-width="0.9" />
<line x1="477.80" y1="46.39" x2="479.20" y2="46.39" stroke="#000" stroke-width="0.7" />
<line x1="476.80" y1="54.72" x2="479.20" y2="54.72" stroke="#000" stroke-width="0.9" />
<line x1="477.80" y1="63.05" x2="479.20" y2="63.05" stroke="#000" stroke-width="0.7" />
<line x1="476.80" y1="71.38" x2="479.20" y2="71.38" stroke="#000" stroke-width="0.9" />
<line x1="477.80" y1="79.71" x2="479.20" y2="79.71" stroke="#000" stroke-width="0.7" />
<line x1="476.80" y1="88.04" x2="479.20" y2="88.04" stroke="#000" stroke-width="0.9" />
<line x1="477.80" y1="96.37" x2="479.20" y2="96.37" stroke="#000" stroke-width="0.7" />
<line x1="476.80" y1="104.70" x2="479.20" y2="104.70" stroke="#000" stroke-width="0.9" />
<line x1="477.80" y1="113.03" x2="479.20" y2="113.03" stroke="#000" stroke-width="0.7" />
<line x1="476.80" y1="121.36" x2="479.20" y2="121.36" stroke="#000" stroke-width="0.9" />
<line x1="479.20" y1="127.00" x2="479.20" y2="128.50" stroke="#000" stroke-width="0.9" />
<line x1="488.02" y1="127.00" x2="488.02" y2="129.00" stroke="#000" stroke-width="0.9" />
<line x1="496.84" y1="127.00" x2="496.84" y2="128.50" stroke="#000" stroke-width="0.9" />
<line x1="505.66" y1="127.00" x2="505.66" y2="129.00" stroke="#000" stroke-width="0.9" />
<line x1="514.48" y1="127.00" x2="514.48" y2="128.50" stroke="#000" stroke-width="0.9" />
<line x1="523.30" y1="127.00" x2="523.30" y2="129.00" stroke="#000" stroke-width="0.9" />
<line x1="532.12" y1="127.00" x2="532.12" y2="128.50" stroke="#000" stroke-width="0.9" />
<line x1="540.94" y1="127.00" x2="540.94" y2="129.00" stroke="#000" stroke-width="0.9" />
<line x1="549.76" y1="127.00" x2="549.76" y2="128.50" stroke="#000" stroke-width="0.9" />
<line x1="558.58" y1="127.00" x2="558.58" y2="129.00" stroke="#000" stroke-width="0.9" />
<line x1="567.40" y1="127.00" x2="567.40" y2="128.50" stroke="#000" stroke-width="0.9" />
<line x1="576.22" y1="127.00" x2="576.22" y2="129.00" stroke="#000" stroke-width="0.9" />
<line x1="585.04" y1="127.00" x2="585.04" y2="128.50" stroke="#000" stroke-width="0.9" />
<line x1="593.86" y1="127.00" x2="593.86" y2="129.00" stroke="#000" stroke-width="0.9" />
<line x1="602.68" y1="127.00" x2="602.68" y2="128.50" stroke="#000" stroke-width="0.9" />
<line x1="611.50" y1="127.00" x2="611.50" y2="129.00" stroke="#000" stroke-width="0.9" />
<line x1="620.32" y1="127.00" x2="620.32" y2="128.50" stroke="#000" stroke-width="0.9" />
<line x1="629.14" y1="127.00" x2="629.14" y2="129.00" stroke="#000" stroke-width="0.9" />
<line x1="637.96" y1="127.00" x2="637.96" y2="128.50" stroke="#000" stroke-width="0.9" />
<line x1="646.78" y1="127.00" x2="646.78" y2="129.00" stroke="#000" stroke-width="0.9" />
<line x1="655.60" y1="127.00" x2="655.60" y2="128.50" stroke="#000" stroke-width="0.9" />
<line x1="664.42" y1="127.00" x2="664.42" y2="129.00" stroke="#000" stroke-width="0.9" />
<text x="488.02" y="137.00" font-size="7.5" font-weight="bold" text-anchor="middle" fill="#000" >18</text>
<text x="505.66" y="137.00" font-size="7.5" font-weight="bold" text-anchor="middle" fill="#000" >16</text>
<text x="523.30" y="137.00" font-size="7.5" font-weight="bold" text-anchor="middle" fill="#000" >14</text>
<text x="540.94" y="137.00" font-size="7.5" font-weight="bold" text-anchor="middle" fill="#000" >12</text>
<text x="558.58" y="137.00" font-size="7.5" font-weight="bold" text-anchor="middle" fill="#000" >10</text>
<text x="576.22" y="137.00" font-size="7.5" font-weight="bold" text-anchor="middle" fill="#000" >8</text>
<text x="593.86" y="137.00" font-size="7.5" font-weight="bold" text-anchor="middle" fill="#000" >6</text>
<text x="611.50" y="137.00" font-size="7.5" font-weight="bold" text-anchor="middle" fill="#000" >4</text>
<text x="629.14" y="137.00" font-size="7.5" font-weight="bold" text-anchor="middle" fill="#000" >2</text>
<text x="646.78" y="137.00" font-size="7.5" font-weight="bold" text-anchor="middle" fill="#000" >0</text>
<text x="664.42" y="137.00" font-size="7.5" font-weight="bold" text-anchor="middle" fill="#000" >-2</text>
<text x="569.40" y="147.70" font-size="8.65" font-weight="bold" text-anchor="middle" fill="#000" >Binding Energy (eV)</text>
<text transform="translate(469.4,63.3) rotate(-90)" font-size="8.6" font-weight="bold" text-anchor="middle">Intensity (arb. units)</text>
<text x="456.00" y="14.70" font-size="10.3" font-weight="bold" text-anchor="start" fill="#000" >(d)</text>
<text x="480.50" y="12.90" font-size="8.5" text-anchor="start" fill="#000" >E<tspan font-size="5.5" dy="0.8">cut-off</tspan></text>
<text x="480.20" y="24.30" font-size="8.5" text-anchor="start" fill="#000" >16.43 eV</text>
<rect x="552.00" y="6.20" width="107.80" height="68.40" fill="#fff" stroke="none" stroke-width="1" />
<path d="M552.0,13.2 L552.4,13.4 L552.7,13.7 L553.1,13.9 L553.4,14.1 L553.8,14.3 L554.2,15.3 L554.5,16.2 L554.9,17.1 L555.2,18.0 L555.6,18.9 L556.0,18.5 L556.3,18.2 L556.7,17.8 L557.0,17.4 L557.4,16.9 L557.8,17.6 L558.1,18.3 L558.5,19.0 L558.9,19.7 L559.2,20.3 L559.6,19.9 L559.9,19.6 L560.3,19.2 L560.7,18.9 L561.0,18.7 L561.4,19.7 L561.7,20.6 L562.1,21.6 L562.5,22.7 L562.8,23.7 L563.2,23.9 L563.5,24.0 L563.9,24.1 L564.3,24.2 L564.6,24.2 L565.0,25.0 L565.3,25.8 L565.7,26.6 L566.1,27.3 L566.4,28.0 L566.8,27.4 L567.1,26.9 L567.5,26.3 L567.9,25.8 L568.2,25.4 L568.6,26.4 L568.9,27.4 L569.3,28.4 L569.7,29.5 L570.0,30.6 L570.4,30.8 L570.7,31.0 L571.1,31.2 L571.5,31.4 L571.8,31.7 L572.2,33.0 L572.6,34.2 L572.9,35.4 L573.3,36.6 L573.6,37.6 L574.0,37.3 L574.4,37.1 L574.7,36.8 L575.1,36.5 L575.4,36.3 L575.8,37.5 L576.2,38.6 L576.5,39.7 L576.9,40.9 L577.2,41.9 L577.6,41.8 L578.0,41.6 L578.3,41.6 L578.7,41.5 L579.0,41.5 L579.4,42.7 L579.8,43.9 L580.1,45.1 L580.5,46.3 L580.8,47.3 L581.2,47.3 L581.6,47.2 L581.9,47.2 L582.3,47.0 L582.6,47.0 L583.0,48.0 L583.4,49.0 L583.7,50.0 L584.1,51.0 L584.4,51.8 L584.8,51.2 L585.2,50.7 L585.5,50.3 L585.9,49.9 L586.3,49.9 L586.6,51.3 L587.0,52.9 L587.3,54.5 L587.7,56.0 L588.1,57.4 L588.4,57.6 L588.8,57.8 L589.1,57.8 L589.5,57.8 L589.9,57.9 L590.2,58.7 L590.6,59.4 L590.9,60.1 L591.3,60.8 L591.7,61.4 L592.0,61.3 L592.4,61.1 L592.7,61.0 L593.1,60.9 L593.5,60.8 L593.8,61.4 L594.2,62.0 L594.5,62.6 L594.9,63.1 L595.3,62.9 L595.6,63.0 L596.0,63.0 L596.3,63.0 L596.7,63.0 L597.1,63.1 L597.4,63.4 L597.8,63.7 L598.1,63.9 L598.5,64.2 L598.9,64.4 L599.2,64.3 L599.6,64.2 L600.0,64.1 L600.3,64.0 L600.7,64.0 L601.0,64.3 L601.4,64.6 L601.8,64.9 L602.1,65.2 L602.5,65.4 L602.8,65.3 L603.2,65.3 L603.6,65.3 L603.9,65.2 L604.3,65.2 L604.6,65.4 L605.0,65.7 L605.4,65.9 L605.7,66.1 L606.1,66.2 L606.4,66.0 L606.8,65.9 L607.2,65.7 L607.5,65.6 L607.9,65.5 L608.2,65.8 L608.6,66.1 L609.0,66.4 L609.3,66.7 L609.7,66.8 L610.0,66.6 L610.4,66.4 L610.8,66.2 L611.1,65.9 L611.5,65.9 L611.8,66.2 L612.2,66.6 L612.6,67.0 L612.9,67.4 L613.3,67.6 L613.7,67.5 L614.0,67.3 L614.4,67.2 L614.7,67.1 L615.1,67.0 L615.5,67.2 L615.8,67.5 L616.2,67.7 L616.5,67.9 L616.9,68.0 L617.3,67.8 L617.6,67.6 L618.0,67.5 L618.3,67.3 L618.7,67.2 L619.1,67.5 L619.4,67.8 L619.8,68.0 L620.1,68.3 L620.5,68.5 L620.9,68.4 L621.2,68.2 L621.6,68.1 L621.9,68.0 L622.3,68.0 L622.7,68.2 L623.0,68.4 L623.4,68.6 L623.7,68.8 L624.1,68.9 L624.5,68.7 L624.8,68.5 L625.2,68.2 L625.5,68.0 L625.9,68.0 L626.3,68.2 L626.6,68.4 L627.0,68.7 L627.4,68.9 L627.7,69.0 L628.1,68.9 L628.4,68.7 L628.8,68.5 L629.2,68.4 L629.5,68.3 L629.9,68.5 L630.2,68.6 L630.6,68.8 L631.0,68.9 L631.3,69.0 L631.7,68.8 L632.0,68.7 L632.4,68.5 L632.8,68.4 L633.1,68.4 L633.5,68.5 L633.8,68.7 L634.2,68.9 L634.6,69.1 L634.9,69.2 L635.3,68.9 L635.6,68.7 L636.0,68.5 L636.4,68.3 L636.7,68.2 L637.1,68.4 L637.4,68.5 L637.8,68.7 L638.2,68.8 L638.5,68.9 L638.9,68.7 L639.2,68.6 L639.6,68.4 L640.0,68.3 L640.3,68.3 L640.7,68.4 L641.1,68.5 L641.4,68.7 L641.8,68.8 L642.1,68.8 L642.5,68.7 L642.9,68.5 L643.2,68.3 L643.6,68.2 L643.9,68.2 L644.3,68.4 L644.7,68.6 L645.0,68.8 L645.4,69.0 L645.7,69.0 L646.1,68.8 L646.5,68.6 L646.8,68.4 L647.2,68.2 L647.5,68.2 L647.9,68.7 L648.3,69.1 L648.6,69.5 L649.0,70.0 L649.3,70.1 L649.7,69.7 L650.1,69.3 L650.4,69.0 L650.8,68.6 L651.1,68.4 L651.5,68.6 L651.9,68.7 L652.2,68.8 L652.6,68.9 L652.9,68.9 L653.3,68.8 L653.7,68.6 L654.0,68.4 L654.4,68.3 L654.8,68.2 L655.1,68.4 L655.5,68.6 L655.8,68.7 L656.2,68.9 L656.6,68.9 L656.9,68.8 L657.3,68.7 L657.6,68.6 L658.0,68.5 L658.4,68.5 L658.7,68.7 L659.1,68.8 L659.4,69.0 L659.8,69.1" stroke="#ff1a1a" stroke-width="1.7" fill="none" />
<path d="M552.0,24.7 L552.4,24.4 L552.7,25.0 L553.1,25.4 L553.4,25.7 L553.8,26.2 L554.2,27.3 L554.5,27.7 L554.9,27.6 L555.2,28.0 L555.6,29.0 L556.0,30.2 L556.3,30.2 L556.7,31.7 L557.0,31.2 L557.4,32.3 L557.8,31.9 L558.1,33.5 L558.5,34.4 L558.9,35.5 L559.2,36.8 L559.6,36.8 L559.9,38.2 L560.3,38.5 L560.7,39.3 L561.0,39.3 L561.4,40.8 L561.7,40.4 L562.1,41.8 L562.5,41.7 L562.8,42.6 L563.2,42.8 L563.5,43.8 L563.9,44.8 L564.3,45.2 L564.6,45.3 L565.0,47.1 L565.3,47.2 L565.7,48.1 L566.1,48.6 L566.4,48.5 L566.8,48.5 L567.1,49.5 L567.5,51.0 L567.9,50.5 L568.2,51.8 L568.6,51.7 L568.9,52.5 L569.3,51.9 L569.7,53.7 L570.0,53.5 L570.4,54.3 L570.7,54.3 L571.1,54.9 L571.5,54.9 L571.8,55.6 L572.2,54.9 L572.6,55.4 L572.9,56.5 L573.3,56.4 L573.6,56.6 L574.0,56.9 L574.4,57.5 L574.7,57.2 L575.1,57.9 L575.4,57.5 L575.8,58.0 L576.2,58.8 L576.5,59.1 L576.9,58.3 L577.2,59.4 L577.6,58.8 L578.0,59.7 L578.3,58.8 L578.7,59.3 L579.0,59.7 L579.4,60.1 L579.8,60.9 L580.1,60.9 L580.5,61.3 L580.8,61.3 L581.2,60.8 L581.6,60.9 L581.9,61.6 L582.3,61.3 L582.6,61.3 L583.0,60.9 L583.4,61.6 L583.7,60.5 L584.1,61.6 L584.4,61.5 L584.8,62.3 L585.2,61.9 L585.5,62.1 L585.9,62.9 L586.3,61.9 L586.6,62.6 L587.0,61.7 L587.3,62.7 L587.7,62.9 L588.1,63.2 L588.4,62.5 L588.8,63.1 L589.1,63.2 L589.5,63.1 L589.9,63.3 L590.2,63.4 L590.6,63.4 L590.9,63.2 L591.3,63.2 L591.7,64.2 L592.0,64.1 L592.4,63.3 L592.7,63.9 L593.1,64.0 L593.5,64.1 L593.8,64.0 L594.2,63.8 L594.5,64.0 L594.9,64.0 L595.3,64.2 L595.6,64.2 L596.0,64.3 L596.3,64.6 L596.7,64.8 L597.1,64.2 L597.4,64.5 L597.8,64.4 L598.1,65.0 L598.5,64.7 L598.9,65.2 L599.2,64.8 L599.6,64.9 L600.0,64.7 L600.3,65.4 L600.7,65.0 L601.0,64.8 L601.4,65.1 L601.8,64.7 L602.1,65.4 L602.5,65.5 L602.8,65.6 L603.2,65.9 L603.6,65.5 L603.9,65.9 L604.3,65.8 L604.6,65.8 L605.0,65.4 L605.4,66.2 L605.7,65.9 L606.1,66.1 L606.4,65.8 L606.8,66.3 L607.2,66.3 L607.5,66.3 L607.9,66.4 L608.2,66.7 L608.6,66.8 L609.0,66.8 L609.3,67.5 L609.7,66.5 L610.0,66.7 L610.4,66.6 L610.8,67.0 L611.1,66.8 L611.5,66.3 L611.8,66.7 L612.2,67.1 L612.6,67.4 L612.9,66.8 L613.3,67.1 L613.7,67.3 L614.0,67.2 L614.4,67.5 L614.7,67.4 L615.1,67.5 L615.5,67.3 L615.8,67.9 L616.2,67.6 L616.5,67.9 L616.9,67.5 L617.3,67.8 L617.6,67.5 L618.0,67.5 L618.3,67.6 L618.7,67.8 L619.1,67.7 L619.4,68.2 L619.8,67.6 L620.1,67.6 L620.5,68.3 L620.9,68.0 L621.2,67.4 L621.6,68.1 L621.9,68.0 L622.3,67.4 L622.7,67.9 L623.0,68.0 L623.4,68.2 L623.7,68.3 L624.1,68.1 L624.5,68.3 L624.8,68.0 L625.2,67.9 L625.5,67.9 L625.9,68.3 L626.3,67.6 L626.6,68.3 L627.0,67.9 L627.4,68.1 L627.7,68.3 L628.1,68.5 L628.4,67.7 L628.8,68.0 L629.2,68.2 L629.5,68.1 L629.9,68.5 L630.2,67.7 L630.6,68.4 L631.0,68.4 L631.3,68.3 L631.7,68.6 L632.0,68.0 L632.4,68.6 L632.8,68.2 L633.1,68.5 L633.5,68.3 L633.8,68.6 L634.2,68.6 L634.6,68.0 L634.9,68.3 L635.3,68.4 L635.6,68.3 L636.0,68.2 L636.4,68.9 L636.7,68.5 L637.1,68.8 L637.4,68.3 L637.8,68.2 L638.2,68.5 L638.5,68.3 L638.9,69.1 L639.2,68.5 L639.6,68.8 L640.0,68.4 L640.3,68.4 L640.7,68.5 L641.1,68.6 L641.4,68.7 L641.8,68.5 L642.1,68.4 L642.5,68.3 L642.9,68.5 L643.2,68.7 L643.6,68.7 L643.9,68.6 L644.3,68.4 L644.7,68.6 L645.0,68.7 L645.4,68.6 L645.7,68.6 L646.1,68.6 L646.5,68.9 L646.8,68.5 L647.2,68.7 L647.5,68.7 L647.9,68.8 L648.3,69.0 L648.6,68.8 L649.0,68.8 L649.3,68.3 L649.7,68.8 L650.1,69.3 L650.4,68.5 L650.8,68.4 L651.1,68.7 L651.5,69.0 L651.9,68.8 L652.2,68.6 L652.6,68.7 L652.9,69.0 L653.3,68.9 L653.7,69.3 L654.0,69.0 L654.4,68.8 L654.8,68.9 L655.1,68.7 L655.5,68.5 L655.8,68.8 L656.2,68.9 L656.6,68.4 L656.9,68.6 L657.3,68.7 L657.6,68.8 L658.0,68.7 L658.4,68.9 L658.7,68.8 L659.1,69.1 L659.4,68.4 L659.8,69.2" stroke="#1a1aff" stroke-width="1.5" fill="none" />
<path d="M581.1,28.1 L591.2,68.7 L659.5,68.7" stroke="#000" stroke-width="1.0" fill="none" stroke-dasharray="2.2,1.4"/>
<rect x="552.00" y="6.20" width="107.80" height="68.40" fill="none" stroke="#000" stroke-width="1" />
<line x1="549.80" y1="12.00" x2="552.00" y2="12.00" stroke="#000" stroke-width="0.8" />
<line x1="549.80" y1="23.50" x2="552.00" y2="23.50" stroke="#000" stroke-width="0.8" />
<line x1="549.80" y1="35.00" x2="552.00" y2="35.00" stroke="#000" stroke-width="0.8" />
<line x1="549.80" y1="46.50" x2="552.00" y2="46.50" stroke="#000" stroke-width="0.8" />
<line x1="549.80" y1="58.00" x2="552.00" y2="58.00" stroke="#000" stroke-width="0.8" />
<line x1="549.80" y1="69.50" x2="552.00" y2="69.50" stroke="#000" stroke-width="0.8" />
<line x1="552.00" y1="74.60" x2="552.00" y2="76.40" stroke="#000" stroke-width="0.8" />
<line x1="564.15" y1="74.60" x2="564.15" y2="75.80" stroke="#000" stroke-width="0.8" />
<line x1="576.30" y1="74.60" x2="576.30" y2="76.40" stroke="#000" stroke-width="0.8" />
<line x1="588.45" y1="74.60" x2="588.45" y2="75.80" stroke="#000" stroke-width="0.8" />
<line x1="600.60" y1="74.60" x2="600.60" y2="76.40" stroke="#000" stroke-width="0.8" />
<line x1="612.75" y1="74.60" x2="612.75" y2="75.80" stroke="#000" stroke-width="0.8" />
<line x1="624.90" y1="74.60" x2="624.90" y2="76.40" stroke="#000" stroke-width="0.8" />
<line x1="637.05" y1="74.60" x2="637.05" y2="75.80" stroke="#000" stroke-width="0.8" />
<line x1="649.20" y1="74.60" x2="649.20" y2="76.40" stroke="#000" stroke-width="0.8" />
<line x1="661.35" y1="74.60" x2="661.35" y2="75.80" stroke="#000" stroke-width="0.8" />
<text x="552.00" y="81.70" font-size="7.0" text-anchor="middle" fill="#000" >3</text>
<text x="576.30" y="81.70" font-size="7.0" text-anchor="middle" fill="#000" >2</text>
<text x="600.60" y="81.70" font-size="7.0" text-anchor="middle" fill="#000" >1</text>
<text x="624.90" y="81.70" font-size="7.0" text-anchor="middle" fill="#000" >0</text>
<text x="649.20" y="81.70" font-size="7.0" text-anchor="middle" fill="#000" >-1</text>
<text x="608.00" y="89.70" font-size="7.0" font-weight="bold" text-anchor="middle" fill="#000" >Binding Energy (eV)</text>
<text transform="translate(546.3,39.5) rotate(-90)" font-size="7.3" font-weight="bold" text-anchor="middle">Intensity (arb. units)</text>
<text x="568.20" y="15.90" font-size="8.5" text-anchor="start" fill="#000" >VBM</text>
<text x="568.20" y="26.10" font-size="8.5" text-anchor="start" fill="#000" >1.38 eV</text>
<line x1="597.20" y1="31.50" x2="609.80" y2="31.50" stroke="#ff1a1a" stroke-width="1.4" />
<text x="611.70" y="33.30" font-size="5.6" text-anchor="start" fill="#000" >WS<tspan font-size="4" dy="1">2</tspan><tspan dy="-1">/graphene/SiC</tspan></text>
<line x1="597.20" y1="39.70" x2="609.80" y2="39.70" stroke="#1a1aff" stroke-width="1.4" />
<text x="611.70" y="41.00" font-size="5.6" text-anchor="start" fill="#000" >graphene/SiC</text>
<text x="460.30" y="168.60" font-size="10.3" font-weight="bold" text-anchor="start" fill="#000" >(e)</text>
<line x1="465.50" y1="172.00" x2="669.00" y2="172.00" stroke="#1a1a1a" stroke-width="1.5" stroke-dasharray="3.8,1.9"/>
<line x1="465.30" y1="238.00" x2="669.00" y2="238.00" stroke="#1a1a1a" stroke-width="1.5" stroke-dasharray="3.8,1.9"/>
<rect x="553.40" y="164.20" width="14.40" height="141.50" fill="#808080" stroke="none" stroke-width="1" />
<text x="543.90" y="161.60" font-size="8.2" text-anchor="start" fill="#000" >vdW gap</text>
<line x1="474.70" y1="196.50" x2="539.40" y2="297.80" stroke="#222" stroke-width="1.0" />
<line x1="539.20" y1="196.50" x2="475.50" y2="297.80" stroke="#222" stroke-width="1.0" />
<text x="490.90" y="213.20" font-size="8.2" text-anchor="start" fill="#000" >graphene</text>
<path d="M585.9,204.2" stroke="none" stroke-width="1" fill="none" />
<path d="M585.9,204.2 Q614.8,250.6 643.7,204.2" stroke="#111" stroke-width="1.1" fill="none"/>
<path d="M585.9,295.5 Q615,249.1 644,295.5" stroke="#111" stroke-width="1.1" fill="none"/>
<text x="607.60" y="213.20" font-size="8.2" text-anchor="start" fill="#000" >WS<tspan font-size="5.8" dy="2">2</tspan></text>
<line x1="653.10" y1="176.00" x2="653.10" y2="233.00" stroke="#f58a3a" stroke-width="1.1" />
<path d="M653.1,173 L651,177.2 L655.2,177.2Z" fill="#f58a3a"/>
<path d="M653.1,236 L651,231.8 L655.2,231.8Z" fill="#f58a3a"/>
<rect x="636.50" y="190.50" width="30.00" height="9.00" fill="#fff" stroke="none" stroke-width="1" />
<text x="637.60" y="197.70" font-size="8.4" text-anchor="start" fill="#000" >4.79 eV</text>
<line x1="645.80" y1="242.00" x2="645.80" y2="268.00" stroke="#f58a3a" stroke-width="1.1" />
<path d="M645.8,239 L643.7,243.2 L647.9,243.2Z" fill="#f58a3a"/>
<path d="M645.8,270.7 L643.7,266.5 L647.9,266.5Z" fill="#f58a3a"/>
<rect x="631.00" y="250.50" width="31.00" height="9.00" fill="#fff" stroke="none" stroke-width="1" />
<text x="631.80" y="257.70" font-size="8.4" text-anchor="start" fill="#000" >1.38 eV</text>
<text x="654.30" y="168.70" font-size="8.6" text-anchor="start" fill="#000" >E<tspan font-size="5.0" dy="1.4">vac</tspan></text>
<text x="659.50" y="234.50" font-size="8.6" text-anchor="start" fill="#000" >E<tspan font-size="5.0" dy="1.4">F</tspan></text>
<line x1="490.00" y1="254.30" x2="503.50" y2="248.20" stroke="#f58a3a" stroke-width="1.0" />
<path d="M506.5,247.2 L501.6,247 L503.2,250.6Z" fill="#f58a3a"/>
<text x="463.90" y="260.00" font-size="8.3" text-anchor="start" fill="#000" >0.4 eV</text>
</svg></body></html>
